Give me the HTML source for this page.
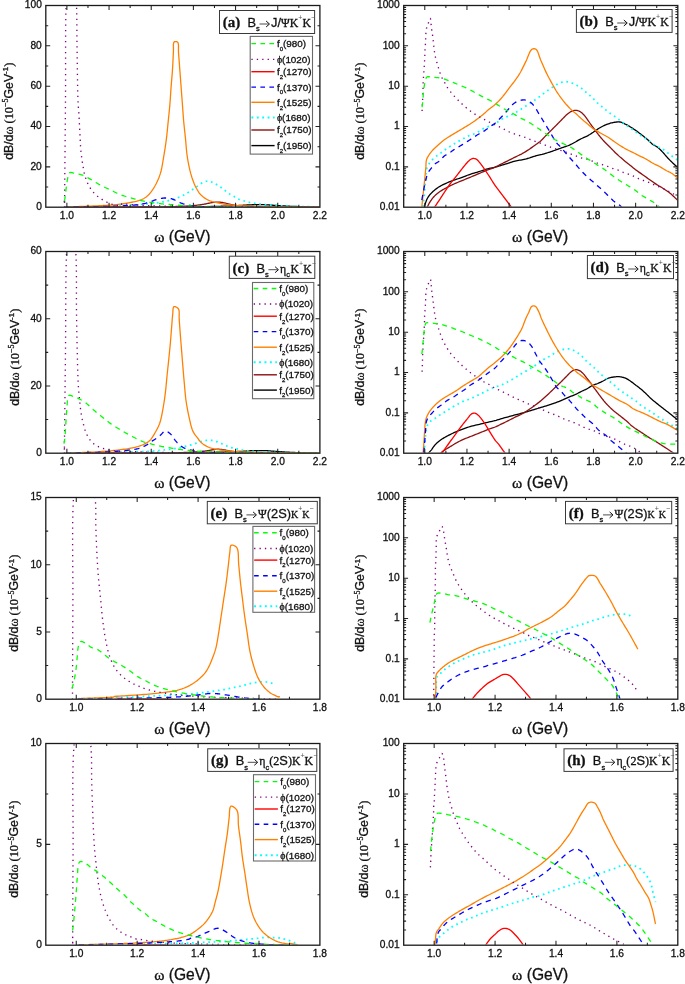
<!DOCTYPE html><html><head><meta charset="utf-8"><style>html,body{margin:0;padding:0;background:#fff;width:685px;height:984px;overflow:hidden}
svg{display:block;will-change:transform}
svg{font-family:"Liberation Sans", sans-serif}
text{fill:#111;stroke:#111;stroke-width:0.3px}
.tl{font-size:10.2px}
.xl{font-size:15.6px}
.yl{font-size:12.3px}
.tt{font-size:12.8px}
.lg{font-size:9.9px}
</style></head><body><svg width="685" height="984" viewBox="0 0 685 984">
<rect width="685" height="984" fill="#fff"/>
<g clip-path="url(#clipa)">
<path d="M66.60 207.18 L66.71 207.18 L66.81 207.18 L66.91 207.18 L67.02 207.18 L67.15 207.18 L67.30 207.18 L67.55 207.17 L67.84 207.17 L68.16 207.17 L68.52 207.17 L68.90 207.17 L69.30 207.17 L69.69 207.17 L70.10 207.16 L70.54 207.16 L71.00 207.16 L71.49 207.16 L72.00 207.16 L72.59 207.16 L73.22 207.16 L73.87 207.15 L74.56 207.15 L75.27 207.15 L76.00 207.15 L76.83 207.15 L77.69 207.14 L78.58 207.14 L79.49 207.14 L80.43 207.14 L81.40 207.14 L82.45 207.13 L83.53 207.13 L84.64 207.13 L85.77 207.13 L86.93 207.12 L88.10 207.12 L89.38 207.12 L90.70 207.12 L92.04 207.11 L93.39 207.11 L94.75 207.11 L96.10 207.11 L97.45 207.10 L98.80 207.10 L100.15 207.10 L101.50 207.09 L102.85 207.09 L104.20 207.09 L105.54 207.09 L106.87 207.08 L108.20 207.08 L109.53 207.08 L110.86 207.07 L112.20 207.07 L113.54 207.06 L114.89 207.06 L116.24 207.06 L117.60 207.06 L118.95 207.05 L120.30 207.05 L121.65 207.04 L122.99 207.04 L124.33 207.04 L125.67 207.03 L127.03 207.03 L128.40 207.02 L129.84 207.02 L131.31 207.02 L132.80 207.01 L134.27 207.01 L135.71 207.01 L137.10 207.00 L138.27 207.00 L139.40 206.99 L140.51 206.99 L141.60 206.99 L142.69 206.98 L143.80 206.98 L144.92 206.97 L146.03 206.97 L147.15 206.97 L148.27 206.96 L149.38 206.96 L150.50 206.95 L151.62 206.95 L152.73 206.94 L153.84 206.94 L154.96 206.93 L156.07 206.92 L157.20 206.92 L158.33 206.92 L159.46 206.91 L160.60 206.91 L161.73 206.91 L162.87 206.90 L164.00 206.90 L165.12 206.89 L166.24 206.89 L167.36 206.89 L168.48 206.88 L169.59 206.88 L170.70 206.87 L171.82 206.86 L172.94 206.86 L174.05 206.85 L175.16 206.84 L176.28 206.83 L177.40 206.83 L178.51 206.82 L179.63 206.81 L180.75 206.81 L181.87 206.80 L182.99 206.80 L184.10 206.79 L185.22 206.78 L186.34 206.77 L187.46 206.77 L188.57 206.76 L189.69 206.75 L190.80 206.74 L191.92 206.73 L193.04 206.72 L194.15 206.71 L195.27 206.70 L196.38 206.69 L197.50 206.67 L198.62 206.66 L199.73 206.65 L200.85 206.64 L201.96 206.62 L203.08 206.61 L204.20 206.60 L205.34 206.58 L206.49 206.57 L207.65 206.56 L208.79 206.54 L209.91 206.53 L211.00 206.51 L211.98 206.49 L212.92 206.47 L213.85 206.45 L214.77 206.43 L215.68 206.41 L216.60 206.39 L217.52 206.37 L218.41 206.34 L219.31 206.31 L220.21 206.28 L221.14 206.26 L222.10 206.23 L223.22 206.20 L224.40 206.17 L225.61 206.13 L226.81 206.10 L227.99 206.07 L229.10 206.03 L230.05 206.00 L230.97 205.96 L231.87 205.92 L232.74 205.88 L233.62 205.84 L234.50 205.79 L235.39 205.74 L236.27 205.69 L237.15 205.63 L238.02 205.58 L238.91 205.52 L239.80 205.46 L240.69 205.40 L241.58 205.35 L242.48 205.29 L243.38 205.23 L244.29 205.18 L245.20 205.12 L246.09 205.07 L246.98 205.02 L247.88 204.98 L248.78 204.93 L249.69 204.89 L250.60 204.84 L251.49 204.81 L252.38 204.77 L253.27 204.73 L254.17 204.70 L255.08 204.67 L256.00 204.65 L256.99 204.63 L258.00 204.60 L259.03 204.59 L260.05 204.58 L261.05 204.58 L262.00 204.59 L262.82 204.61 L263.62 204.65 L264.39 204.69 L265.15 204.74 L265.91 204.79 L266.70 204.84 L267.59 204.90 L268.49 204.96 L269.40 205.02 L270.30 205.08 L271.21 205.14 L272.10 205.20 L272.99 205.26 L273.88 205.32 L274.77 205.38 L275.65 205.44 L276.52 205.50 L277.40 205.56 L278.30 205.61 L279.19 205.67 L280.07 205.73 L280.97 205.78 L281.87 205.84 L282.80 205.89 L283.89 205.95 L285.02 206.01 L286.17 206.07 L287.31 206.13 L288.43 206.19 L289.50 206.24 L290.44 206.28 L291.34 206.33 L292.22 206.37 L293.10 206.41 L293.98 206.44 L294.90 206.47 L295.79 206.50 L296.70 206.52 L297.63 206.54 L298.55 206.56 L299.44 206.58 L300.30 206.60 L301.13 206.62 L301.94 206.65 L302.71 206.67 L303.48 206.69 L304.24 206.72 L305.00 206.74 L305.79 206.76 L306.56 206.78 L307.33 206.80 L308.10 206.82 L308.89 206.84 L309.70 206.86 L310.58 206.88 L311.49 206.90 L312.42 206.91 L313.35 206.93 L314.25 206.94 L315.10 206.95 L315.76 206.96 L316.41 206.97 L317.04 206.98 L317.65 206.98 L318.24 206.99 L318.80 206.99 L319.21 207.00 L319.61 207.00 L319.98 207.01 L320.35 207.01 L320.72 207.01 L321.10 207.02" stroke="#000000" stroke-width="1.3" fill="none" stroke-linejoin="round"/>
<path d="M69.30 207.18 L69.74 207.18 L70.17 207.18 L70.59 207.18 L71.03 207.18 L71.50 207.17 L72.00 207.17 L72.59 207.17 L73.21 207.17 L73.85 207.17 L74.54 207.17 L75.25 207.17 L76.00 207.16 L76.81 207.16 L77.67 207.16 L78.56 207.16 L79.48 207.16 L80.43 207.15 L81.40 207.15 L82.45 207.15 L83.53 207.15 L84.64 207.15 L85.77 207.14 L86.93 207.14 L88.10 207.14 L89.38 207.14 L90.70 207.13 L92.04 207.13 L93.39 207.13 L94.75 207.13 L96.10 207.12 L97.44 207.12 L98.79 207.12 L100.14 207.12 L101.50 207.11 L102.85 207.11 L104.20 207.11 L105.54 207.10 L106.87 207.10 L108.20 207.10 L109.53 207.10 L110.86 207.09 L112.20 207.09 L113.55 207.09 L114.90 207.08 L116.25 207.08 L117.60 207.07 L118.95 207.07 L120.30 207.07 L121.65 207.06 L122.99 207.06 L124.33 207.05 L125.67 207.05 L127.03 207.04 L128.40 207.04 L129.84 207.03 L131.32 207.03 L132.81 207.02 L134.28 207.01 L135.72 207.01 L137.10 207.00 L138.28 207.00 L139.41 206.99 L140.51 206.98 L141.60 206.97 L142.69 206.97 L143.80 206.96 L144.92 206.95 L146.03 206.94 L147.15 206.94 L148.27 206.93 L149.38 206.92 L150.50 206.91 L151.62 206.90 L152.73 206.89 L153.85 206.88 L154.96 206.87 L156.08 206.86 L157.20 206.85 L158.33 206.84 L159.47 206.83 L160.61 206.81 L161.75 206.80 L162.88 206.79 L164.00 206.77 L165.13 206.76 L166.26 206.74 L167.37 206.72 L168.49 206.70 L169.59 206.68 L170.70 206.66 L171.83 206.64 L172.97 206.61 L174.11 206.59 L175.23 206.56 L176.33 206.53 L177.40 206.50 L178.34 206.47 L179.26 206.44 L180.16 206.41 L181.05 206.38 L181.93 206.35 L182.80 206.31 L183.71 206.27 L184.59 206.22 L185.47 206.17 L186.34 206.11 L187.22 206.05 L188.10 205.99 L189.00 205.93 L189.89 205.86 L190.80 205.79 L191.70 205.72 L192.60 205.64 L193.50 205.56 L194.40 205.47 L195.30 205.38 L196.20 205.28 L197.11 205.18 L198.00 205.07 L198.90 204.96 L199.79 204.84 L200.67 204.72 L201.55 204.59 L202.43 204.45 L203.31 204.31 L204.20 204.15 L205.10 203.99 L206.01 203.81 L206.92 203.63 L207.82 203.44 L208.72 203.25 L209.60 203.08 L210.29 202.95 L210.97 202.82 L211.65 202.70 L212.32 202.59 L213.00 202.48 L213.70 202.39 L214.35 202.32 L215.02 202.25 L215.69 202.19 L216.36 202.15 L217.03 202.12 L217.70 202.11 L218.37 202.12 L219.05 202.14 L219.73 202.18 L220.40 202.24 L221.06 202.31 L221.70 202.39 L222.40 202.50 L223.10 202.63 L223.77 202.77 L224.44 202.92 L225.08 203.07 L225.70 203.22 L226.31 203.36 L226.88 203.51 L227.44 203.66 L227.98 203.80 L228.53 203.94 L229.10 204.08 L229.76 204.24 L230.42 204.40 L231.08 204.55 L231.75 204.70 L232.42 204.84 L233.10 204.96 L233.77 205.08 L234.46 205.18 L235.14 205.28 L235.83 205.38 L236.52 205.47 L237.20 205.56 L237.87 205.64 L238.52 205.72 L239.17 205.79 L239.83 205.86 L240.50 205.93 L241.20 205.99 L241.94 206.05 L242.70 206.11 L243.46 206.17 L244.25 206.22 L245.06 206.27 L245.90 206.32 L246.84 206.37 L247.82 206.41 L248.82 206.46 L249.84 206.50 L250.87 206.54 L251.90 206.57 L252.99 206.61 L254.10 206.65 L255.21 206.68 L256.33 206.72 L257.46 206.75 L258.60 206.77 L259.72 206.80 L260.84 206.82 L261.98 206.84 L263.12 206.86 L264.26 206.88 L265.40 206.90 L266.51 206.91 L267.63 206.93 L268.74 206.94 L269.86 206.95 L270.98 206.97 L272.10 206.98 L273.21 206.99 L274.33 207.00 L275.44 207.01 L276.55 207.02 L277.67 207.03 L278.80 207.04 L279.91 207.04 L281.02 207.05 L282.14 207.06 L283.26 207.06 L284.38 207.07 L285.50 207.07 L286.62 207.08 L287.73 207.09 L288.85 207.09 L289.96 207.10 L291.08 207.10 L292.20 207.10 L293.31 207.11 L294.42 207.11 L295.54 207.12 L296.65 207.12 L297.77 207.12 L298.90 207.13 L300.03 207.13 L301.16 207.13 L302.30 207.13 L303.44 207.14 L304.58 207.14 L305.70 207.14 L306.83 207.14 L307.97 207.15 L309.09 207.15 L310.21 207.15 L311.32 207.15 L312.40 207.16 L313.54 207.16 L314.69 207.16 L315.83 207.16 L316.92 207.17 L317.92 207.17 L318.80 207.17 L319.25 207.17 L319.65 207.17 L320.02 207.17 L320.38 207.17 L320.73 207.17 L321.10 207.17" stroke="#8c1010" stroke-width="1.3" fill="none" stroke-linejoin="round"/>
<path d="M65.20 207.18 L65.43 207.18 L65.67 207.17 L65.90 207.17 L66.14 207.16 L66.37 207.16 L66.60 207.15 L66.82 207.15 L67.04 207.14 L67.26 207.13 L67.47 207.12 L67.69 207.11 L67.90 207.10 L68.04 207.09 L68.13 207.07 L68.22 207.06 L68.36 207.04 L68.60 207.03 L69.00 207.01 L69.44 207.00 L69.97 206.98 L70.57 206.97 L71.22 206.96 L71.90 206.94 L72.60 206.93 L73.31 206.92 L74.05 206.90 L74.83 206.89 L75.64 206.88 L76.46 206.86 L77.30 206.85 L78.16 206.83 L79.05 206.82 L79.96 206.80 L80.87 206.79 L81.79 206.77 L82.70 206.76 L83.60 206.74 L84.50 206.72 L85.40 206.70 L86.29 206.68 L87.20 206.66 L88.10 206.64 L88.98 206.62 L89.86 206.61 L90.74 206.59 L91.63 206.57 L92.51 206.55 L93.40 206.53 L94.29 206.50 L95.19 206.48 L96.09 206.45 L96.99 206.43 L97.89 206.41 L98.80 206.38 L99.69 206.36 L100.58 206.33 L101.48 206.31 L102.38 206.29 L103.29 206.26 L104.20 206.24 L105.19 206.21 L106.18 206.17 L107.19 206.14 L108.20 206.10 L109.20 206.07 L110.20 206.03 L111.11 206.01 L112.01 205.98 L112.91 205.96 L113.81 205.94 L114.71 205.92 L115.60 205.89 L116.51 205.86 L117.41 205.83 L118.32 205.79 L119.21 205.75 L120.11 205.72 L121.00 205.67 L121.90 205.63 L122.79 205.57 L123.68 205.52 L124.57 205.46 L125.48 205.41 L126.40 205.36 L127.33 205.31 L128.28 205.27 L129.25 205.24 L130.21 205.20 L131.17 205.16 L132.10 205.12 L132.96 205.08 L133.80 205.05 L134.63 205.01 L135.46 204.97 L136.28 204.93 L137.10 204.87 L138.01 204.79 L138.91 204.70 L139.80 204.60 L140.69 204.49 L141.59 204.38 L142.50 204.27 L143.37 204.19 L144.25 204.10 L145.13 204.02 L146.02 203.95 L146.91 203.87 L147.80 203.79 L148.69 203.70 L149.59 203.63 L150.50 203.55 L151.40 203.46 L152.30 203.38 L153.20 203.28 L154.11 203.18 L155.01 203.07 L155.91 202.96 L156.81 202.84 L157.71 202.71 L158.60 202.58 L159.51 202.44 L160.41 202.28 L161.31 202.12 L162.21 201.95 L163.11 201.77 L164.00 201.59 L164.89 201.41 L165.77 201.22 L166.65 201.02 L167.54 200.82 L168.42 200.61 L169.30 200.39 L170.20 200.15 L171.10 199.90 L172.00 199.64 L172.90 199.36 L173.80 199.08 L174.70 198.79 L175.60 198.49 L176.51 198.18 L177.41 197.86 L178.31 197.53 L179.21 197.18 L180.10 196.81 L180.99 196.42 L181.87 196.00 L182.75 195.56 L183.63 195.11 L184.51 194.63 L185.40 194.14 L186.29 193.63 L187.19 193.10 L188.09 192.55 L188.99 191.97 L189.89 191.39 L190.80 190.80 L191.69 190.20 L192.59 189.59 L193.49 188.97 L194.39 188.34 L195.29 187.70 L196.20 187.05 L197.09 186.40 L197.97 185.71 L198.85 185.02 L199.75 184.35 L200.66 183.71 L201.60 183.15 L202.57 182.65 L203.56 182.19 L204.58 181.79 L205.60 181.47 L206.61 181.25 L207.60 181.15 L208.52 181.18 L209.43 181.33 L210.33 181.56 L211.22 181.87 L212.11 182.22 L213.00 182.60 L213.91 183.03 L214.82 183.52 L215.73 184.05 L216.63 184.60 L217.52 185.17 L218.40 185.75 L219.30 186.34 L220.19 186.94 L221.08 187.54 L221.96 188.16 L222.83 188.79 L223.70 189.43 L224.62 190.14 L225.52 190.87 L226.42 191.59 L227.31 192.30 L228.20 192.98 L229.10 193.61 L230.00 194.20 L230.91 194.76 L231.82 195.29 L232.72 195.81 L233.61 196.31 L234.50 196.81 L235.39 197.32 L236.27 197.82 L237.15 198.30 L238.02 198.76 L238.90 199.18 L239.80 199.57 L240.68 199.90 L241.58 200.20 L242.48 200.48 L243.39 200.75 L244.30 201.01 L245.20 201.26 L246.10 201.51 L246.98 201.76 L247.87 202.00 L248.76 202.23 L249.67 202.44 L250.60 202.63 L251.57 202.81 L252.57 202.98 L253.59 203.13 L254.61 203.28 L255.62 203.42 L256.60 203.56 L257.52 203.70 L258.43 203.84 L259.32 203.96 L260.21 204.09 L261.10 204.21 L262.00 204.32 L262.90 204.43 L263.80 204.54 L264.70 204.64 L265.60 204.73 L266.50 204.82 L267.40 204.91 L268.28 204.99 L269.17 205.07 L270.05 205.15 L270.93 205.22 L271.82 205.29 L272.70 205.36 L273.60 205.43 L274.50 205.49 L275.40 205.56 L276.30 205.62 L277.20 205.68 L278.10 205.73 L278.99 205.79 L279.88 205.84 L280.77 205.89 L281.67 205.93 L282.58 205.98 L283.50 206.02 L284.48 206.06 L285.49 206.10 L286.51 206.13 L287.52 206.17 L288.53 206.20 L289.50 206.24 L290.43 206.27 L291.33 206.31 L292.22 206.35 L293.10 206.38 L293.99 206.41 L294.90 206.44 L295.79 206.47 L296.68 206.49 L297.58 206.51 L298.48 206.54 L299.39 206.55 L300.30 206.57 L301.20 206.59 L302.10 206.60 L303.01 206.62 L303.92 206.63 L304.82 206.65 L305.70 206.66 L306.61 206.68 L307.49 206.70 L308.37 206.72 L309.24 206.74 L310.12 206.76 L311.00 206.77 L311.90 206.79 L312.80 206.81 L313.71 206.82 L314.62 206.84 L315.52 206.85 L316.40 206.86 L317.20 206.87 L317.99 206.88 L318.77 206.89 L319.54 206.90 L320.32 206.91 L321.10 206.92" stroke="#00ffff" stroke-width="1.75" fill="none" stroke-linejoin="round" stroke-dasharray="1.7 3.7"/>
<path d="M63.90 207.18 L64.12 207.18 L64.33 207.17 L64.55 207.17 L64.76 207.17 L64.98 207.16 L65.20 207.16 L65.43 207.15 L65.67 207.15 L65.90 207.14 L66.14 207.13 L66.37 207.12 L66.60 207.11 L66.83 207.10 L67.06 207.09 L67.28 207.07 L67.50 207.05 L67.71 207.03 L67.90 207.01 L68.01 206.99 L68.07 206.97 L68.12 206.96 L68.21 206.94 L68.35 206.92 L68.60 206.90 L68.85 206.88 L69.14 206.87 L69.46 206.86 L69.82 206.85 L70.20 206.83 L70.60 206.82 L71.09 206.80 L71.61 206.79 L72.17 206.77 L72.75 206.75 L73.36 206.73 L74.00 206.70 L74.71 206.68 L75.45 206.66 L76.22 206.63 L77.02 206.61 L77.84 206.58 L78.70 206.55 L79.73 206.52 L80.82 206.48 L81.94 206.43 L83.09 206.39 L84.25 206.34 L85.40 206.30 L86.50 206.25 L87.61 206.21 L88.72 206.17 L89.85 206.12 L90.97 206.08 L92.10 206.03 L93.21 205.99 L94.33 205.94 L95.44 205.89 L96.56 205.84 L97.68 205.79 L98.80 205.73 L99.92 205.68 L101.03 205.62 L102.15 205.56 L103.27 205.49 L104.38 205.43 L105.50 205.36 L106.62 205.28 L107.74 205.21 L108.86 205.13 L109.97 205.05 L110.00 205.20 L111.67 205.04 L113.33 204.89 L115.00 204.74 L116.67 204.58 L118.34 204.40 L120.00 204.20 L121.67 203.98 L123.34 203.74 L125.01 203.49 L126.67 203.21 L128.34 202.92 L130.00 202.60 L131.71 202.26 L133.48 201.90 L135.23 201.51 L136.94 201.10 L138.55 200.67 L140.00 200.20 L140.95 199.85 L141.83 199.50 L142.65 199.13 L143.44 198.74 L144.21 198.30 L145.00 197.80 L145.87 197.19 L146.73 196.52 L147.57 195.79 L148.39 195.02 L149.20 194.18 L150.00 193.30 L150.92 192.18 L151.82 190.98 L152.69 189.71 L153.55 188.36 L154.39 186.96 L155.20 185.50 L156.15 183.69 L157.09 181.79 L158.00 179.81 L158.86 177.74 L159.67 175.61 L160.40 173.40 L161.14 170.72 L161.77 167.90 L162.32 164.98 L162.83 162.00 L163.31 159.03 L163.80 156.10 L164.29 153.22 L164.75 150.34 L165.20 147.46 L165.62 144.57 L166.02 141.69 L166.40 138.80 L166.75 135.92 L167.06 133.04 L167.36 130.15 L167.64 127.27 L167.91 124.38 L168.20 121.50 L168.49 118.62 L168.79 115.73 L169.09 112.85 L169.37 109.97 L169.65 107.08 L169.90 104.20 L170.13 101.32 L170.33 98.43 L170.52 95.55 L170.70 92.67 L170.89 89.78 L171.10 86.90 L171.33 84.02 L171.57 81.13 L171.82 78.25 L172.06 75.37 L172.29 72.48 L172.50 69.60 L172.68 66.67 L172.83 63.67 L172.97 60.68 L173.11 57.74 L173.25 54.93 L173.40 52.30 L173.45 50.25 L173.42 48.12 L173.38 46.06 L173.44 44.23 L173.68 42.79 L174.20 41.90 L174.68 41.64 L175.28 41.53 L175.95 41.55 L176.62 41.69 L177.22 41.94 L177.70 42.30 L178.20 43.26 L178.44 44.66 L178.49 46.40 L178.46 48.33 L178.43 50.34 L178.50 52.30 L178.70 54.91 L178.91 57.72 L179.13 60.66 L179.36 63.66 L179.58 66.66 L179.80 69.60 L180.02 72.48 L180.23 75.37 L180.45 78.25 L180.67 81.13 L180.88 84.02 L181.10 86.90 L181.32 89.78 L181.53 92.67 L181.75 95.55 L181.97 98.43 L182.18 101.32 L182.40 104.20 L182.61 107.08 L182.81 109.97 L183.02 112.85 L183.23 115.73 L183.45 118.62 L183.70 121.50 L183.97 124.38 L184.27 127.27 L184.58 130.15 L184.89 133.03 L185.20 135.92 L185.50 138.80 L185.77 141.68 L186.01 144.57 L186.25 147.46 L186.51 150.34 L186.82 153.22 L187.20 156.10 L187.66 159.03 L188.17 162.00 L188.73 164.97 L189.34 167.89 L190.00 170.71 L190.70 173.40 L191.34 175.59 L192.01 177.72 L192.72 179.79 L193.45 181.78 L194.21 183.68 L195.00 185.50 L195.68 186.92 L196.38 188.25 L197.11 189.53 L197.84 190.78 L198.58 192.02 L199.30 193.30 L199.94 193.84 L201.03 195.02 L202.15 196.08 L203.29 197.04 L204.44 197.89 L205.60 198.64 L206.69 199.26 L207.79 199.82 L208.90 200.33 L210.02 200.79 L211.16 201.21 L212.30 201.59 L213.40 201.92 L214.51 202.22 L215.63 202.49 L216.76 202.74 L217.88 202.98 L219.00 203.22 L220.14 203.45 L221.31 203.67 L222.48 203.88 L223.62 204.08 L224.71 204.25 L225.70 204.39 L226.32 204.47 L226.88 204.54 L227.42 204.60 L227.95 204.66 L228.50 204.72 L229.10 204.79 L229.93 204.89 L230.80 204.99 L231.71 205.09 L232.64 205.19 L233.57 205.28 L234.50 205.36 L235.37 205.42 L236.24 205.48 L237.13 205.53 L238.02 205.58 L238.91 205.63 L239.80 205.67 L240.69 205.72 L241.59 205.76 L242.49 205.80 L243.39 205.84 L244.30 205.88 L245.20 205.92 L246.11 205.96 L247.03 205.99 L247.95 206.02 L248.86 206.06 L249.75 206.09 L250.60 206.12 L251.35 206.15 L252.05 206.18 L252.74 206.21 L253.43 206.24 L254.14 206.27 L254.90 206.30 L255.89 206.33 L256.92 206.37 L258.00 206.40 L259.09 206.44 L260.20 206.47 L261.30 206.50 L262.41 206.53 L263.54 206.55 L264.67 206.58 L265.81 206.60 L266.96 206.62 L268.10 206.64 L269.21 206.66 L270.33 206.68 L271.44 206.70 L272.56 206.71 L273.68 206.72 L274.80 206.74 L275.92 206.75 L277.03 206.77 L278.15 206.78 L279.27 206.80 L280.38 206.81 L281.50 206.82 L282.62 206.83 L283.74 206.84 L284.86 206.85 L285.98 206.86 L287.09 206.88 L288.20 206.89 L289.32 206.90 L290.44 206.91 L291.55 206.92 L292.66 206.93 L293.78 206.94 L294.90 206.95 L296.01 206.96 L297.13 206.97 L298.25 206.97 L299.37 206.98 L300.49 206.99 L301.60 206.99 L302.73 207.00 L303.87 207.01 L305.00 207.02 L306.12 207.02 L307.22 207.03 L308.30 207.04 L309.23 207.04 L310.15 207.04 L311.06 207.05 L311.95 207.05 L312.83 207.06 L313.70 207.06 L314.60 207.06 L315.51 207.07 L316.41 207.08 L317.26 207.08 L318.07 207.09 L318.80 207.09 L319.23 207.09 L319.63 207.09 L320.00 207.09 L320.36 207.10 L320.73 207.10 L321.10 207.10" stroke="#ff8000" stroke-width="1.3" fill="none" stroke-linejoin="round"/>
<path d="M63.90 207.17 L64.23 207.17 L64.56 207.16 L64.89 207.16 L65.22 207.15 L65.56 207.15 L65.90 207.14 L66.22 207.14 L66.54 207.13 L66.87 207.13 L67.20 207.12 L67.55 207.11 L67.90 207.10 L68.20 207.10 L68.50 207.09 L68.80 207.08 L69.12 207.08 L69.48 207.07 L69.90 207.06 L70.28 207.05 L70.69 207.05 L71.13 207.04 L71.59 207.04 L72.08 207.03 L72.60 207.02 L73.29 207.01 L74.04 207.00 L74.84 206.99 L75.66 206.98 L76.48 206.97 L77.30 206.96 L77.97 206.95 L78.65 206.95 L79.33 206.94 L80.01 206.93 L80.70 206.93 L81.40 206.92 L82.27 206.91 L83.14 206.89 L84.02 206.87 L84.91 206.86 L85.80 206.84 L86.70 206.82 L87.47 206.81 L88.25 206.80 L89.03 206.79 L89.82 206.78 L90.61 206.77 L91.40 206.76 L92.29 206.74 L93.19 206.72 L94.10 206.70 L95.01 206.68 L95.91 206.66 L96.80 206.64 L97.58 206.63 L98.35 206.61 L99.11 206.60 L99.88 206.58 L100.67 206.57 L101.50 206.55 L102.56 206.53 L103.68 206.50 L104.83 206.47 L105.98 206.44 L107.11 206.41 L108.20 206.38 L109.13 206.35 L110.04 206.32 L110.92 206.29 L111.80 206.26 L112.69 206.23 L113.60 206.20 L114.58 206.16 L115.57 206.12 L116.57 206.08 L117.57 206.03 L118.59 205.99 L119.60 205.94 L120.60 205.90 L121.62 205.86 L122.64 205.82 L123.66 205.77 L124.68 205.73 L125.70 205.67 L126.83 205.61 L127.97 205.53 L129.12 205.45 L130.25 205.36 L131.35 205.27 L132.40 205.18 L133.24 205.11 L134.05 205.05 L134.85 204.98 L135.62 204.91 L136.37 204.84 L137.10 204.76 L137.77 204.68 L138.41 204.60 L139.03 204.51 L139.64 204.41 L140.26 204.31 L140.90 204.21 L141.60 204.09 L142.32 203.96 L143.03 203.83 L143.76 203.69 L144.48 203.54 L145.20 203.37 L145.98 203.18 L146.76 202.97 L147.55 202.75 L148.33 202.51 L149.11 202.25 L149.90 201.99 L150.67 201.71 L151.43 201.42 L152.19 201.10 L152.96 200.78 L153.76 200.46 L154.60 200.15 L155.42 199.87 L156.26 199.60 L157.13 199.33 L158.02 199.08 L158.94 198.85 L159.90 198.64 L160.96 198.45 L162.08 198.27 L163.23 198.13 L164.39 198.02 L165.52 197.97 L166.60 197.98 L167.55 198.05 L168.49 198.17 L169.41 198.33 L170.30 198.52 L171.17 198.74 L172.00 198.98 L172.86 199.26 L173.69 199.57 L174.48 199.90 L175.25 200.24 L175.99 200.58 L176.70 200.91 L177.43 201.27 L178.11 201.63 L178.77 201.98 L179.40 202.31 L180.04 202.62 L180.70 202.91 L181.38 203.18 L182.06 203.42 L182.75 203.66 L183.44 203.88 L184.12 204.08 L184.80 204.27 L185.47 204.46 L186.15 204.63 L186.82 204.79 L187.49 204.94 L188.15 205.08 L188.80 205.20 L189.38 205.31 L189.96 205.40 L190.54 205.49 L191.10 205.58 L191.66 205.66 L192.20 205.73 L192.70 205.80 L193.19 205.87 L193.66 205.94 L194.13 206.00 L194.61 206.06 L195.10 206.11 L195.60 206.16 L196.09 206.21 L196.60 206.26 L197.11 206.30 L197.64 206.34 L198.20 206.38 L198.73 206.41 L199.29 206.44 L199.85 206.46 L200.43 206.49 L201.01 206.51 L201.60 206.53 L202.25 206.56 L202.92 206.59 L203.59 206.61 L204.26 206.64 L204.93 206.66 L205.60 206.68 L206.27 206.71 L206.93 206.73 L207.60 206.75 L208.26 206.77 L208.93 206.79 L209.60 206.81 L210.28 206.82 L210.96 206.84 L211.65 206.86 L212.33 206.87 L213.02 206.88 L213.70 206.90 L214.37 206.91 L215.04 206.92 L215.70 206.93 L216.37 206.94 L217.04 206.96 L217.70 206.97 L218.37 206.98 L219.04 206.99 L219.70 206.99 L220.36 207.00 L221.03 207.01 L221.70 207.02 L222.36 207.03 L223.01 207.03 L223.67 207.04 L224.33 207.05 L225.01 207.05 L225.70 207.06 L226.46 207.07 L227.24 207.07 L228.03 207.08 L228.83 207.08 L229.62 207.09 L230.40 207.09 L231.08 207.10 L231.76 207.10 L232.43 207.10 L233.10 207.11 L233.79 207.11 L234.50 207.11 L235.35 207.12 L236.22 207.12 L237.11 207.12 L238.01 207.13 L238.91 207.13 L239.80 207.13 L240.70 207.14 L241.60 207.14 L242.51 207.14 L243.41 207.14 L244.31 207.15 L245.20 207.15 L246.11 207.15 L247.01 207.15 L247.91 207.16 L248.80 207.16 L249.70 207.16 L250.60 207.16 L251.49 207.16 L252.38 207.17 L253.28 207.17 L254.17 207.17 L255.08 207.17 L256.00 207.17 L256.88 207.17 L257.79 207.17 L258.71 207.17 L259.61 207.18 L260.48 207.18 L261.30 207.18 L261.99 207.18 L262.64 207.18 L263.26 207.18 L263.87 207.18 L264.48 207.18 L265.10 207.18" stroke="#0000ff" stroke-width="1.3" fill="none" stroke-linejoin="round" stroke-dasharray="5.2 4.6"/>
<path d="M76.70 207.18 L77.48 207.18 L78.26 207.18 L79.04 207.18 L79.82 207.17 L80.60 207.17 L81.40 207.17 L82.27 207.17 L83.14 207.16 L84.03 207.16 L84.92 207.16 L85.81 207.16 L86.70 207.15 L87.59 207.15 L88.48 207.14 L89.37 207.14 L90.27 207.13 L91.18 207.13 L92.10 207.12 L92.98 207.12 L93.88 207.11 L94.79 207.11 L95.70 207.10 L96.60 207.10 L97.50 207.09 L98.39 207.08 L99.27 207.07 L100.15 207.07 L101.03 207.06 L101.91 207.05 L102.80 207.04 L103.70 207.03 L104.61 207.01 L105.53 207.00 L106.43 206.99 L107.33 206.97 L108.20 206.96 L108.89 206.95 L109.57 206.94 L110.24 206.93 L110.90 206.92 L111.56 206.91 L112.20 206.90 L112.66 206.89 L113.10 206.89 L113.53 206.88 L113.97 206.88 L114.43 206.88 L114.90 206.87 L115.44 206.87 L116.01 206.87 L116.60 206.88 L117.18 206.88 L117.75 206.88 L118.30 206.89 L118.91 206.89 L119.48 206.90 L120.04 206.91 L120.59 206.92 L121.14 206.93 L121.70 206.94 L122.36 206.95 L123.02 206.96 L123.67 206.98 L124.33 206.99 L125.01 207.00 L125.70 207.01 L126.56 207.02 L127.44 207.04 L128.35 207.05 L129.26 207.06 L130.18 207.07 L131.10 207.08 L132.10 207.09 L133.12 207.10 L134.15 207.11 L135.16 207.12 L136.15 207.12 L137.10 207.13 L137.80 207.13 L138.47 207.14 L139.13 207.14 L139.78 207.14 L140.44 207.15 L141.10 207.15 L141.78 207.15 L142.46 207.15 L143.15 207.16 L143.83 207.16 L144.52 207.16 L145.20 207.16 L145.87 207.16 L146.54 207.17 L147.21 207.17 L147.87 207.17 L148.54 207.17 L149.20 207.17 L149.90 207.17 L150.64 207.17 L151.38 207.18 L152.08 207.18 L152.70 207.18 L153.20 207.18 L153.39 207.18 L153.55 207.18 L153.70 207.18 L153.83 207.18 L153.96 207.18 L154.10 207.18" stroke="#ff0000" stroke-width="1.3" fill="none" stroke-linejoin="round"/>
<path d="M64.20 202.31 L64.23 202.03 L64.26 201.73 L64.29 201.42 L64.32 201.09 L64.36 200.75 L64.40 200.39 L64.45 200.03 L64.50 199.66 L64.55 199.27 L64.60 207.20 L64.60 206.10 L64.60 205.11 L64.59 204.12 L64.59 203.02 L64.59 201.68 L64.60 200.00 L64.67 190.01 L64.80 175.21 L64.97 157.21 L65.16 137.61 L65.35 118.00 L65.50 100.00 L65.57 83.04 L65.57 65.72 L65.57 48.41 L65.62 31.45 L65.81 15.19 L66.20 0.00 L66.64 -12.27 L67.17 -25.57 L67.77 -38.44 L68.45 -49.44 L69.20 -57.11 L70.00 -60.00 L70.96 -56.86 L72.10 -48.59 L73.30 -36.98 L74.46 -23.82 L75.47 -10.90 L76.20 0.00 L76.58 7.81 L76.78 15.29 L76.86 22.59 L76.88 29.87 L76.91 37.29 L77.00 45.00 L77.15 54.39 L77.28 64.53 L77.42 74.84 L77.57 84.75 L77.76 93.66 L78.00 101.00 L78.15 104.03 L78.31 106.63 L78.49 108.96 L78.66 111.19 L78.84 113.49 L79.00 116.00 L79.17 119.19 L79.34 122.54 L79.50 125.96 L79.66 129.39 L79.83 132.76 L80.00 136.00 L80.15 138.78 L80.28 141.51 L80.42 144.18 L80.58 146.82 L80.76 149.42 L81.00 152.00 L81.27 154.42 L81.58 156.83 L81.91 159.21 L82.27 161.55 L82.63 163.82 L83.00 166.00 L83.30 167.77 L83.58 169.47 L83.87 171.13 L84.18 172.75 L84.56 174.37 L85.00 176.00 L85.53 177.70 L86.10 179.42 L86.74 181.13 L87.43 182.81 L88.18 184.44 L89.00 186.00 L89.85 187.45 L90.77 188.86 L91.74 190.23 L92.77 191.54 L93.86 192.80 L95.00 194.00 L96.21 195.14 L97.50 196.22 L98.85 197.24 L100.22 198.21 L101.62 199.13 L103.00 200.00 L104.29 200.78 L105.59 201.53 L106.89 202.23 L108.22 202.88 L109.59 203.47 L111.00 204.00 L112.58 204.47 L114.22 204.84 L115.91 205.15 L117.61 205.42 L119.32 205.69 L121.00 206.00 L121.78 203.73 L122.68 203.82 L123.58 203.91 L124.49 204.00 L125.40 204.08 L126.34 204.17 L127.28 204.26 L128.22 204.35 L129.18 204.43 L130.13 204.51 L131.10 204.59 L132.10 204.66 L133.13 204.73 L134.16 204.79 L135.18 204.85 L136.17 204.91 L137.10 204.96 L137.81 205.01 L138.47 205.05 L139.12 205.09 L139.75 205.12 L140.41 205.16 L141.10 205.20 L141.95 205.25 L142.84 205.30 L143.75 205.35 L144.67 205.40 L145.59 205.44 L146.50 205.49 L147.40 205.53 L148.30 205.58 L149.20 205.62 L150.09 205.66 L151.00 205.70 L151.90 205.73 L152.77 205.76 L153.65 205.79 L154.52 205.82 L155.40 205.84 L156.29 205.87 L157.20 205.89 L158.19 205.92 L159.20 205.94 L160.22 205.96 L161.25 205.99 L162.28 206.01 L163.30 206.03 L164.31 206.05 L165.32 206.07 L166.33 206.10 L167.33 206.12 L168.32 206.14 L169.30 206.16 L170.22 206.18 L171.13 206.20 L172.02 206.23 L172.91 206.25 L173.80 206.27 L174.70 206.29 L175.60 206.31 L176.50 206.32 L177.40 206.34 L178.30 206.35 L179.20 206.37 L180.10 206.38 L180.99 206.40 L181.87 206.41 L182.75 206.43 L183.63 206.44 L184.51 206.46 L185.40 206.47 L186.30 206.49 L187.19 206.50 L188.10 206.51 L189.00 206.53 L189.90 206.54 L190.80 206.55 L191.70 206.56 L192.60 206.58 L193.50 206.59 L194.40 206.60 L195.30 206.61 L196.20 206.62 L197.10 206.63 L198.00 206.64 L198.90 206.65 L199.80 206.66 L200.70 206.67 L201.60 206.67 L202.49 206.68 L203.37 206.69 L204.25 206.70 L205.14 206.71 L206.02 206.71 L206.90 206.72 L207.80 206.73 L208.70 206.74 L209.60 206.75 L210.50 206.76 L211.40 206.77 L212.30 206.77 L213.20 206.78 L214.10 206.79 L215.00 206.80 L215.90 206.81 L216.80 206.81 L217.70 206.82 L218.60 206.83 L219.49 206.84 L220.38 206.84 L221.27 206.85 L222.18 206.86 L223.10 206.86 L224.08 206.87 L225.08 206.87 L226.10 206.88 L227.11 206.88 L228.12 206.88 L229.10 206.89 L230.02 206.89 L230.93 206.90 L231.83 206.90 L232.72 206.91 L233.61 206.91 L234.50 206.92 L235.39 206.93 L236.27 206.93 L237.15 206.94 L238.03 206.94 L238.91 206.95 L239.80 206.95 L240.69 206.96 L241.59 206.96 L242.49 206.96 L243.40 206.97 L244.30 206.97 L245.20 206.97 L246.10 206.98 L247.00 206.98 L247.90 206.99 L248.80 206.99 L249.70 206.99 L250.60 207.00 L251.50 207.00 L252.40 207.01 L253.30 207.01 L254.20 207.01 L255.10 207.02 L256.00 207.02 L256.88 207.02 L257.77 207.03 L258.65 207.03 L259.54 207.03 L260.42 207.03 L261.30 207.04 L262.20 207.04 L263.10 207.04 L264.00 207.05 L264.89 207.05 L265.79 207.05 L266.70 207.06 L267.59 207.06 L268.50 207.06 L269.40 207.06 L270.31 207.07 L271.21 207.07 L272.10 207.07 L272.99 207.07 L273.88 207.08 L274.76 207.08 L275.64 207.08 L276.52 207.08 L277.40 207.09 L278.30 207.09 L279.19 207.09 L280.09 207.10 L280.99 207.10 L281.89 207.10 L282.80 207.10 L283.69 207.10 L284.59 207.11 L285.50 207.11 L286.40 207.11 L287.31 207.11 L288.20 207.11 L289.11 207.11 L290.01 207.12 L290.91 207.12 L291.81 207.12 L292.70 207.12 L293.60 207.12 L294.48 207.12 L295.37 207.13 L296.25 207.13 L297.13 207.13 L298.01 207.13 L298.90 207.13 L299.78 207.13 L300.66 207.13 L301.55 207.14 L302.43 207.14 L303.32 207.14 L304.20 207.14 L305.12 207.14 L306.03 207.14 L306.94 207.14 L307.85 207.15 L308.77 207.15 L309.70 207.15 L310.69 207.15 L311.69 207.15 L312.70 207.15 L313.71 207.15 L314.71 207.16 L315.70 207.16 L316.61 207.16 L317.51 207.16 L318.41 207.16 L319.31 207.16 L320.20 207.16 L321.10 207.16" stroke="#800080" stroke-width="1.35" fill="none" stroke-linejoin="round" stroke-dasharray="1.3 4.2"/>
<path d="M64.20 201.12 L64.34 200.69 L64.48 200.21 L64.62 199.71 L64.75 199.17 L64.88 198.59 L65.00 197.98 L65.10 197.36 L65.18 196.70 L65.25 196.00 L65.32 195.25 L65.40 194.46 L65.50 193.61 L65.61 192.71 L65.72 191.76 L65.84 190.74 L65.98 189.66 L66.13 188.51 L66.30 187.28 L66.49 185.92 L66.70 184.42 L66.92 182.81 L67.16 181.15 L67.42 179.52 L67.70 178.00 L67.87 177.06 L68.02 176.13 L68.17 175.25 L68.36 174.43 L68.63 173.72 L69.00 173.14 L69.81 172.61 L70.87 172.51 L72.09 172.69 L73.41 173.04 L74.74 173.42 L76.00 173.72 L77.32 173.94 L78.67 174.19 L80.03 174.48 L81.40 174.82 L82.76 175.24 L84.10 175.75 L85.44 176.37 L86.76 177.07 L88.08 177.83 L89.40 178.62 L90.74 179.43 L92.10 180.25 L93.63 181.16 L95.19 182.11 L96.76 183.06 L98.34 184.00 L99.93 184.90 L101.50 185.75 L103.07 186.53 L104.64 187.27 L106.22 187.98 L107.79 188.68 L109.35 189.39 L110.90 190.13 L112.47 190.91 L114.02 191.72 L115.57 192.51 L117.12 193.28 L118.69 193.99 L120.30 194.66 L122.09 195.30 L123.95 195.92 L125.85 196.50 L127.71 197.04 L129.48 197.54 L131.10 197.98 L132.21 198.29 L133.25 198.56 L134.24 198.82 L135.20 199.07 L136.15 199.32 L137.10 199.57 L138.02 199.80 L138.91 200.03 L139.78 200.26 L140.67 200.48 L141.57 200.70 L142.50 200.91 L143.57 201.14 L144.67 201.37 L145.79 201.60 L146.93 201.81 L148.07 202.01 L149.20 202.20 L150.31 202.36 L151.43 202.51 L152.55 202.66 L153.67 202.80 L154.79 202.94 L155.90 203.08 L157.02 203.23 L158.14 203.38 L159.25 203.52 L160.36 203.67 L161.48 203.80 L162.60 203.92 L163.71 204.03 L164.83 204.12 L165.95 204.21 L167.07 204.30 L168.19 204.39 L169.30 204.48 L170.43 204.58 L171.55 204.68 L172.67 204.77 L173.78 204.87 L174.89 204.96 L176.00 205.05 L177.14 205.14 L178.27 205.23 L179.41 205.32 L180.54 205.40 L181.67 205.48 L182.80 205.56 L183.92 205.63 L185.04 205.70 L186.15 205.76 L187.26 205.83 L188.38 205.89 L189.50 205.94 L190.62 206.00 L191.75 206.05 L192.88 206.10 L194.00 206.14 L195.11 206.18 L196.20 206.22 L197.12 206.25 L198.03 206.28 L198.93 206.30 L199.82 206.32 L200.71 206.34 L201.60 206.36 L202.48 206.38 L203.37 206.40 L204.25 206.42 L205.13 206.44 L206.01 206.46 L206.90 206.47 L207.80 206.49 L208.70 206.51 L209.61 206.52 L210.51 206.54 L211.41 206.56 L212.30 206.57 L213.21 206.59 L214.12 206.61 L215.02 206.63 L215.92 206.65 L216.81 206.67 L217.70 206.68 L218.60 206.70 L219.50 206.72 L220.39 206.74 L221.28 206.76 L222.18 206.77 L223.10 206.79 L224.08 206.81 L225.08 206.82 L226.09 206.84 L227.10 206.85 L228.11 206.86 L229.10 206.87 L230.01 206.89 L230.92 206.90 L231.82 206.90 L232.71 206.91 L233.61 206.92 L234.50 206.93 L235.39 206.94 L236.27 206.95 L237.15 206.96 L238.03 206.96 L238.91 206.97 L239.80 206.98 L240.70 206.99 L241.60 206.99 L242.51 207.00 L243.41 207.00 L244.31 207.01 L245.20 207.02 L246.11 207.02 L247.01 207.03 L247.91 207.04 L248.81 207.04 L249.70 207.05 L250.60 207.05 L251.49 207.06 L252.37 207.07 L253.26 207.07 L254.15 207.08 L255.06 207.08 L256.00 207.08 L257.07 207.09 L258.17 207.09 L259.29 207.10 L260.43 207.10 L261.56 207.11 L262.70 207.11 L263.81 207.12 L264.92 207.12 L266.04 207.12 L267.16 207.12 L268.28 207.13 L269.40 207.13 L270.52 207.13 L271.64 207.13 L272.77 207.14 L273.89 207.14 L275.00 207.14 L276.10 207.14 L277.23 207.15 L278.35 207.15 L279.45 207.15 L280.55 207.15 L281.67 207.16 L282.80 207.16 L283.90 207.16 L285.01 207.16 L286.13 207.16 L287.25 207.16 L288.38 207.17 L289.50 207.17 L290.64 207.17 L291.79 207.17 L292.95 207.17 L294.09 207.17 L295.21 207.17 L296.30 207.17 L297.31 207.18 L298.29 207.18 L299.25 207.18 L300.20 207.18 L301.14 207.18 L302.10 207.18" stroke="#00ff00" stroke-width="1.3" fill="none" stroke-linejoin="round" stroke-dasharray="5 4.6"/>
</g>
<g clip-path="url(#clipb)">
<path d="M424.50 207.10 L424.61 206.61 L424.71 206.13 L424.81 205.65 L424.92 205.16 L425.05 204.65 L425.20 204.10 L425.45 203.27 L425.74 202.37 L426.06 201.43 L426.42 200.48 L426.80 199.56 L427.20 198.70 L427.59 197.98 L428.00 197.29 L428.44 196.63 L428.90 195.98 L429.39 195.34 L429.90 194.70 L430.49 194.01 L431.12 193.33 L431.77 192.66 L432.46 192.00 L433.17 191.34 L433.90 190.70 L434.73 190.00 L435.59 189.31 L436.48 188.63 L437.39 187.96 L438.33 187.32 L439.30 186.70 L440.35 186.08 L441.43 185.49 L442.54 184.92 L443.67 184.37 L444.83 183.83 L446.00 183.30 L447.28 182.75 L448.60 182.22 L449.94 181.70 L451.29 181.20 L452.65 180.70 L454.00 180.20 L455.35 179.71 L456.70 179.22 L458.05 178.74 L459.40 178.27 L460.75 177.79 L462.10 177.30 L463.44 176.80 L464.77 176.29 L466.10 175.77 L467.43 175.26 L468.76 174.77 L470.10 174.30 L471.44 173.87 L472.79 173.47 L474.14 173.08 L475.50 172.70 L476.85 172.31 L478.20 171.90 L479.55 171.46 L480.89 170.99 L482.23 170.52 L483.57 170.06 L484.93 169.61 L486.30 169.20 L487.74 168.83 L489.21 168.49 L490.70 168.17 L492.17 167.86 L493.61 167.54 L495.00 167.20 L496.17 166.88 L497.30 166.55 L498.41 166.21 L499.50 165.87 L500.59 165.54 L501.70 165.20 L502.82 164.87 L503.93 164.54 L505.05 164.21 L506.17 163.87 L507.28 163.54 L508.40 163.20 L509.52 162.85 L510.63 162.48 L511.74 162.11 L512.86 161.74 L513.97 161.41 L515.10 161.10 L516.23 160.84 L517.36 160.62 L518.50 160.42 L519.63 160.23 L520.77 160.03 L521.90 159.80 L523.02 159.56 L524.14 159.31 L525.26 159.05 L526.38 158.79 L527.49 158.50 L528.60 158.20 L529.72 157.86 L530.84 157.49 L531.95 157.10 L533.06 156.71 L534.18 156.34 L535.30 156.00 L536.41 155.70 L537.53 155.44 L538.65 155.19 L539.77 154.94 L540.89 154.68 L542.00 154.40 L543.12 154.09 L544.24 153.77 L545.36 153.44 L546.47 153.10 L547.59 152.75 L548.70 152.40 L549.82 152.03 L550.94 151.66 L552.05 151.27 L553.17 150.88 L554.28 150.49 L555.40 150.10 L556.52 149.71 L557.63 149.31 L558.75 148.90 L559.86 148.50 L560.98 148.10 L562.10 147.70 L563.24 147.31 L564.39 146.92 L565.55 146.54 L566.69 146.15 L567.81 145.74 L568.90 145.30 L569.88 144.87 L570.82 144.42 L571.75 143.96 L572.67 143.48 L573.58 142.99 L574.50 142.50 L575.42 141.99 L576.31 141.45 L577.21 140.91 L578.11 140.36 L579.04 139.82 L580.00 139.30 L581.12 138.75 L582.30 138.23 L583.51 137.71 L584.71 137.19 L585.89 136.66 L587.00 136.10 L587.95 135.58 L588.87 135.04 L589.77 134.50 L590.64 133.94 L591.52 133.38 L592.40 132.80 L593.29 132.20 L594.17 131.57 L595.05 130.94 L595.92 130.31 L596.81 129.69 L597.70 129.10 L598.59 128.54 L599.48 128.00 L600.38 127.46 L601.28 126.95 L602.19 126.46 L603.10 126.00 L603.99 125.58 L604.88 125.18 L605.78 124.80 L606.68 124.45 L607.59 124.11 L608.50 123.80 L609.39 123.51 L610.28 123.24 L611.17 122.99 L612.07 122.77 L612.98 122.57 L613.90 122.40 L614.89 122.24 L615.90 122.10 L616.93 121.98 L617.95 121.91 L618.95 121.91 L619.90 122.00 L620.72 122.17 L621.52 122.42 L622.29 122.72 L623.05 123.07 L623.81 123.43 L624.60 123.80 L625.49 124.22 L626.39 124.68 L627.30 125.16 L628.20 125.66 L629.11 126.18 L630.00 126.70 L630.89 127.23 L631.78 127.78 L632.67 128.34 L633.55 128.92 L634.42 129.50 L635.30 130.10 L636.20 130.73 L637.09 131.37 L637.97 132.02 L638.87 132.69 L639.77 133.39 L640.70 134.10 L641.79 134.95 L642.92 135.83 L644.07 136.75 L645.21 137.67 L646.33 138.59 L647.40 139.50 L648.34 140.34 L649.24 141.19 L650.12 142.04 L651.00 142.87 L651.88 143.67 L652.80 144.40 L653.69 145.01 L654.60 145.54 L655.53 146.05 L656.45 146.55 L657.34 147.09 L658.20 147.70 L659.03 148.40 L659.84 149.15 L660.61 149.94 L661.38 150.75 L662.14 151.57 L662.90 152.40 L663.69 153.27 L664.46 154.17 L665.23 155.08 L666.00 155.99 L666.79 156.90 L667.60 157.80 L668.48 158.73 L669.39 159.67 L670.32 160.60 L671.25 161.51 L672.15 162.39 L673.00 163.20 L673.66 163.81 L674.31 164.40 L674.94 164.96 L675.55 165.50 L676.14 166.01 L676.70 166.50 L677.11 166.86 L677.51 167.20 L677.88 167.53 L678.25 167.85 L678.62 168.17 L679.00 168.50" stroke="#000000" stroke-width="1.3" fill="none" stroke-linejoin="round"/>
<path d="M427.20 207.10 L427.64 206.27 L428.07 205.43 L428.49 204.60 L428.93 203.76 L429.40 202.93 L429.90 202.10 L430.49 201.19 L431.11 200.27 L431.75 199.35 L432.44 198.44 L433.15 197.55 L433.90 196.70 L434.71 195.86 L435.57 195.04 L436.46 194.24 L437.38 193.47 L438.33 192.72 L439.30 192.00 L440.35 191.28 L441.43 190.59 L442.54 189.93 L443.67 189.28 L444.83 188.64 L446.00 188.00 L447.28 187.31 L448.60 186.62 L449.94 185.95 L451.29 185.28 L452.65 184.63 L454.00 184.00 L455.34 183.40 L456.69 182.82 L458.04 182.26 L459.40 181.71 L460.75 181.16 L462.10 180.60 L463.44 180.05 L464.77 179.50 L466.10 178.95 L467.43 178.40 L468.76 177.85 L470.10 177.30 L471.45 176.74 L472.80 176.17 L474.15 175.60 L475.50 175.04 L476.85 174.47 L478.20 173.90 L479.55 173.33 L480.89 172.76 L482.23 172.19 L483.57 171.62 L484.93 171.06 L486.30 170.50 L487.74 169.94 L489.22 169.40 L490.71 168.87 L492.18 168.33 L493.62 167.78 L495.00 167.20 L496.18 166.66 L497.31 166.09 L498.41 165.52 L499.50 164.94 L500.59 164.37 L501.70 163.80 L502.82 163.25 L503.93 162.70 L505.05 162.15 L506.17 161.60 L507.28 161.05 L508.40 160.50 L509.52 159.94 L510.63 159.37 L511.75 158.80 L512.86 158.23 L513.98 157.66 L515.10 157.10 L516.23 156.55 L517.37 156.02 L518.51 155.49 L519.65 154.95 L520.78 154.39 L521.90 153.80 L523.03 153.17 L524.16 152.51 L525.27 151.83 L526.39 151.13 L527.49 150.42 L528.60 149.70 L529.73 148.94 L530.87 148.16 L532.01 147.37 L533.13 146.57 L534.23 145.78 L535.30 145.00 L536.24 144.32 L537.16 143.66 L538.06 143.00 L538.95 142.33 L539.83 141.64 L540.70 140.90 L541.61 140.06 L542.49 139.18 L543.37 138.27 L544.24 137.34 L545.12 136.41 L546.00 135.50 L546.90 134.60 L547.79 133.70 L548.70 132.80 L549.60 131.90 L550.50 131.00 L551.40 130.10 L552.30 129.20 L553.20 128.30 L554.10 127.40 L555.01 126.50 L555.90 125.60 L556.80 124.70 L557.69 123.80 L558.57 122.90 L559.45 122.00 L560.33 121.09 L561.21 120.19 L562.10 119.30 L563.00 118.39 L563.91 117.45 L564.82 116.51 L565.72 115.60 L566.62 114.76 L567.50 114.00 L568.19 113.45 L568.87 112.93 L569.55 112.46 L570.22 112.02 L570.90 111.64 L571.60 111.30 L572.25 111.03 L572.92 110.79 L573.59 110.59 L574.26 110.43 L574.93 110.33 L575.60 110.30 L576.27 110.33 L576.95 110.42 L577.63 110.56 L578.30 110.76 L578.96 111.00 L579.60 111.30 L580.30 111.71 L581.00 112.20 L581.67 112.75 L582.34 113.35 L582.98 113.97 L583.60 114.60 L584.21 115.25 L584.78 115.94 L585.34 116.64 L585.88 117.38 L586.43 118.13 L587.00 118.90 L587.66 119.81 L588.32 120.77 L588.98 121.76 L589.65 122.75 L590.32 123.74 L591.00 124.70 L591.67 125.62 L592.36 126.52 L593.04 127.42 L593.73 128.31 L594.42 129.20 L595.10 130.10 L595.77 131.00 L596.42 131.90 L597.07 132.80 L597.73 133.71 L598.40 134.61 L599.10 135.50 L599.84 136.42 L600.60 137.34 L601.36 138.25 L602.15 139.17 L602.96 140.08 L603.80 141.00 L604.74 141.99 L605.72 142.98 L606.72 143.97 L607.74 144.97 L608.77 145.98 L609.80 147.00 L610.89 148.11 L612.00 149.26 L613.11 150.41 L614.23 151.57 L615.36 152.70 L616.50 153.80 L617.62 154.84 L618.74 155.86 L619.88 156.87 L621.02 157.86 L622.16 158.83 L623.30 159.80 L624.41 160.73 L625.53 161.64 L626.64 162.53 L627.76 163.42 L628.88 164.31 L630.00 165.20 L631.11 166.09 L632.23 166.99 L633.34 167.89 L634.45 168.77 L635.57 169.65 L636.70 170.50 L637.81 171.31 L638.92 172.10 L640.04 172.87 L641.16 173.65 L642.28 174.42 L643.40 175.20 L644.52 176.00 L645.63 176.80 L646.75 177.61 L647.86 178.41 L648.98 179.21 L650.10 180.00 L651.21 180.78 L652.32 181.56 L653.44 182.34 L654.55 183.11 L655.67 183.86 L656.80 184.60 L657.93 185.30 L659.06 185.98 L660.20 186.64 L661.34 187.31 L662.48 187.99 L663.60 188.70 L664.73 189.44 L665.87 190.19 L666.99 190.95 L668.11 191.73 L669.22 192.55 L670.30 193.40 L671.44 194.37 L672.59 195.43 L673.73 196.52 L674.82 197.59 L675.82 198.57 L676.70 199.40 L677.15 199.81 L677.55 200.18 L677.92 200.52 L678.28 200.84 L678.63 201.16 L679.00 201.50" stroke="#8c1010" stroke-width="1.3" fill="none" stroke-linejoin="round"/>
<path d="M423.10 206.80 L423.33 204.32 L423.57 201.84 L423.80 199.35 L424.04 196.88 L424.27 194.42 L424.50 192.00 L424.72 189.71 L424.94 187.43 L425.16 185.16 L425.37 182.93 L425.59 180.74 L425.80 178.60 L425.94 176.71 L426.03 174.81 L426.12 172.95 L426.26 171.16 L426.50 169.47 L426.90 167.90 L427.34 166.73 L427.87 165.65 L428.47 164.63 L429.12 163.65 L429.80 162.72 L430.50 161.80 L431.21 160.94 L431.95 160.12 L432.73 159.33 L433.54 158.57 L434.36 157.83 L435.20 157.10 L436.06 156.39 L436.95 155.71 L437.86 155.05 L438.77 154.41 L439.69 153.76 L440.60 153.10 L441.50 152.43 L442.40 151.75 L443.30 151.07 L444.19 150.40 L445.10 149.74 L446.00 149.10 L446.88 148.51 L447.76 147.93 L448.64 147.37 L449.53 146.81 L450.41 146.26 L451.30 145.70 L452.19 145.13 L453.09 144.55 L453.99 143.96 L454.89 143.39 L455.79 142.84 L456.70 142.30 L457.59 141.81 L458.48 141.34 L459.38 140.89 L460.28 140.44 L461.19 139.98 L462.10 139.50 L463.09 138.94 L464.08 138.35 L465.09 137.75 L466.10 137.16 L467.10 136.60 L468.10 136.10 L469.01 135.71 L469.91 135.38 L470.81 135.07 L471.71 134.77 L472.61 134.46 L473.50 134.10 L474.41 133.69 L475.31 133.27 L476.22 132.82 L477.11 132.36 L478.01 131.89 L478.90 131.40 L479.80 130.87 L480.69 130.30 L481.58 129.71 L482.47 129.13 L483.38 128.59 L484.30 128.10 L485.23 127.69 L486.18 127.32 L487.15 126.98 L488.11 126.66 L489.07 126.34 L490.00 126.00 L490.86 125.69 L491.70 125.39 L492.53 125.09 L493.36 124.78 L494.18 124.42 L495.00 124.00 L495.91 123.43 L496.81 122.76 L497.70 122.04 L498.59 121.32 L499.49 120.62 L500.40 120.00 L501.27 119.49 L502.15 119.01 L503.03 118.57 L503.92 118.14 L504.81 117.72 L505.70 117.30 L506.59 116.89 L507.49 116.49 L508.40 116.11 L509.30 115.72 L510.20 115.32 L511.10 114.90 L512.01 114.45 L512.91 113.98 L513.81 113.51 L514.71 113.02 L515.61 112.51 L516.50 112.00 L517.41 111.46 L518.31 110.90 L519.21 110.33 L520.11 109.75 L521.01 109.17 L521.90 108.60 L522.79 108.04 L523.67 107.48 L524.55 106.92 L525.44 106.35 L526.32 105.78 L527.20 105.20 L528.10 104.60 L529.00 103.98 L529.90 103.36 L530.80 102.74 L531.70 102.12 L532.60 101.50 L533.50 100.89 L534.41 100.28 L535.31 99.67 L536.21 99.05 L537.11 98.43 L538.00 97.80 L538.89 97.15 L539.77 96.49 L540.65 95.82 L541.53 95.14 L542.41 94.47 L543.30 93.80 L544.19 93.13 L545.09 92.45 L545.99 91.78 L546.89 91.11 L547.79 90.45 L548.70 89.80 L549.59 89.18 L550.49 88.56 L551.39 87.95 L552.29 87.36 L553.19 86.77 L554.10 86.20 L554.99 85.64 L555.87 85.07 L556.75 84.52 L557.65 83.99 L558.56 83.51 L559.50 83.10 L560.47 82.74 L561.46 82.42 L562.48 82.14 L563.50 81.92 L564.51 81.77 L565.50 81.70 L566.42 81.72 L567.33 81.82 L568.23 81.98 L569.12 82.19 L570.01 82.43 L570.90 82.70 L571.81 83.01 L572.72 83.37 L573.63 83.76 L574.53 84.19 L575.42 84.64 L576.30 85.10 L577.20 85.59 L578.09 86.10 L578.98 86.63 L579.86 87.19 L580.73 87.78 L581.60 88.40 L582.52 89.11 L583.42 89.88 L584.32 90.67 L585.21 91.49 L586.10 92.30 L587.00 93.10 L587.90 93.88 L588.81 94.65 L589.72 95.42 L590.62 96.19 L591.51 96.99 L592.40 97.80 L593.29 98.68 L594.17 99.59 L595.05 100.52 L595.92 101.44 L596.80 102.34 L597.70 103.20 L598.58 103.98 L599.48 104.72 L600.38 105.44 L601.29 106.15 L602.20 106.87 L603.10 107.60 L604.00 108.36 L604.88 109.14 L605.77 109.93 L606.66 110.71 L607.57 111.47 L608.50 112.20 L609.47 112.90 L610.47 113.57 L611.49 114.23 L612.51 114.87 L613.52 115.53 L614.50 116.20 L615.42 116.87 L616.33 117.55 L617.22 118.24 L618.11 118.93 L619.00 119.62 L619.90 120.30 L620.80 120.97 L621.70 121.64 L622.60 122.31 L623.50 122.98 L624.40 123.64 L625.30 124.30 L626.18 124.94 L627.07 125.57 L627.95 126.20 L628.83 126.83 L629.72 127.46 L630.60 128.10 L631.50 128.76 L632.40 129.43 L633.30 130.10 L634.20 130.77 L635.10 131.44 L636.00 132.10 L636.89 132.75 L637.78 133.39 L638.67 134.03 L639.57 134.66 L640.48 135.29 L641.40 135.90 L642.38 136.51 L643.39 137.10 L644.41 137.68 L645.42 138.26 L646.43 138.87 L647.40 139.50 L648.33 140.17 L649.23 140.88 L650.12 141.61 L651.00 142.33 L651.89 143.04 L652.80 143.70 L653.69 144.30 L654.58 144.87 L655.48 145.43 L656.38 145.97 L657.29 146.49 L658.20 147.00 L659.10 147.47 L660.00 147.90 L660.91 148.31 L661.82 148.73 L662.72 149.19 L663.60 149.70 L664.51 150.31 L665.39 150.98 L666.27 151.68 L667.14 152.39 L668.02 153.11 L668.90 153.80 L669.80 154.48 L670.70 155.16 L671.61 155.84 L672.52 156.51 L673.42 157.17 L674.30 157.80 L675.10 158.36 L675.89 158.90 L676.67 159.43 L677.44 159.95 L678.22 160.47 L679.00 161.00" stroke="#00ffff" stroke-width="1.75" fill="none" stroke-linejoin="round" stroke-dasharray="1.7 3.7"/>
<path d="M421.80 207.10 L422.02 205.04 L422.23 202.98 L422.45 200.93 L422.66 198.87 L422.88 196.79 L423.10 194.70 L423.33 192.50 L423.57 190.27 L423.80 188.03 L424.04 185.79 L424.27 183.54 L424.50 181.30 L424.73 179.03 L424.96 176.71 L425.18 174.39 L425.40 172.12 L425.61 169.94 L425.80 167.90 L425.91 166.40 L425.97 164.94 L426.02 163.53 L426.11 162.19 L426.25 160.95 L426.50 159.80 L426.75 159.04 L427.04 158.34 L427.36 157.70 L427.72 157.08 L428.10 156.45 L428.50 155.80 L428.99 155.02 L429.51 154.23 L430.07 153.44 L430.65 152.65 L431.26 151.87 L431.90 151.10 L432.61 150.30 L433.35 149.52 L434.12 148.75 L434.92 147.98 L435.74 147.20 L436.60 146.40 L437.63 145.44 L438.72 144.46 L439.84 143.46 L440.99 142.47 L442.15 141.51 L443.30 140.60 L444.40 139.79 L445.51 139.01 L446.62 138.26 L447.75 137.53 L448.87 136.81 L450.00 136.10 L451.11 135.41 L452.23 134.74 L453.34 134.07 L454.46 133.42 L455.58 132.76 L456.70 132.10 L457.82 131.43 L458.93 130.77 L460.05 130.11 L461.17 129.44 L462.28 128.77 L463.40 128.10 L464.52 127.43 L465.64 126.76 L466.76 126.09 L467.87 125.41 L468.99 124.71 L470.10 124.00 L471.24 123.25 L472.38 122.49 L473.52 121.71 L474.65 120.92 L475.78 120.12 L476.90 119.30 L478.04 118.45 L479.18 117.57 L480.32 116.67 L481.44 115.77 L482.53 114.88 L483.60 114.00 L484.54 113.21 L485.44 112.42 L486.32 111.63 L487.20 110.85 L488.08 110.07 L489.00 109.30 L489.97 108.52 L490.97 107.77 L491.97 107.02 L492.98 106.26 L494.00 105.46 L495.00 104.60 L496.12 103.58 L497.25 102.50 L498.38 101.38 L499.50 100.22 L500.61 99.03 L501.70 97.80 L502.85 96.43 L503.97 95.01 L505.08 93.54 L506.19 92.05 L507.29 90.57 L508.40 89.10 L509.53 87.64 L510.68 86.18 L511.83 84.72 L512.96 83.26 L514.06 81.82 L515.10 80.40 L515.98 79.17 L516.81 77.98 L517.62 76.80 L518.41 75.60 L519.20 74.34 L520.00 73.00 L520.99 71.24 L521.97 69.36 L522.95 67.40 L523.94 65.39 L524.92 63.38 L525.90 61.40 L526.88 59.22 L527.83 56.81 L528.78 54.39 L529.76 52.19 L530.79 50.42 L531.90 49.30 L532.56 48.97 L533.26 48.77 L533.98 48.71 L534.69 48.77 L535.37 48.97 L536.00 49.30 L536.94 50.30 L537.76 51.86 L538.50 53.80 L539.20 55.93 L539.92 58.09 L540.70 60.10 L541.62 62.20 L542.56 64.36 L543.51 66.56 L544.48 68.75 L545.44 70.87 L546.40 72.90 L547.23 74.58 L548.05 76.19 L548.88 77.76 L549.71 79.30 L550.54 80.84 L551.40 82.40 L552.27 83.98 L553.13 85.55 L554.01 87.13 L554.91 88.69 L555.83 90.25 L556.80 91.80 L557.84 93.40 L558.93 95.01 L560.05 96.61 L561.19 98.19 L562.34 99.72 L563.50 101.20 L564.59 102.52 L565.69 103.80 L566.80 105.05 L567.92 106.26 L569.06 107.45 L570.20 108.60 L571.30 109.66 L572.41 110.67 L573.53 111.66 L574.66 112.63 L575.78 113.61 L576.90 114.60 L578.04 115.64 L579.21 116.72 L580.38 117.81 L581.52 118.86 L582.61 119.83 L583.60 120.70 L584.22 121.21 L584.78 121.66 L585.32 122.08 L585.85 122.48 L586.40 122.92 L587.00 123.40 L587.83 124.12 L588.70 124.91 L589.61 125.74 L590.54 126.57 L591.47 127.37 L592.40 128.10 L593.27 128.71 L594.14 129.29 L595.03 129.83 L595.92 130.35 L596.81 130.87 L597.70 131.40 L598.59 131.93 L599.49 132.45 L600.39 132.97 L601.29 133.48 L602.20 133.99 L603.10 134.50 L604.01 135.00 L604.93 135.49 L605.85 135.98 L606.76 136.48 L607.65 136.98 L608.50 137.50 L609.25 137.99 L609.95 138.49 L610.64 139.00 L611.33 139.52 L612.04 140.05 L612.80 140.60 L613.79 141.30 L614.82 142.03 L615.90 142.78 L616.99 143.53 L618.10 144.28 L619.20 145.00 L620.31 145.71 L621.44 146.42 L622.57 147.12 L623.71 147.80 L624.86 148.46 L626.00 149.10 L627.11 149.69 L628.23 150.25 L629.34 150.79 L630.46 151.32 L631.58 151.85 L632.70 152.40 L633.82 152.96 L634.93 153.53 L636.05 154.10 L637.17 154.67 L638.28 155.24 L639.40 155.80 L640.52 156.35 L641.64 156.88 L642.76 157.41 L643.88 157.95 L644.99 158.51 L646.10 159.10 L647.22 159.75 L648.34 160.44 L649.45 161.15 L650.56 161.86 L651.68 162.55 L652.80 163.20 L653.91 163.78 L655.03 164.33 L656.15 164.86 L657.27 165.38 L658.39 165.92 L659.50 166.50 L660.63 167.14 L661.77 167.82 L662.90 168.52 L664.02 169.22 L665.12 169.88 L666.20 170.50 L667.13 170.98 L668.05 171.41 L668.96 171.82 L669.85 172.24 L670.73 172.69 L671.60 173.20 L672.50 173.83 L673.41 174.54 L674.31 175.28 L675.16 176.02 L675.97 176.71 L676.70 177.30 L677.13 177.63 L677.53 177.93 L677.90 178.20 L678.26 178.46 L678.63 178.73 L679.00 179.00" stroke="#ff8000" stroke-width="1.3" fill="none" stroke-linejoin="round"/>
<path d="M421.80 200.10 L422.13 198.29 L422.46 196.47 L422.79 194.65 L423.12 192.84 L423.46 191.05 L423.80 189.30 L424.12 187.69 L424.44 186.09 L424.77 184.51 L425.10 182.96 L425.45 181.45 L425.80 180.00 L426.10 178.78 L426.40 177.57 L426.70 176.40 L427.02 175.27 L427.38 174.20 L427.80 173.20 L428.18 172.45 L428.59 171.77 L429.03 171.13 L429.49 170.51 L429.98 169.87 L430.50 169.20 L431.19 168.31 L431.94 167.36 L432.74 166.39 L433.56 165.45 L434.38 164.57 L435.20 163.80 L435.87 163.27 L436.55 162.83 L437.23 162.44 L437.91 162.05 L438.60 161.61 L439.30 161.10 L440.17 160.32 L441.04 159.41 L441.92 158.44 L442.81 157.48 L443.70 156.58 L444.60 155.80 L445.37 155.26 L446.15 154.81 L446.93 154.40 L447.72 154.00 L448.51 153.58 L449.30 153.10 L450.19 152.48 L451.09 151.81 L452.00 151.10 L452.91 150.39 L453.81 149.72 L454.70 149.10 L455.48 148.61 L456.25 148.16 L457.01 147.74 L457.78 147.32 L458.57 146.88 L459.40 146.40 L460.46 145.77 L461.58 145.09 L462.73 144.39 L463.88 143.68 L465.01 142.98 L466.10 142.30 L467.03 141.71 L467.94 141.13 L468.82 140.55 L469.70 139.98 L470.59 139.40 L471.50 138.80 L472.48 138.14 L473.47 137.47 L474.47 136.78 L475.47 136.10 L476.49 135.44 L477.50 134.80 L478.50 134.21 L479.52 133.67 L480.54 133.13 L481.56 132.59 L482.58 132.02 L483.60 131.40 L484.73 130.64 L485.87 129.82 L487.02 128.96 L488.15 128.10 L489.25 127.27 L490.30 126.50 L491.14 125.91 L491.95 125.37 L492.75 124.84 L493.52 124.31 L494.27 123.77 L495.00 123.20 L495.67 122.63 L496.31 122.05 L496.93 121.45 L497.54 120.84 L498.16 120.23 L498.80 119.60 L499.50 118.92 L500.22 118.22 L500.93 117.52 L501.66 116.80 L502.38 116.06 L503.10 115.30 L503.88 114.44 L504.66 113.55 L505.45 112.64 L506.23 111.72 L507.01 110.80 L507.80 109.90 L508.57 108.99 L509.33 108.06 L510.09 107.14 L510.86 106.23 L511.66 105.38 L512.50 104.60 L513.32 103.92 L514.16 103.27 L515.03 102.67 L515.92 102.12 L516.84 101.63 L517.80 101.20 L518.86 100.81 L519.98 100.46 L521.13 100.18 L522.29 99.98 L523.42 99.88 L524.50 99.90 L525.45 100.03 L526.39 100.26 L527.31 100.57 L528.20 100.95 L529.07 101.40 L529.90 101.90 L530.76 102.51 L531.59 103.22 L532.38 104.00 L533.15 104.83 L533.89 105.70 L534.60 106.60 L535.33 107.62 L536.01 108.71 L536.67 109.85 L537.30 111.01 L537.94 112.17 L538.60 113.30 L539.28 114.42 L539.96 115.53 L540.65 116.65 L541.34 117.77 L542.02 118.88 L542.70 120.00 L543.37 121.12 L544.05 122.26 L544.72 123.40 L545.39 124.52 L546.05 125.63 L546.70 126.70 L547.28 127.64 L547.86 128.55 L548.44 129.44 L549.00 130.32 L549.56 131.21 L550.10 132.10 L550.60 132.97 L551.09 133.84 L551.56 134.71 L552.03 135.58 L552.51 136.44 L553.00 137.30 L553.50 138.16 L553.99 139.02 L554.50 139.88 L555.01 140.72 L555.54 141.53 L556.10 142.30 L556.63 142.95 L557.19 143.55 L557.75 144.13 L558.33 144.70 L558.91 145.28 L559.50 145.90 L560.15 146.62 L560.82 147.35 L561.49 148.11 L562.16 148.87 L562.83 149.64 L563.50 150.40 L564.17 151.18 L564.83 151.96 L565.50 152.74 L566.16 153.53 L566.83 154.32 L567.50 155.10 L568.18 155.89 L568.86 156.68 L569.55 157.46 L570.23 158.25 L570.92 159.03 L571.60 159.80 L572.27 160.54 L572.94 161.27 L573.60 162.00 L574.27 162.72 L574.94 163.46 L575.60 164.20 L576.27 164.97 L576.94 165.76 L577.60 166.55 L578.26 167.35 L578.93 168.13 L579.60 168.90 L580.26 169.63 L580.91 170.35 L581.57 171.06 L582.23 171.77 L582.91 172.48 L583.60 173.20 L584.36 173.99 L585.14 174.79 L585.93 175.60 L586.73 176.40 L587.52 177.17 L588.30 177.90 L588.98 178.50 L589.66 179.07 L590.33 179.61 L591.00 180.15 L591.69 180.71 L592.40 181.30 L593.25 182.04 L594.12 182.81 L595.01 183.60 L595.91 184.40 L596.81 185.21 L597.70 186.00 L598.60 186.78 L599.50 187.55 L600.41 188.32 L601.31 189.10 L602.21 189.89 L603.10 190.70 L604.01 191.57 L604.91 192.47 L605.81 193.38 L606.70 194.30 L607.60 195.21 L608.50 196.10 L609.39 196.98 L610.28 197.86 L611.18 198.74 L612.07 199.60 L612.98 200.43 L613.90 201.20 L614.78 201.86 L615.69 202.46 L616.61 203.04 L617.51 203.60 L618.38 204.18 L619.20 204.80 L619.89 205.39 L620.54 206.00 L621.16 206.62 L621.77 207.25 L622.38 207.88 L623.00 208.50" stroke="#0000ff" stroke-width="1.3" fill="none" stroke-linejoin="round" stroke-dasharray="5.2 4.6"/>
<path d="M434.60 207.10 L435.38 205.94 L436.16 204.79 L436.94 203.63 L437.72 202.47 L438.50 201.30 L439.30 200.10 L440.17 198.78 L441.04 197.44 L441.93 196.08 L442.82 194.72 L443.71 193.35 L444.60 192.00 L445.49 190.65 L446.38 189.29 L447.27 187.94 L448.17 186.59 L449.08 185.28 L450.00 184.00 L450.88 182.84 L451.78 181.71 L452.69 180.60 L453.60 179.51 L454.50 178.41 L455.40 177.30 L456.29 176.17 L457.17 175.04 L458.05 173.90 L458.93 172.76 L459.81 171.63 L460.70 170.50 L461.60 169.36 L462.51 168.19 L463.43 167.02 L464.33 165.89 L465.23 164.80 L466.10 163.80 L466.79 163.03 L467.47 162.28 L468.14 161.56 L468.80 160.90 L469.46 160.30 L470.10 159.80 L470.56 159.48 L471.00 159.20 L471.43 158.95 L471.87 158.75 L472.33 158.60 L472.80 158.50 L473.34 158.46 L473.91 158.47 L474.50 158.54 L475.08 158.67 L475.65 158.85 L476.20 159.10 L476.81 159.49 L477.38 159.98 L477.94 160.55 L478.49 161.18 L479.04 161.84 L479.60 162.50 L480.26 163.30 L480.92 164.15 L481.57 165.03 L482.23 165.96 L482.91 166.92 L483.60 167.90 L484.46 169.13 L485.34 170.42 L486.25 171.75 L487.16 173.12 L488.08 174.51 L489.00 175.90 L490.00 177.45 L491.02 179.07 L492.05 180.72 L493.06 182.34 L494.05 183.88 L495.00 185.30 L495.70 186.30 L496.37 187.22 L497.03 188.11 L497.68 188.96 L498.34 189.82 L499.00 190.70 L499.68 191.60 L500.36 192.50 L501.05 193.40 L501.73 194.30 L502.42 195.20 L503.10 196.10 L503.77 196.99 L504.44 197.87 L505.11 198.75 L505.77 199.63 L506.44 200.51 L507.10 201.40 L507.80 202.34 L508.54 203.32 L509.28 204.31 L509.98 205.25 L510.60 206.10 L511.10 206.80 L511.29 207.08 L511.45 207.33 L511.60 207.55 L511.73 207.77 L511.86 207.98 L512.00 208.20" stroke="#ff0000" stroke-width="1.3" fill="none" stroke-linejoin="round"/>
<path d="M422.10 111.00 L422.13 110.03 L422.16 109.06 L422.19 108.08 L422.22 107.11 L422.26 106.15 L422.30 105.20 L422.35 104.30 L422.40 103.42 L422.45 102.54 L422.50 101.66 L422.55 100.78 L422.60 99.90 L422.64 99.00 L422.67 98.10 L422.71 97.20 L422.74 96.30 L422.77 95.40 L422.80 94.50 L422.83 93.60 L422.87 92.70 L422.91 91.80 L422.94 90.90 L422.97 90.00 L423.00 89.10 L423.02 88.20 L423.03 87.30 L423.04 86.40 L423.06 85.50 L423.07 84.60 L423.10 83.70 L423.14 82.82 L423.18 81.94 L423.23 81.06 L423.29 80.19 L423.34 79.30 L423.40 78.40 L423.46 77.43 L423.53 76.44 L423.59 75.44 L423.66 74.44 L423.73 73.46 L423.80 72.50 L423.87 71.64 L423.94 70.81 L424.00 69.99 L424.07 69.17 L424.14 68.34 L424.20 67.50 L424.26 66.61 L424.31 65.72 L424.36 64.81 L424.40 63.91 L424.45 63.00 L424.50 62.10 L424.55 61.20 L424.61 60.30 L424.66 59.40 L424.71 58.50 L424.76 57.60 L424.80 56.70 L424.82 55.80 L424.84 54.90 L424.84 54.00 L424.85 53.10 L424.87 52.20 L424.90 51.30 L424.95 50.41 L425.01 49.53 L425.09 48.65 L425.16 47.77 L425.24 46.89 L425.30 46.00 L425.36 45.10 L425.41 44.20 L425.46 43.30 L425.51 42.40 L425.56 41.50 L425.60 40.60 L425.64 39.70 L425.67 38.80 L425.69 37.91 L425.72 37.01 L425.76 36.11 L425.80 35.20 L425.84 34.27 L425.87 33.33 L425.90 32.39 L425.96 31.46 L426.05 30.52 L426.20 29.60 L426.41 28.67 L426.68 27.75 L426.99 26.84 L427.32 25.93 L427.66 25.02 L428.00 24.10 L428.38 23.02 L428.80 21.77 L429.23 20.52 L429.64 19.43 L430.01 18.67 L430.30 18.40 L430.47 18.62 L430.59 19.16 L430.68 19.91 L430.75 20.79 L430.82 21.69 L430.90 22.50 L431.00 23.38 L431.10 24.31 L431.19 25.25 L431.29 26.21 L431.39 27.16 L431.50 28.10 L431.62 29.01 L431.75 29.91 L431.89 30.81 L432.03 31.71 L432.17 32.60 L432.30 33.50 L432.42 34.39 L432.54 35.27 L432.66 36.15 L432.78 37.03 L432.89 37.91 L433.00 38.80 L433.11 39.70 L433.21 40.59 L433.31 41.49 L433.40 42.39 L433.50 43.30 L433.60 44.20 L433.70 45.11 L433.79 46.03 L433.89 46.95 L433.98 47.87 L434.09 48.79 L434.20 49.70 L434.32 50.60 L434.43 51.51 L434.56 52.41 L434.69 53.31 L434.84 54.20 L435.00 55.10 L435.18 56.00 L435.39 56.91 L435.60 57.81 L435.83 58.71 L436.06 59.61 L436.30 60.50 L436.55 61.39 L436.81 62.27 L437.08 63.15 L437.36 64.03 L437.63 64.91 L437.90 65.80 L438.16 66.70 L438.43 67.60 L438.69 68.51 L438.95 69.41 L439.22 70.31 L439.50 71.20 L439.78 72.07 L440.05 72.94 L440.32 73.81 L440.62 74.67 L440.94 75.53 L441.30 76.40 L441.75 77.35 L442.25 78.30 L442.78 79.26 L443.33 80.21 L443.88 81.16 L444.40 82.10 L444.88 83.01 L445.34 83.92 L445.79 84.82 L446.26 85.72 L446.76 86.61 L447.30 87.50 L447.94 88.45 L448.62 89.39 L449.34 90.33 L450.08 91.26 L450.84 92.19 L451.60 93.10 L452.38 94.02 L453.19 94.93 L454.00 95.84 L454.83 96.73 L455.66 97.62 L456.50 98.50 L457.33 99.37 L458.17 100.23 L459.01 101.08 L459.86 101.92 L460.73 102.76 L461.60 103.60 L462.51 104.45 L463.43 105.31 L464.37 106.16 L465.31 107.00 L466.26 107.81 L467.20 108.60 L468.09 109.31 L468.99 110.00 L469.89 110.68 L470.79 111.33 L471.69 111.97 L472.60 112.60 L473.48 113.20 L474.35 113.78 L475.23 114.36 L476.12 114.92 L477.01 115.47 L477.90 116.00 L478.79 116.51 L479.68 117.00 L480.58 117.47 L481.48 117.94 L482.39 118.42 L483.30 118.90 L484.24 119.41 L485.18 119.94 L486.12 120.47 L487.08 120.99 L488.03 121.51 L489.00 122.00 L490.00 122.48 L491.03 122.94 L492.06 123.40 L493.08 123.84 L494.07 124.27 L495.00 124.70 L495.71 125.04 L496.37 125.37 L497.02 125.69 L497.65 126.02 L498.31 126.35 L499.00 126.70 L499.85 127.13 L500.74 127.57 L501.65 128.02 L502.57 128.49 L503.49 128.95 L504.40 129.40 L505.30 129.86 L506.20 130.32 L507.10 130.79 L507.99 131.25 L508.90 131.69 L509.80 132.10 L510.67 132.47 L511.55 132.82 L512.42 133.15 L513.30 133.46 L514.19 133.78 L515.10 134.10 L516.09 134.44 L517.10 134.78 L518.12 135.11 L519.15 135.44 L520.18 135.77 L521.20 136.10 L522.21 136.43 L523.22 136.75 L524.23 137.07 L525.23 137.40 L526.22 137.74 L527.20 138.10 L528.12 138.48 L529.03 138.89 L529.92 139.31 L530.81 139.73 L531.70 140.13 L532.60 140.50 L533.50 140.83 L534.40 141.13 L535.30 141.42 L536.20 141.70 L537.10 141.99 L538.00 142.30 L538.89 142.63 L539.77 142.98 L540.65 143.34 L541.53 143.70 L542.41 144.05 L543.30 144.40 L544.20 144.74 L545.09 145.07 L546.00 145.41 L546.90 145.74 L547.80 146.07 L548.70 146.40 L549.60 146.74 L550.50 147.08 L551.40 147.42 L552.30 147.75 L553.20 148.08 L554.10 148.40 L555.00 148.70 L555.90 148.99 L556.80 149.27 L557.70 149.55 L558.60 149.82 L559.50 150.10 L560.39 150.37 L561.27 150.62 L562.15 150.88 L563.04 151.14 L563.92 151.41 L564.80 151.70 L565.70 152.02 L566.60 152.37 L567.50 152.73 L568.40 153.09 L569.30 153.45 L570.20 153.80 L571.10 154.14 L572.00 154.47 L572.90 154.81 L573.80 155.14 L574.70 155.47 L575.60 155.80 L576.50 156.14 L577.39 156.49 L578.28 156.84 L579.17 157.18 L580.08 157.50 L581.00 157.80 L581.98 158.07 L582.98 158.30 L584.00 158.51 L585.01 158.72 L586.02 158.94 L587.00 159.20 L587.92 159.48 L588.83 159.79 L589.73 160.10 L590.62 160.43 L591.51 160.77 L592.40 161.10 L593.29 161.44 L594.17 161.80 L595.05 162.16 L595.93 162.52 L596.81 162.87 L597.70 163.20 L598.59 163.50 L599.49 163.79 L600.39 164.06 L601.30 164.33 L602.20 164.61 L603.10 164.90 L604.00 165.20 L604.90 165.51 L605.80 165.83 L606.70 166.15 L607.60 166.47 L608.50 166.80 L609.40 167.14 L610.30 167.50 L611.20 167.87 L612.10 168.23 L613.00 168.57 L613.90 168.90 L614.78 169.18 L615.67 169.44 L616.55 169.68 L617.44 169.92 L618.32 170.19 L619.20 170.50 L620.10 170.88 L621.00 171.30 L621.90 171.75 L622.79 172.20 L623.69 172.62 L624.60 173.00 L625.49 173.31 L626.40 173.57 L627.30 173.80 L628.21 174.04 L629.11 174.30 L630.00 174.60 L630.89 174.95 L631.78 175.33 L632.66 175.74 L633.54 176.15 L634.42 176.58 L635.30 177.00 L636.20 177.45 L637.09 177.92 L637.99 178.40 L638.89 178.87 L639.79 179.31 L640.70 179.70 L641.59 180.02 L642.49 180.28 L643.40 180.52 L644.30 180.75 L645.21 181.00 L646.10 181.30 L647.01 181.66 L647.91 182.05 L648.81 182.46 L649.71 182.88 L650.60 183.30 L651.50 183.70 L652.38 184.09 L653.27 184.48 L654.15 184.87 L655.03 185.26 L655.91 185.63 L656.80 186.00 L657.68 186.34 L658.56 186.67 L659.45 186.98 L660.33 187.30 L661.22 187.64 L662.10 188.00 L663.02 188.41 L663.93 188.84 L664.84 189.28 L665.75 189.75 L666.67 190.22 L667.60 190.70 L668.59 191.23 L669.59 191.79 L670.60 192.36 L671.61 192.93 L672.61 193.48 L673.60 194.00 L674.51 194.45 L675.41 194.87 L676.31 195.28 L677.21 195.69 L678.10 196.09 L679.00 196.50" stroke="#800080" stroke-width="1.35" fill="none" stroke-linejoin="round" stroke-dasharray="1.3 4.2"/>
<path d="M422.10 107.20 L422.24 105.98 L422.38 104.76 L422.52 103.53 L422.65 102.32 L422.78 101.10 L422.90 99.90 L423.00 98.75 L423.08 97.61 L423.15 96.48 L423.22 95.35 L423.30 94.23 L423.40 93.10 L423.51 91.98 L423.62 90.86 L423.74 89.74 L423.88 88.63 L424.03 87.51 L424.20 86.40 L424.39 85.24 L424.60 84.05 L424.82 82.85 L425.06 81.70 L425.32 80.63 L425.60 79.70 L425.77 79.14 L425.92 78.61 L426.07 78.12 L426.26 77.68 L426.53 77.30 L426.90 77.00 L427.71 76.73 L428.77 76.68 L429.99 76.77 L431.31 76.95 L432.64 77.15 L433.90 77.30 L435.22 77.42 L436.57 77.55 L437.93 77.70 L439.30 77.89 L440.66 78.12 L442.00 78.40 L443.34 78.75 L444.66 79.15 L445.98 79.59 L447.30 80.07 L448.64 80.58 L450.00 81.10 L451.53 81.70 L453.09 82.35 L454.66 83.03 L456.24 83.73 L457.83 84.42 L459.40 85.10 L460.97 85.75 L462.54 86.39 L464.12 87.02 L465.69 87.68 L467.25 88.36 L468.80 89.10 L470.37 89.93 L471.92 90.81 L473.47 91.74 L475.02 92.67 L476.59 93.60 L478.20 94.50 L479.99 95.43 L481.85 96.37 L483.75 97.29 L485.61 98.20 L487.38 99.07 L489.00 99.90 L490.11 100.49 L491.15 101.04 L492.14 101.58 L493.10 102.11 L494.05 102.64 L495.00 103.20 L495.92 103.75 L496.81 104.31 L497.68 104.87 L498.57 105.44 L499.47 106.02 L500.40 106.60 L501.47 107.26 L502.57 107.93 L503.69 108.62 L504.83 109.30 L505.97 109.96 L507.10 110.60 L508.21 111.19 L509.33 111.75 L510.45 112.30 L511.57 112.85 L512.69 113.41 L513.80 114.00 L514.92 114.64 L516.04 115.32 L517.15 116.01 L518.26 116.69 L519.38 117.36 L520.50 118.00 L521.61 118.58 L522.73 119.12 L523.85 119.64 L524.97 120.17 L526.09 120.72 L527.20 121.30 L528.33 121.94 L529.45 122.60 L530.57 123.27 L531.68 123.97 L532.79 124.68 L533.90 125.40 L535.04 126.15 L536.17 126.93 L537.31 127.72 L538.44 128.51 L539.57 129.31 L540.70 130.10 L541.82 130.88 L542.94 131.67 L544.05 132.46 L545.16 133.25 L546.28 134.03 L547.40 134.80 L548.52 135.56 L549.65 136.34 L550.78 137.10 L551.90 137.84 L553.01 138.55 L554.10 139.20 L555.02 139.71 L555.93 140.18 L556.83 140.63 L557.72 141.05 L558.61 141.47 L559.50 141.90 L560.38 142.33 L561.27 142.74 L562.15 143.16 L563.03 143.57 L563.91 143.98 L564.80 144.40 L565.70 144.82 L566.60 145.24 L567.51 145.65 L568.41 146.08 L569.31 146.53 L570.20 147.00 L571.11 147.52 L572.02 148.06 L572.92 148.62 L573.82 149.20 L574.71 149.80 L575.60 150.40 L576.50 151.04 L577.40 151.70 L578.29 152.37 L579.18 153.05 L580.08 153.73 L581.00 154.40 L581.98 155.09 L582.98 155.79 L583.99 156.49 L585.00 157.18 L586.01 157.85 L587.00 158.50 L587.91 159.08 L588.82 159.63 L589.72 160.17 L590.61 160.71 L591.51 161.25 L592.40 161.80 L593.29 162.36 L594.17 162.93 L595.05 163.50 L595.93 164.07 L596.81 164.64 L597.70 165.20 L598.60 165.75 L599.50 166.28 L600.41 166.82 L601.31 167.36 L602.21 167.91 L603.10 168.50 L604.01 169.14 L604.91 169.82 L605.81 170.51 L606.71 171.21 L607.60 171.91 L608.50 172.60 L609.39 173.27 L610.27 173.93 L611.16 174.59 L612.05 175.25 L612.96 175.92 L613.90 176.60 L614.97 177.37 L616.07 178.17 L617.19 178.97 L618.33 179.77 L619.46 180.55 L620.60 181.30 L621.71 182.00 L622.82 182.68 L623.94 183.34 L625.06 183.99 L626.18 184.64 L627.30 185.30 L628.42 185.95 L629.54 186.59 L630.67 187.23 L631.79 187.88 L632.90 188.57 L634.00 189.30 L635.13 190.14 L636.25 191.05 L637.35 192.00 L638.45 192.95 L639.57 193.86 L640.70 194.70 L641.80 195.43 L642.91 196.11 L644.03 196.77 L645.15 197.40 L646.28 198.04 L647.40 198.70 L648.54 199.37 L649.69 200.03 L650.85 200.70 L651.99 201.37 L653.11 202.07 L654.20 202.80 L655.21 203.54 L656.19 204.31 L657.15 205.11 L658.10 205.91 L659.04 206.71 L660.00 207.50" stroke="#00ff00" stroke-width="1.3" fill="none" stroke-linejoin="round" stroke-dasharray="5 4.6"/>
</g>
<g clip-path="url(#clipc)">
<path d="M70.60 453.17 L71.05 453.17 L71.49 453.16 L71.93 453.16 L72.37 453.16 L72.83 453.16 L73.30 453.16 L73.92 453.16 L74.55 453.16 L75.19 453.15 L75.86 453.15 L76.56 453.15 L77.30 453.15 L78.11 453.14 L78.97 453.14 L79.86 453.14 L80.78 453.13 L81.73 453.13 L82.70 453.13 L83.75 453.13 L84.85 453.12 L85.97 453.12 L87.12 453.12 L88.26 453.11 L89.40 453.11 L90.50 453.11 L91.60 453.10 L92.69 453.10 L93.81 453.10 L94.94 453.09 L96.10 453.09 L97.40 453.09 L98.73 453.08 L100.09 453.08 L101.46 453.08 L102.84 453.07 L104.20 453.07 L105.53 453.06 L106.86 453.06 L108.19 453.06 L109.52 453.05 L110.86 453.05 L112.20 453.05 L113.54 453.04 L114.89 453.04 L116.24 453.04 L117.59 453.03 L118.95 453.03 L120.30 453.03 L121.65 453.02 L122.99 453.02 L124.33 453.02 L125.68 453.01 L127.03 453.01 L128.40 453.01 L129.84 453.00 L131.32 453.00 L132.80 453.00 L134.28 452.99 L135.72 452.99 L137.10 452.98 L138.27 452.98 L139.40 452.98 L140.51 452.97 L141.60 452.97 L142.69 452.96 L143.80 452.96 L144.92 452.95 L146.03 452.95 L147.15 452.94 L148.27 452.94 L149.38 452.94 L150.50 452.93 L151.62 452.93 L152.73 452.92 L153.85 452.92 L154.96 452.91 L156.08 452.91 L157.20 452.90 L158.33 452.90 L159.46 452.89 L160.60 452.89 L161.74 452.88 L162.87 452.88 L164.00 452.87 L165.12 452.86 L166.24 452.86 L167.36 452.85 L168.47 452.84 L169.58 452.84 L170.70 452.83 L171.82 452.82 L172.93 452.82 L174.05 452.81 L175.17 452.80 L176.28 452.79 L177.40 452.79 L178.52 452.78 L179.63 452.77 L180.75 452.76 L181.87 452.75 L182.98 452.74 L184.10 452.73 L185.22 452.72 L186.33 452.71 L187.45 452.71 L188.57 452.70 L189.69 452.69 L190.80 452.68 L191.92 452.67 L193.04 452.65 L194.16 452.64 L195.27 452.63 L196.39 452.62 L197.50 452.60 L198.62 452.59 L199.74 452.57 L200.86 452.56 L201.97 452.54 L203.09 452.53 L204.20 452.51 L205.34 452.49 L206.47 452.47 L207.60 452.44 L208.73 452.42 L209.87 452.40 L211.00 452.37 L212.12 452.35 L213.24 452.33 L214.36 452.31 L215.48 452.29 L216.59 452.26 L217.70 452.24 L218.84 452.21 L219.99 452.17 L221.13 452.14 L222.26 452.10 L223.35 452.06 L224.40 452.03 L225.23 452.00 L226.02 451.98 L226.79 451.95 L227.55 451.93 L228.32 451.90 L229.10 451.87 L229.98 451.83 L230.88 451.79 L231.77 451.74 L232.68 451.69 L233.59 451.64 L234.50 451.60 L235.37 451.56 L236.25 451.53 L237.14 451.50 L238.03 451.47 L238.92 451.44 L239.80 451.40 L240.70 451.36 L241.61 451.32 L242.51 451.28 L243.41 451.23 L244.30 451.18 L245.20 451.13 L246.10 451.07 L246.99 451.01 L247.89 450.94 L248.78 450.87 L249.68 450.81 L250.60 450.76 L251.48 450.72 L252.38 450.68 L253.28 450.66 L254.19 450.63 L255.10 450.61 L256.00 450.60 L256.88 450.58 L257.77 450.57 L258.65 450.55 L259.53 450.55 L260.42 450.55 L261.30 450.55 L262.20 450.56 L263.11 450.58 L264.02 450.61 L264.92 450.63 L265.82 450.67 L266.70 450.71 L267.62 450.77 L268.53 450.83 L269.44 450.89 L270.33 450.96 L271.22 451.04 L272.10 451.10 L273.02 451.18 L273.95 451.26 L274.88 451.33 L275.77 451.41 L276.62 451.47 L277.40 451.53 L277.89 451.57 L278.32 451.60 L278.74 451.62 L279.15 451.65 L279.60 451.68 L280.10 451.71 L281.05 451.77 L282.13 451.84 L283.28 451.91 L284.47 451.99 L285.66 452.05 L286.80 452.12 L287.94 452.18 L289.07 452.25 L290.20 452.31 L291.32 452.36 L292.45 452.42 L293.60 452.46 L294.70 452.50 L295.81 452.54 L296.93 452.57 L298.06 452.60 L299.18 452.63 L300.30 452.66 L301.42 452.69 L302.56 452.71 L303.69 452.74 L304.82 452.76 L305.92 452.78 L307.00 452.80 L307.93 452.82 L308.83 452.83 L309.71 452.84 L310.59 452.86 L311.49 452.87 L312.40 452.88 L313.48 452.90 L314.62 452.91 L315.77 452.93 L316.88 452.94 L317.91 452.96 L318.80 452.97 L319.25 452.97 L319.65 452.97 L320.02 452.98 L320.37 452.98 L320.73 452.99 L321.10 452.99" stroke="#000000" stroke-width="1.3" fill="none" stroke-linejoin="round"/>
<path d="M82.70 453.17 L83.36 453.17 L84.01 453.16 L84.65 453.16 L85.31 453.16 L85.99 453.16 L86.70 453.16 L87.54 453.16 L88.41 453.16 L89.30 453.16 L90.22 453.15 L91.16 453.15 L92.10 453.15 L93.17 453.15 L94.27 453.15 L95.39 453.15 L96.53 453.14 L97.66 453.14 L98.80 453.14 L99.91 453.14 L101.02 453.13 L102.13 453.13 L103.25 453.13 L104.37 453.13 L105.50 453.13 L106.61 453.12 L107.72 453.12 L108.84 453.12 L109.96 453.12 L111.08 453.12 L112.20 453.11 L113.33 453.11 L114.46 453.11 L115.60 453.11 L116.74 453.10 L117.87 453.10 L119.00 453.10 L120.12 453.10 L121.24 453.09 L122.35 453.09 L123.47 453.09 L124.58 453.09 L125.70 453.08 L126.83 453.08 L127.98 453.08 L129.12 453.07 L130.25 453.07 L131.35 453.07 L132.40 453.06 L133.22 453.06 L134.00 453.06 L134.75 453.06 L135.51 453.05 L136.28 453.05 L137.10 453.05 L138.16 453.05 L139.26 453.04 L140.39 453.04 L141.53 453.03 L142.67 453.03 L143.80 453.02 L144.92 453.02 L146.04 453.01 L147.15 453.00 L148.27 453.00 L149.38 452.99 L150.50 452.98 L151.62 452.98 L152.73 452.97 L153.85 452.96 L154.96 452.95 L156.08 452.95 L157.20 452.94 L158.33 452.93 L159.47 452.92 L160.61 452.91 L161.75 452.90 L162.88 452.89 L164.00 452.88 L165.13 452.87 L166.26 452.86 L167.37 452.85 L168.49 452.83 L169.59 452.82 L170.70 452.80 L171.83 452.78 L172.95 452.76 L174.07 452.74 L175.18 452.72 L176.29 452.70 L177.40 452.68 L178.53 452.65 L179.65 452.62 L180.77 452.59 L181.89 452.56 L183.00 452.53 L184.10 452.49 L185.23 452.45 L186.35 452.41 L187.47 452.36 L188.58 452.31 L189.69 452.25 L190.80 452.20 L191.93 452.13 L193.07 452.07 L194.20 451.99 L195.32 451.92 L196.43 451.84 L197.50 451.75 L198.43 451.68 L199.35 451.60 L200.24 451.52 L201.13 451.44 L202.01 451.35 L202.90 451.25 L203.81 451.15 L204.72 451.04 L205.63 450.93 L206.53 450.81 L207.42 450.68 L208.30 450.55 L209.10 450.42 L209.89 450.29 L210.66 450.14 L211.44 450.00 L212.21 449.86 L213.00 449.74 L213.66 449.64 L214.32 449.54 L214.98 449.45 L215.64 449.38 L216.32 449.32 L217.00 449.27 L217.66 449.25 L218.33 449.25 L219.01 449.27 L219.68 449.29 L220.35 449.33 L221.00 449.38 L221.71 449.46 L222.42 449.55 L223.11 449.66 L223.79 449.77 L224.45 449.89 L225.10 450.00 L225.80 450.13 L226.48 450.27 L227.14 450.41 L227.79 450.55 L228.44 450.68 L229.10 450.80 L229.79 450.91 L230.49 451.02 L231.20 451.13 L231.88 451.23 L232.52 451.32 L233.10 451.40 L233.47 451.46 L233.81 451.51 L234.11 451.55 L234.42 451.60 L234.74 451.64 L235.10 451.69 L235.61 451.75 L236.15 451.80 L236.72 451.86 L237.31 451.92 L237.91 451.98 L238.50 452.03 L239.14 452.09 L239.78 452.14 L240.44 452.19 L241.10 452.24 L241.79 452.29 L242.50 452.34 L243.34 452.39 L244.20 452.44 L245.08 452.49 L245.99 452.53 L246.93 452.57 L247.90 452.61 L248.95 452.65 L250.04 452.69 L251.16 452.72 L252.30 452.75 L253.45 452.77 L254.60 452.80 L255.70 452.82 L256.81 452.84 L257.93 452.86 L259.05 452.87 L260.18 452.89 L261.30 452.91 L262.43 452.92 L263.57 452.93 L264.71 452.95 L265.85 452.96 L266.98 452.97 L268.10 452.98 L269.22 453.00 L270.31 453.01 L271.40 453.02 L272.50 453.03 L273.63 453.04 L274.80 453.05 L276.07 453.05 L277.38 453.06 L278.73 453.07 L280.09 453.08 L281.45 453.08 L282.80 453.09 L284.15 453.09 L285.49 453.10 L286.84 453.10 L288.19 453.11 L289.54 453.11 L290.90 453.12 L292.23 453.12 L293.56 453.12 L294.90 453.13 L296.24 453.13 L297.57 453.13 L298.90 453.14 L300.25 453.14 L301.61 453.14 L302.96 453.15 L304.30 453.15 L305.65 453.15 L307.00 453.15 L308.42 453.16 L309.91 453.16 L311.40 453.16 L312.82 453.16 L314.07 453.16 L315.10 453.17 L315.52 453.17 L315.88 453.17 L316.19 453.17 L316.49 453.17 L316.78 453.17 L317.10 453.17" stroke="#8c1010" stroke-width="1.3" fill="none" stroke-linejoin="round"/>
<path d="M66.30 453.17 L66.47 453.16 L66.63 453.16 L66.80 453.15 L66.97 453.15 L67.14 453.14 L67.30 453.13 L67.43 453.12 L67.54 453.11 L67.65 453.11 L67.78 453.10 L67.95 453.08 L68.20 453.07 L68.42 453.07 L68.65 453.06 L68.90 453.05 L69.19 453.04 L69.52 453.04 L69.90 453.03 L70.27 453.02 L70.67 453.02 L71.09 453.01 L71.56 453.00 L72.06 453.00 L72.60 452.99 L73.28 452.98 L74.03 452.98 L74.82 452.97 L75.65 452.97 L76.48 452.96 L77.30 452.95 L78.18 452.94 L79.07 452.93 L79.97 452.92 L80.88 452.91 L81.79 452.90 L82.70 452.89 L83.60 452.88 L84.50 452.87 L85.40 452.86 L86.30 452.85 L87.20 452.84 L88.10 452.83 L88.99 452.82 L89.87 452.81 L90.75 452.79 L91.63 452.78 L92.51 452.77 L93.40 452.75 L94.29 452.74 L95.19 452.72 L96.09 452.71 L96.99 452.69 L97.90 452.68 L98.80 452.66 L99.70 452.65 L100.59 452.63 L101.49 452.62 L102.39 452.60 L103.29 452.58 L104.20 452.57 L105.09 452.55 L105.99 452.54 L106.89 452.53 L107.80 452.52 L108.70 452.50 L109.60 452.49 L110.49 452.48 L111.37 452.46 L112.26 452.45 L113.14 452.43 L114.02 452.42 L114.90 452.40 L115.80 452.38 L116.70 452.36 L117.60 452.34 L118.50 452.32 L119.40 452.30 L120.30 452.27 L121.20 452.25 L122.10 452.23 L123.00 452.20 L123.90 452.17 L124.80 452.15 L125.70 452.12 L126.60 452.09 L127.49 452.06 L128.38 452.03 L129.27 452.00 L130.18 451.97 L131.10 451.94 L132.08 451.90 L133.08 451.87 L134.09 451.83 L135.10 451.80 L136.10 451.76 L137.10 451.73 L138.01 451.70 L138.92 451.68 L139.82 451.67 L140.72 451.65 L141.62 451.62 L142.50 451.60 L143.40 451.56 L144.28 451.52 L145.16 451.48 L146.04 451.43 L146.92 451.38 L147.80 451.33 L148.70 451.28 L149.60 451.23 L150.51 451.18 L151.41 451.13 L152.31 451.08 L153.20 451.02 L154.11 450.95 L155.01 450.88 L155.91 450.80 L156.80 450.72 L157.70 450.64 L158.60 450.55 L159.49 450.47 L160.39 450.38 L161.28 450.29 L162.17 450.20 L163.08 450.10 L164.00 450.00 L164.98 449.90 L165.99 449.79 L167.00 449.68 L168.01 449.56 L169.02 449.44 L170.00 449.32 L170.92 449.20 L171.83 449.07 L172.73 448.94 L173.62 448.80 L174.51 448.66 L175.40 448.51 L176.29 448.36 L177.18 448.21 L178.06 448.05 L178.94 447.88 L179.82 447.70 L180.70 447.51 L181.60 447.30 L182.48 447.06 L183.37 446.82 L184.26 446.56 L185.17 446.30 L186.10 446.05 L187.09 445.80 L188.11 445.55 L189.14 445.31 L190.18 445.05 L191.21 444.79 L192.20 444.52 L193.11 444.24 L193.99 443.94 L194.86 443.64 L195.73 443.32 L196.61 443.02 L197.50 442.72 L198.38 442.44 L199.28 442.17 L200.17 441.91 L201.08 441.65 L201.99 441.41 L202.90 441.18 L203.79 440.97 L204.69 440.75 L205.59 440.55 L206.49 440.38 L207.39 440.25 L208.30 440.18 L209.20 440.17 L210.11 440.21 L211.02 440.30 L211.92 440.42 L212.82 440.58 L213.70 440.76 L214.61 440.99 L215.50 441.26 L216.39 441.56 L217.27 441.87 L218.14 442.20 L219.00 442.54 L219.93 442.91 L220.85 443.30 L221.76 443.70 L222.66 444.09 L223.54 444.48 L224.40 444.86 L225.21 445.23 L225.99 445.60 L226.74 445.96 L227.49 446.30 L228.27 446.63 L229.10 446.93 L230.05 447.23 L231.04 447.51 L232.07 447.78 L233.10 448.03 L234.12 448.28 L235.10 448.51 L236.03 448.74 L236.93 448.96 L237.82 449.17 L238.71 449.37 L239.60 449.56 L240.50 449.74 L241.39 449.89 L242.29 450.04 L243.18 450.18 L244.09 450.31 L244.99 450.43 L245.90 450.55 L246.80 450.66 L247.70 450.76 L248.60 450.86 L249.51 450.95 L250.41 451.04 L251.30 451.13 L252.19 451.21 L253.08 451.30 L253.96 451.37 L254.84 451.45 L255.72 451.53 L256.60 451.60 L257.50 451.67 L258.39 451.74 L259.28 451.81 L260.17 451.88 L261.08 451.94 L262.00 451.99 L262.88 452.03 L263.78 452.07 L264.69 452.10 L265.60 452.13 L266.51 452.16 L267.40 452.20 L268.29 452.23 L269.18 452.27 L270.05 452.30 L270.93 452.33 L271.81 452.36 L272.70 452.39 L273.60 452.42 L274.50 452.44 L275.41 452.47 L276.31 452.49 L277.21 452.52 L278.10 452.54 L279.01 452.57 L279.91 452.60 L280.80 452.63 L281.69 452.65 L282.58 452.68 L283.50 452.70 L284.38 452.71 L285.28 452.73 L286.18 452.75 L287.09 452.76 L288.00 452.77 L288.90 452.79 L289.79 452.80 L290.67 452.81 L291.56 452.82 L292.44 452.83 L293.32 452.85 L294.20 452.86 L295.10 452.87 L296.00 452.88 L296.90 452.89 L297.80 452.90 L298.70 452.91 L299.60 452.92 L300.50 452.93 L301.39 452.94 L302.29 452.95 L303.19 452.96 L304.10 452.97 L305.00 452.98 L305.89 452.98 L306.78 452.99 L307.67 453.00 L308.57 453.00 L309.48 453.01 L310.40 453.01 L311.39 453.02 L312.40 453.03 L313.42 453.03 L314.44 453.04 L315.44 453.04 L316.40 453.05 L317.22 453.05 L318.01 453.05 L318.79 453.06 L319.56 453.06 L320.32 453.07 L321.10 453.07" stroke="#00ffff" stroke-width="1.75" fill="none" stroke-linejoin="round" stroke-dasharray="1.7 3.7"/>
<path d="M65.20 453.17 L65.32 453.16 L65.43 453.16 L65.55 453.16 L65.67 453.15 L65.79 453.15 L65.90 453.14 L66.02 453.13 L66.13 453.13 L66.25 453.12 L66.36 453.11 L66.48 453.10 L66.60 453.09 L66.71 453.08 L66.81 453.07 L66.91 453.06 L67.02 453.04 L67.14 453.03 L67.30 453.01 L67.42 453.01 L67.53 453.00 L67.65 452.99 L67.80 452.98 L67.98 452.97 L68.20 452.96 L68.50 452.95 L68.84 452.93 L69.23 452.92 L69.65 452.90 L70.11 452.89 L70.60 452.87 L71.17 452.85 L71.78 452.83 L72.44 452.81 L73.14 452.79 L73.86 452.77 L74.60 452.75 L75.43 452.73 L76.30 452.70 L77.20 452.67 L78.13 452.65 L79.07 452.62 L80.00 452.59 L80.87 452.56 L81.75 452.54 L82.63 452.51 L83.53 452.49 L84.45 452.46 L85.40 452.43 L86.46 452.40 L87.57 452.37 L88.69 452.34 L89.83 452.31 L90.97 452.27 L92.10 452.24 L93.23 452.20 L94.37 452.16 L95.50 452.12 L96.63 452.08 L97.73 452.03 L98.80 451.99 L99.74 451.94 L100.20 451.60 L101.90 451.47 L103.60 451.34 L105.30 451.22 L107.00 451.09 L108.70 450.95 L110.40 450.80 L112.12 450.64 L113.83 450.47 L115.55 450.29 L117.27 450.11 L118.99 449.91 L120.70 449.70 L122.42 449.48 L124.15 449.26 L125.88 449.02 L127.60 448.77 L129.27 448.50 L130.90 448.20 L132.32 447.91 L133.72 447.61 L135.09 447.30 L136.43 446.96 L137.73 446.60 L139.00 446.20 L140.10 445.82 L141.18 445.43 L142.23 445.01 L143.25 444.57 L144.24 444.10 L145.20 443.60 L146.06 443.13 L146.90 442.65 L147.70 442.15 L148.49 441.61 L149.25 441.00 L150.00 440.30 L150.89 439.31 L151.74 438.18 L152.55 436.96 L153.35 435.67 L154.13 434.34 L154.90 433.00 L155.76 431.50 L156.62 429.95 L157.46 428.36 L158.26 426.71 L159.01 425.00 L159.70 423.20 L160.41 420.97 L161.02 418.61 L161.57 416.16 L162.07 413.66 L162.54 411.12 L163.00 408.60 L163.47 405.96 L163.91 403.27 L164.32 400.56 L164.70 397.84 L165.06 395.11 L165.40 392.40 L165.71 389.70 L165.99 387.01 L166.24 384.31 L166.49 381.61 L166.74 378.90 L167.00 376.20 L167.28 373.49 L167.56 370.77 L167.85 368.05 L168.14 365.33 L168.42 362.61 L168.70 359.90 L168.98 357.20 L169.25 354.50 L169.52 351.80 L169.79 349.10 L170.05 346.40 L170.30 343.70 L170.53 340.98 L170.76 338.23 L170.97 335.49 L171.18 332.77 L171.39 330.10 L171.60 327.50 L171.78 325.21 L171.95 322.94 L172.12 320.70 L172.30 318.53 L172.49 316.46 L172.70 314.50 L172.82 312.95 L172.89 311.32 L172.97 309.75 L173.12 308.36 L173.41 307.30 L173.90 306.70 L174.51 306.58 L175.29 306.70 L176.15 307.03 L177.02 307.52 L177.80 308.12 L178.40 308.80 L178.93 310.02 L179.17 311.59 L179.22 313.40 L179.18 315.37 L179.14 317.40 L179.20 319.40 L179.39 321.90 L179.58 324.55 L179.78 327.29 L179.98 330.07 L180.19 332.86 L180.40 335.60 L180.61 338.30 L180.83 341.00 L181.04 343.70 L181.26 346.40 L181.48 349.10 L181.70 351.80 L181.92 354.51 L182.13 357.23 L182.34 359.95 L182.56 362.67 L182.78 365.39 L183.00 368.10 L183.23 370.80 L183.45 373.50 L183.68 376.20 L183.91 378.90 L184.15 381.60 L184.40 384.30 L184.64 387.00 L184.87 389.70 L185.10 392.40 L185.36 395.10 L185.65 397.80 L186.00 400.50 L186.41 403.23 L186.85 405.98 L187.34 408.72 L187.86 411.45 L188.41 414.14 L189.00 416.80 L189.56 419.35 L190.13 421.93 L190.72 424.48 L191.38 426.94 L192.13 429.27 L193.00 431.40 L193.82 432.94 L194.74 434.35 L195.71 435.66 L196.72 436.92 L197.72 438.19 L198.70 439.50 L198.90 439.96 L199.77 440.98 L200.64 441.91 L201.51 442.76 L202.39 443.53 L203.29 444.23 L204.20 444.86 L205.07 445.40 L205.96 445.90 L206.85 446.36 L207.76 446.78 L208.68 447.16 L209.60 447.51 L210.48 447.81 L211.37 448.09 L212.27 448.35 L213.18 448.59 L214.09 448.81 L215.00 449.02 L215.89 449.21 L216.78 449.39 L217.68 449.56 L218.59 449.72 L219.49 449.86 L220.40 450.00 L221.29 450.13 L222.21 450.25 L223.12 450.36 L224.02 450.46 L224.89 450.56 L225.70 450.66 L226.31 450.73 L226.87 450.79 L227.40 450.86 L227.94 450.92 L228.50 450.98 L229.10 451.04 L229.93 451.13 L230.83 451.22 L231.75 451.31 L232.69 451.39 L233.62 451.47 L234.50 451.53 L235.18 451.58 L235.82 451.61 L236.46 451.65 L237.10 451.68 L237.78 451.71 L238.50 451.75 L239.51 451.79 L240.58 451.84 L241.70 451.89 L242.86 451.94 L244.03 451.98 L245.20 452.03 L246.51 452.08 L247.85 452.13 L249.21 452.17 L250.58 452.22 L251.94 452.26 L253.30 452.30 L254.63 452.34 L255.96 452.38 L257.29 452.42 L258.62 452.45 L259.96 452.49 L261.30 452.52 L262.65 452.54 L264.03 452.57 L265.41 452.59 L266.77 452.61 L268.11 452.64 L269.40 452.66 L270.55 452.68 L271.64 452.70 L272.71 452.73 L273.78 452.75 L274.90 452.77 L276.10 452.79 L277.56 452.80 L279.11 452.82 L280.72 452.83 L282.35 452.84 L283.96 452.86 L285.50 452.87 L286.89 452.88 L288.26 452.89 L289.60 452.91 L290.93 452.92 L292.26 452.93 L293.60 452.94 L294.93 452.95 L296.26 452.96 L297.59 452.97 L298.92 452.98 L300.26 452.98 L301.60 452.99 L302.94 453.00 L304.28 453.00 L305.63 453.01 L306.98 453.02 L308.34 453.02 L309.70 453.03 L311.27 453.04 L312.94 453.04 L314.62 453.05 L316.21 453.06 L317.63 453.07 L318.80 453.07 L319.27 453.08 L319.68 453.08 L320.05 453.08 L320.39 453.08 L320.73 453.08 L321.10 453.08" stroke="#ff8000" stroke-width="1.3" fill="none" stroke-linejoin="round"/>
<path d="M65.90 453.17 L66.07 453.16 L66.24 453.16 L66.41 453.15 L66.58 453.15 L66.74 453.14 L66.90 453.13 L67.04 453.12 L67.17 453.12 L67.30 453.11 L67.42 453.10 L67.56 453.09 L67.70 453.07 L67.81 453.06 L67.90 453.05 L68.00 453.03 L68.13 453.02 L68.32 453.01 L68.60 452.99 L68.86 452.98 L69.14 452.97 L69.46 452.96 L69.81 452.96 L70.19 452.95 L70.60 452.94 L71.08 452.93 L71.61 452.92 L72.17 452.91 L72.77 452.89 L73.38 452.88 L74.00 452.87 L74.72 452.86 L75.47 452.84 L76.25 452.82 L77.05 452.80 L77.87 452.79 L78.70 452.77 L79.56 452.75 L80.45 452.73 L81.36 452.72 L82.28 452.70 L83.20 452.68 L84.10 452.66 L84.98 452.64 L85.85 452.61 L86.71 452.59 L87.59 452.56 L88.48 452.54 L89.40 452.52 L90.38 452.49 L91.39 452.47 L92.42 452.45 L93.46 452.42 L94.49 452.40 L95.50 452.37 L96.51 452.34 L97.52 452.31 L98.51 452.27 L99.50 452.24 L100.50 452.20 L101.50 452.16 L102.54 452.11 L103.60 452.07 L104.67 452.03 L105.72 451.98 L106.70 451.93 L107.60 451.89 L108.21 451.85 L108.75 451.81 L109.26 451.78 L109.77 451.74 L110.30 451.70 L110.90 451.66 L111.71 451.61 L112.59 451.56 L113.50 451.50 L114.44 451.45 L115.38 451.39 L116.30 451.33 L117.20 451.27 L118.11 451.21 L119.01 451.14 L119.91 451.08 L120.81 451.01 L121.70 450.93 L122.59 450.85 L123.48 450.76 L124.36 450.66 L125.24 450.56 L126.12 450.46 L127.00 450.35 L127.90 450.24 L128.81 450.12 L129.72 450.00 L130.62 449.87 L131.52 449.75 L132.40 449.62 L133.20 449.50 L133.99 449.38 L134.78 449.27 L135.55 449.15 L136.33 449.01 L137.10 448.85 L138.01 448.62 L138.91 448.36 L139.81 448.07 L140.00 448.20 L141.23 447.60 L142.49 447.00 L143.76 446.40 L144.99 445.80 L146.15 445.20 L147.20 444.60 L147.91 444.13 L148.56 443.66 L149.17 443.19 L149.76 442.72 L150.36 442.26 L151.00 441.80 L151.71 441.33 L152.44 440.87 L153.17 440.42 L153.92 439.96 L154.66 439.49 L155.40 439.00 L156.16 438.47 L156.93 437.93 L157.69 437.37 L158.45 436.80 L159.22 436.21 L160.00 435.60 L160.88 434.79 L161.76 433.82 L162.65 432.83 L163.56 431.94 L164.47 431.29 L165.40 431.00 L166.34 431.12 L167.33 431.54 L168.33 432.18 L169.31 432.96 L170.24 433.79 L171.10 434.60 L171.87 435.44 L172.55 436.36 L173.19 437.34 L173.82 438.35 L174.47 439.35 L175.20 440.30 L176.05 441.30 L176.93 442.32 L177.84 443.32 L178.79 444.29 L179.78 445.19 L180.80 446.00 L181.81 446.68 L182.87 447.30 L183.96 447.85 L185.07 448.35 L186.19 448.80 L187.30 449.20 L188.37 449.52 L189.45 449.76 L190.53 449.96 L191.62 450.13 L192.71 450.30 L193.80 450.50 L194.05 450.94 L194.80 451.10 L195.43 451.23 L196.02 451.35 L196.60 451.46 L197.19 451.56 L197.82 451.65 L198.50 451.73 L199.18 451.79 L199.91 451.84 L200.67 451.89 L201.43 451.94 L202.18 451.98 L202.90 452.03 L203.59 452.08 L204.26 452.13 L204.92 452.18 L205.57 452.22 L206.23 452.26 L206.90 452.30 L207.57 452.34 L208.26 452.37 L208.95 452.40 L209.64 452.43 L210.33 452.46 L211.00 452.49 L211.68 452.52 L212.35 452.55 L213.01 452.58 L213.68 452.61 L214.34 452.63 L215.00 452.66 L215.66 452.68 L216.32 452.71 L216.98 452.73 L217.65 452.75 L218.32 452.77 L219.00 452.79 L219.67 452.80 L220.35 452.82 L221.04 452.83 L221.73 452.84 L222.42 452.86 L223.10 452.87 L223.77 452.88 L224.42 452.89 L225.07 452.91 L225.73 452.92 L226.41 452.93 L227.10 452.94 L227.86 452.95 L228.64 452.96 L229.44 452.97 L230.24 452.98 L231.03 452.98 L231.80 452.99 L232.48 453.00 L233.15 453.00 L233.80 453.01 L234.46 453.02 L235.12 453.02 L235.80 453.03 L236.66 453.04 L237.52 453.05 L238.39 453.05 L239.29 453.06 L240.22 453.07 L241.20 453.08 L242.26 453.08 L243.38 453.09 L244.54 453.09 L245.70 453.10 L246.83 453.10 L247.90 453.11 L248.85 453.11 L249.75 453.12 L250.61 453.12 L251.47 453.12 L252.36 453.13 L253.30 453.13 L254.35 453.13 L255.44 453.14 L256.55 453.14 L257.69 453.14 L258.84 453.15 L260.00 453.15 L261.37 453.15 L262.85 453.16 L264.35 453.16 L265.78 453.16 L267.06 453.16 L268.10 453.17 L268.51 453.17 L268.87 453.17 L269.19 453.17 L269.48 453.17 L269.78 453.17 L270.10 453.17" stroke="#0000ff" stroke-width="1.3" fill="none" stroke-linejoin="round" stroke-dasharray="5.2 4.6"/>
<path d="M84.00 453.17 L84.68 453.16 L85.35 453.16 L86.02 453.16 L86.69 453.16 L87.39 453.16 L88.10 453.15 L88.94 453.15 L89.81 453.15 L90.70 453.14 L91.60 453.14 L92.50 453.13 L93.40 453.13 L94.29 453.12 L95.19 453.12 L96.09 453.11 L97.00 453.11 L97.90 453.10 L98.80 453.09 L99.70 453.08 L100.60 453.08 L101.49 453.07 L102.39 453.06 L103.29 453.05 L104.20 453.03 L105.10 453.02 L106.02 453.01 L106.94 453.00 L107.85 452.99 L108.74 452.97 L109.60 452.96 L110.29 452.95 L110.95 452.93 L111.59 452.92 L112.24 452.90 L112.90 452.89 L113.60 452.88 L114.15 452.88 L114.72 452.87 L115.29 452.87 L115.87 452.87 L116.44 452.87 L117.00 452.87 L117.57 452.87 L118.13 452.88 L118.68 452.88 L119.22 452.89 L119.76 452.90 L120.30 452.91 L120.98 452.92 L121.66 452.93 L122.33 452.94 L122.99 452.95 L123.65 452.96 L124.30 452.98 L125.00 452.99 L125.70 453.00 L126.38 453.01 L127.06 453.02 L127.73 453.03 L128.40 453.04 L129.07 453.05 L129.73 453.06 L130.39 453.07 L131.04 453.08 L131.71 453.08 L132.40 453.09 L133.15 453.10 L133.93 453.11 L134.72 453.11 L135.51 453.12 L136.31 453.12 L137.10 453.13 L137.77 453.13 L138.45 453.14 L139.13 453.14 L139.80 453.14 L140.46 453.14 L141.10 453.15 L141.70 453.15 L142.28 453.15 L142.85 453.15 L143.41 453.15 L143.96 453.16 L144.50 453.16 L144.98 453.16 L145.48 453.16 L145.96 453.16 L146.42 453.16 L146.84 453.17 L147.20 453.17 L147.38 453.17 L147.54 453.17 L147.69 453.17 L147.82 453.17 L147.96 453.17 L148.10 453.17" stroke="#ff0000" stroke-width="1.3" fill="none" stroke-linejoin="round"/>
<path d="M64.20 449.70 L64.23 449.51 L64.27 449.31 L64.30 449.10 L64.33 448.88 L64.37 448.65 L64.40 453.20 L64.40 452.72 L64.40 452.30 L64.40 451.88 L64.40 451.40 L64.40 450.79 L64.40 450.00 L64.48 441.39 L64.63 426.99 L64.83 408.71 L65.06 388.49 L65.30 368.28 L65.50 350.00 L65.63 332.94 L65.71 315.39 L65.78 297.85 L65.91 280.79 L66.17 264.68 L66.60 250.00 L67.01 239.51 L67.49 228.36 L68.02 217.69 L68.62 208.64 L69.28 202.36 L70.00 200.00 L70.87 202.47 L71.90 209.03 L73.00 218.38 L74.06 229.20 L75.00 240.17 L75.70 250.00 L76.17 260.15 L76.39 270.77 L76.45 281.59 L76.44 292.34 L76.42 302.73 L76.50 312.50 L76.62 320.01 L76.74 327.25 L76.87 334.25 L77.00 341.06 L77.14 347.70 L77.30 354.20 L77.44 359.80 L77.57 365.37 L77.72 370.82 L77.88 376.04 L78.07 380.93 L78.30 385.40 L78.49 388.17 L78.69 390.72 L78.91 393.12 L79.13 395.42 L79.36 397.70 L79.60 400.00 L79.81 402.15 L80.02 404.29 L80.23 406.39 L80.46 408.46 L80.71 410.50 L81.00 412.50 L81.29 414.29 L81.60 416.05 L81.94 417.77 L82.29 419.48 L82.68 421.19 L83.10 422.90 L83.54 424.66 L84.00 426.44 L84.49 428.21 L85.02 429.96 L85.62 431.66 L86.30 433.30 L87.02 434.82 L87.78 436.32 L88.61 437.78 L89.50 439.18 L90.46 440.49 L91.50 441.70 L92.56 442.75 L93.69 443.72 L94.88 444.61 L96.13 445.44 L97.44 446.20 L98.80 446.90 L100.39 447.59 L102.08 448.19 L103.84 448.71 L105.63 449.17 L107.43 449.60 L109.20 450.00 L110.92 450.36 L112.66 450.67 L114.39 450.93 L116.13 451.18 L117.86 451.43 L119.60 451.70 L120.00 450.71 L120.89 450.80 L121.79 450.88 L122.68 450.97 L123.57 451.05 L124.48 451.12 L125.40 451.19 L126.33 451.25 L127.28 451.30 L128.24 451.35 L129.20 451.40 L130.16 451.45 L131.10 451.50 L132.03 451.55 L132.95 451.61 L133.86 451.66 L134.78 451.71 L135.69 451.75 L136.60 451.79 L137.47 451.83 L138.33 451.87 L139.19 451.90 L140.06 451.93 L140.93 451.96 L141.80 451.99 L142.69 452.02 L143.59 452.05 L144.50 452.07 L145.40 452.10 L146.30 452.13 L147.20 452.16 L148.09 452.18 L148.97 452.21 L149.85 452.23 L150.73 452.26 L151.61 452.28 L152.50 452.30 L153.40 452.33 L154.29 452.35 L155.19 452.37 L156.09 452.39 L156.99 452.41 L157.90 452.43 L158.79 452.45 L159.68 452.47 L160.58 452.48 L161.48 452.50 L162.38 452.51 L163.30 452.53 L164.29 452.54 L165.29 452.56 L166.30 452.58 L167.31 452.59 L168.31 452.61 L169.30 452.62 L170.21 452.64 L171.12 452.65 L172.02 452.66 L172.91 452.67 L173.80 452.68 L174.70 452.69 L175.60 452.70 L176.50 452.71 L177.41 452.72 L178.31 452.73 L179.20 452.74 L180.10 452.75 L180.99 452.76 L181.87 452.77 L182.75 452.78 L183.63 452.79 L184.52 452.80 L185.40 452.81 L186.30 452.82 L187.19 452.82 L188.09 452.83 L188.99 452.84 L189.90 452.85 L190.80 452.86 L191.70 452.86 L192.60 452.87 L193.50 452.88 L194.40 452.88 L195.30 452.89 L196.20 452.89 L197.10 452.90 L198.01 452.91 L198.91 452.91 L199.81 452.92 L200.71 452.93 L201.60 452.93 L202.49 452.94 L203.37 452.94 L204.25 452.95 L205.13 452.96 L206.01 452.96 L206.90 452.97 L207.79 452.97 L208.69 452.97 L209.59 452.98 L210.50 452.98 L211.40 452.99 L212.30 452.99 L213.20 453.00 L214.10 453.00 L215.01 453.00 L215.91 453.01 L216.81 453.01 L217.70 453.01 L218.60 453.02 L219.50 453.02 L220.39 453.03 L221.28 453.03 L222.18 453.04 L223.10 453.04 L224.08 453.04 L225.08 453.05 L226.09 453.05 L227.10 453.06 L228.10 453.06 L229.10 453.06 L230.01 453.07 L230.92 453.07 L231.82 453.07 L232.72 453.07 L233.62 453.07 L234.50 453.07 L235.40 453.08 L236.28 453.08 L237.16 453.08 L238.03 453.09 L238.91 453.09 L239.80 453.09 L240.69 453.09 L241.59 453.10 L242.48 453.10 L243.39 453.10 L244.29 453.10 L245.20 453.11 L246.09 453.11 L246.99 453.11 L247.90 453.11 L248.80 453.11 L249.70 453.11 L250.60 453.11 L251.51 453.12 L252.41 453.12 L253.32 453.12 L254.22 453.12 L255.11 453.12 L256.00 453.12 L256.89 453.12 L257.78 453.13 L258.66 453.13 L259.54 453.13 L260.42 453.13 L261.30 453.13 L262.19 453.14 L263.09 453.14 L263.99 453.14 L264.89 453.14 L265.79 453.14 L266.70 453.14 L267.59 453.14 L268.50 453.15 L269.40 453.15 L270.31 453.15 L271.21 453.15 L272.10 453.15 L273.00 453.15 L273.89 453.15 L274.78 453.15 L275.66 453.15 L276.53 453.16 L277.40 453.16 L278.36 453.16 L279.36 453.16 L280.36 453.16 L281.30 453.16 L282.13 453.16 L282.80 453.17 L283.09 453.17 L283.33 453.17 L283.53 453.17 L283.71 453.17 L283.90 453.17 L284.10 453.17" stroke="#800080" stroke-width="1.35" fill="none" stroke-linejoin="round" stroke-dasharray="1.3 4.2"/>
<path d="M63.90 443.63 L64.02 443.10 L64.14 442.55 L64.26 441.96 L64.38 441.34 L64.49 440.68 L64.60 439.96 L64.71 439.12 L64.81 438.21 L64.91 437.23 L65.00 436.17 L65.10 435.03 L65.20 433.79 L65.31 432.29 L65.41 430.63 L65.52 428.81 L65.63 426.84 L65.76 424.74 L65.90 422.55 L66.04 420.43 L66.18 418.17 L66.33 415.78 L66.50 413.31 L66.69 410.79 L66.90 408.28 L67.05 406.20 L67.18 404.00 L67.32 401.79 L67.51 399.69 L67.79 397.85 L68.20 396.43 L68.83 395.52 L69.61 395.22 L70.50 395.34 L71.45 395.71 L72.40 396.13 L73.30 396.43 L74.19 396.66 L75.07 396.96 L75.96 397.32 L76.85 397.74 L77.77 398.18 L78.70 398.65 L79.77 399.19 L80.86 399.74 L81.98 400.34 L83.11 400.99 L84.25 401.72 L85.40 402.55 L86.69 403.61 L88.00 404.78 L89.33 406.02 L90.67 407.29 L92.02 408.56 L93.40 409.79 L94.93 411.09 L96.48 412.38 L98.06 413.66 L99.65 414.93 L101.23 416.19 L102.80 417.45 L104.37 418.72 L105.94 419.99 L107.50 421.24 L109.07 422.46 L110.63 423.63 L112.20 424.74 L113.78 425.80 L115.37 426.80 L116.96 427.76 L118.55 428.70 L120.13 429.62 L121.70 430.55 L123.30 431.50 L124.93 432.46 L126.55 433.39 L128.14 434.28 L129.66 435.12 L131.10 435.88 L132.19 436.45 L133.22 436.99 L134.21 437.50 L135.18 437.99 L136.14 438.46 L137.10 438.94 L138.02 439.39 L138.92 439.84 L139.82 440.28 L140.71 440.70 L141.60 441.09 L142.50 441.45 L143.37 441.76 L144.23 442.04 L145.10 442.30 L145.98 442.56 L146.88 442.81 L147.80 443.07 L148.89 443.38 L150.01 443.69 L151.15 443.99 L152.31 444.29 L153.46 444.58 L154.60 444.86 L155.72 445.12 L156.84 445.38 L157.95 445.63 L159.07 445.87 L160.18 446.11 L161.30 446.33 L162.42 446.54 L163.54 446.74 L164.66 446.94 L165.78 447.13 L166.89 447.32 L168.00 447.51 L169.13 447.71 L170.25 447.91 L171.36 448.11 L172.47 448.31 L173.59 448.49 L174.70 448.67 L175.82 448.84 L176.93 449.01 L178.05 449.17 L179.17 449.33 L180.28 449.47 L181.40 449.62 L182.52 449.75 L183.64 449.88 L184.76 450.00 L185.88 450.12 L186.99 450.23 L188.10 450.35 L189.22 450.47 L190.32 450.58 L191.42 450.70 L192.52 450.81 L193.64 450.92 L194.80 451.02 L196.11 451.13 L197.45 451.24 L198.82 451.34 L200.20 451.44 L201.56 451.53 L202.90 451.60 L204.05 451.65 L205.20 451.69 L206.34 451.72 L207.46 451.76 L208.55 451.79 L209.60 451.83 L210.56 451.88 L211.47 451.93 L212.35 451.98 L213.22 452.03 L214.10 452.08 L215.00 452.12 L215.89 452.15 L216.79 452.19 L217.69 452.22 L218.60 452.25 L219.50 452.28 L220.40 452.30 L221.30 452.33 L222.21 452.36 L223.11 452.39 L224.01 452.42 L224.87 452.44 L225.70 452.46 L226.29 452.47 L226.85 452.48 L227.39 452.49 L227.94 452.50 L228.50 452.51 L229.10 452.52 L229.94 452.53 L230.83 452.54 L231.76 452.56 L232.69 452.58 L233.61 452.59 L234.50 452.61 L235.40 452.64 L236.25 452.66 L237.09 452.68 L237.94 452.71 L238.84 452.73 L239.80 452.75 L241.03 452.77 L242.34 452.80 L243.71 452.82 L245.11 452.84 L246.52 452.85 L247.90 452.87 L249.24 452.89 L250.58 452.90 L251.92 452.91 L253.27 452.92 L254.63 452.94 L256.00 452.95 L257.55 452.96 L259.12 452.98 L260.70 452.99 L262.29 453.01 L263.86 453.02 L265.40 453.03 L266.75 453.04 L268.09 453.04 L269.41 453.05 L270.73 453.06 L272.06 453.06 L273.40 453.07 L274.73 453.07 L276.06 453.08 L277.40 453.08 L278.75 453.09 L280.11 453.09 L281.50 453.10 L283.03 453.10 L284.58 453.10 L286.15 453.11 L287.73 453.11 L289.32 453.12 L290.90 453.12 L292.46 453.12 L294.01 453.13 L295.57 453.13 L297.14 453.13 L298.71 453.13 L300.30 453.14 L301.85 453.14 L303.41 453.14 L304.98 453.14 L306.56 453.14 L308.13 453.14 L309.70 453.14 L311.29 453.14 L312.96 453.14 L314.63 453.14 L316.22 453.14 L317.63 453.14 L318.80 453.14 L319.27 453.14 L319.68 453.14 L320.05 453.14 L320.39 453.14 L320.73 453.14 L321.10 453.14" stroke="#00ff00" stroke-width="1.3" fill="none" stroke-linejoin="round" stroke-dasharray="5 4.6"/>
</g>
<g clip-path="url(#clipd)">
<path d="M428.50 453.10 L428.95 452.61 L429.39 452.14 L429.83 451.66 L430.27 451.18 L430.73 450.66 L431.20 450.10 L431.82 449.29 L432.45 448.40 L433.09 447.46 L433.76 446.50 L434.46 445.57 L435.20 444.70 L436.01 443.86 L436.87 443.04 L437.76 442.24 L438.68 441.47 L439.63 440.72 L440.60 440.00 L441.65 439.27 L442.75 438.57 L443.87 437.90 L445.02 437.25 L446.16 436.62 L447.30 436.00 L448.40 435.41 L449.50 434.85 L450.59 434.30 L451.71 433.77 L452.84 433.23 L454.00 432.70 L455.30 432.12 L456.63 431.53 L457.99 430.95 L459.36 430.38 L460.74 429.83 L462.10 429.30 L463.43 428.81 L464.76 428.33 L466.09 427.87 L467.42 427.43 L468.76 427.00 L470.10 426.60 L471.44 426.23 L472.79 425.88 L474.14 425.56 L475.49 425.24 L476.85 424.93 L478.20 424.60 L479.55 424.27 L480.89 423.93 L482.23 423.60 L483.58 423.26 L484.93 422.93 L486.30 422.60 L487.74 422.27 L489.22 421.94 L490.70 421.61 L492.18 421.28 L493.62 420.95 L495.00 420.60 L496.17 420.28 L497.30 419.94 L498.41 419.60 L499.50 419.26 L500.59 418.92 L501.70 418.60 L502.82 418.29 L503.93 417.99 L505.05 417.69 L506.17 417.40 L507.28 417.10 L508.40 416.80 L509.52 416.49 L510.63 416.17 L511.75 415.84 L512.86 415.52 L513.98 415.21 L515.10 414.90 L516.23 414.61 L517.36 414.33 L518.50 414.06 L519.64 413.78 L520.77 413.50 L521.90 413.20 L523.02 412.88 L524.14 412.56 L525.26 412.22 L526.37 411.88 L527.48 411.54 L528.60 411.20 L529.72 410.87 L530.83 410.54 L531.95 410.21 L533.07 409.87 L534.18 409.54 L535.30 409.20 L536.42 408.85 L537.53 408.50 L538.65 408.15 L539.77 407.80 L540.88 407.45 L542.00 407.10 L543.12 406.76 L544.23 406.44 L545.35 406.11 L546.47 405.78 L547.59 405.45 L548.70 405.10 L549.82 404.74 L550.94 404.37 L552.06 403.99 L553.17 403.60 L554.29 403.20 L555.40 402.80 L556.52 402.39 L557.64 401.97 L558.76 401.55 L559.87 401.11 L560.99 400.66 L562.10 400.20 L563.24 399.71 L564.37 399.19 L565.50 398.66 L566.63 398.12 L567.77 397.60 L568.90 397.10 L570.02 396.64 L571.14 396.20 L572.26 395.77 L573.38 395.33 L574.49 394.88 L575.60 394.40 L576.74 393.86 L577.89 393.28 L579.03 392.69 L580.16 392.10 L581.25 391.53 L582.30 391.00 L583.13 390.61 L583.92 390.25 L584.69 389.91 L585.45 389.57 L586.22 389.20 L587.00 388.80 L587.88 388.29 L588.78 387.72 L589.67 387.13 L590.58 386.54 L591.49 385.99 L592.40 385.50 L593.27 385.11 L594.15 384.77 L595.04 384.46 L595.93 384.16 L596.82 383.85 L597.70 383.50 L598.60 383.11 L599.51 382.71 L600.41 382.30 L601.31 381.88 L602.20 381.44 L603.10 381.00 L604.00 380.52 L604.89 379.99 L605.79 379.46 L606.68 378.95 L607.58 378.48 L608.50 378.10 L609.38 377.81 L610.28 377.58 L611.18 377.40 L612.09 377.25 L613.00 377.12 L613.90 377.00 L614.78 376.89 L615.67 376.79 L616.55 376.72 L617.43 376.67 L618.32 376.66 L619.20 376.70 L620.10 376.78 L621.01 376.90 L621.92 377.06 L622.82 377.26 L623.72 377.50 L624.60 377.80 L625.52 378.18 L626.43 378.63 L627.34 379.13 L628.23 379.67 L629.12 380.23 L630.00 380.80 L630.92 381.43 L631.85 382.12 L632.78 382.83 L633.67 383.54 L634.52 384.20 L635.30 384.80 L635.79 385.16 L636.22 385.48 L636.64 385.77 L637.05 386.08 L637.50 386.41 L638.00 386.80 L638.95 387.55 L640.03 388.42 L641.18 389.37 L642.37 390.37 L643.56 391.39 L644.70 392.40 L645.84 393.48 L646.97 394.61 L648.10 395.76 L649.22 396.91 L650.35 398.03 L651.50 399.10 L652.60 400.06 L653.71 400.97 L654.83 401.86 L655.96 402.74 L657.08 403.62 L658.20 404.50 L659.32 405.40 L660.46 406.30 L661.59 407.20 L662.72 408.09 L663.82 408.96 L664.90 409.80 L665.83 410.51 L666.73 411.19 L667.61 411.85 L668.49 412.51 L669.39 413.19 L670.30 413.90 L671.38 414.77 L672.52 415.71 L673.67 416.68 L674.78 417.61 L675.81 418.47 L676.70 419.20 L677.15 419.56 L677.55 419.87 L677.92 420.16 L678.27 420.44 L678.63 420.71 L679.00 421.00" stroke="#000000" stroke-width="1.3" fill="none" stroke-linejoin="round"/>
<path d="M440.60 453.10 L441.26 452.60 L441.91 452.10 L442.55 451.60 L443.21 451.10 L443.89 450.60 L444.60 450.10 L445.44 449.55 L446.31 449.01 L447.20 448.47 L448.12 447.92 L449.06 447.37 L450.00 446.80 L451.07 446.13 L452.17 445.44 L453.29 444.73 L454.43 444.03 L455.56 443.35 L456.70 442.70 L457.81 442.10 L458.92 441.53 L460.03 440.97 L461.15 440.43 L462.27 439.91 L463.40 439.40 L464.51 438.92 L465.62 438.46 L466.74 438.02 L467.86 437.58 L468.98 437.14 L470.10 436.70 L471.23 436.25 L472.36 435.80 L473.50 435.35 L474.64 434.90 L475.77 434.45 L476.90 434.00 L478.02 433.55 L479.14 433.10 L480.25 432.65 L481.37 432.20 L482.48 431.75 L483.60 431.30 L484.73 430.84 L485.88 430.37 L487.02 429.90 L488.15 429.44 L489.25 429.00 L490.30 428.60 L491.12 428.31 L491.90 428.06 L492.65 427.82 L493.41 427.57 L494.18 427.31 L495.00 427.00 L496.06 426.56 L497.16 426.07 L498.29 425.54 L499.43 424.99 L500.57 424.44 L501.70 423.90 L502.82 423.36 L503.94 422.82 L505.05 422.27 L506.17 421.71 L507.28 421.16 L508.40 420.60 L509.52 420.04 L510.63 419.47 L511.75 418.90 L512.86 418.33 L513.98 417.76 L515.10 417.20 L516.23 416.65 L517.37 416.12 L518.51 415.59 L519.65 415.05 L520.78 414.49 L521.90 413.90 L523.03 413.27 L524.16 412.61 L525.27 411.93 L526.39 411.23 L527.49 410.52 L528.60 409.80 L529.73 409.05 L530.85 408.29 L531.97 407.51 L533.08 406.72 L534.19 405.92 L535.30 405.10 L536.43 404.25 L537.55 403.39 L538.67 402.52 L539.79 401.63 L540.90 400.72 L542.00 399.80 L543.13 398.82 L544.25 397.82 L545.37 396.80 L546.48 395.77 L547.59 394.74 L548.70 393.70 L549.83 392.64 L550.97 391.56 L552.10 390.47 L553.22 389.39 L554.33 388.33 L555.40 387.30 L556.33 386.40 L557.25 385.53 L558.14 384.68 L559.03 383.82 L559.91 382.97 L560.80 382.10 L561.71 381.20 L562.62 380.30 L563.53 379.39 L564.43 378.48 L565.32 377.58 L566.20 376.70 L567.00 375.87 L567.79 375.03 L568.56 374.19 L569.34 373.39 L570.11 372.65 L570.90 372.00 L571.56 371.51 L572.22 371.05 L572.88 370.63 L573.54 370.27 L574.22 369.99 L574.90 369.80 L575.56 369.71 L576.23 369.70 L576.91 369.76 L577.58 369.88 L578.25 370.07 L578.90 370.30 L579.61 370.65 L580.32 371.09 L581.01 371.60 L581.69 372.17 L582.35 372.78 L583.00 373.40 L583.70 374.14 L584.38 374.94 L585.04 375.79 L585.69 376.67 L586.34 377.54 L587.00 378.40 L587.69 379.26 L588.39 380.14 L589.10 381.02 L589.78 381.89 L590.42 382.72 L591.00 383.50 L591.37 384.03 L591.71 384.53 L592.01 385.01 L592.32 385.49 L592.64 385.98 L593.00 386.50 L593.51 387.20 L594.05 387.92 L594.62 388.67 L595.21 389.44 L595.81 390.22 L596.40 391.00 L597.04 391.86 L597.68 392.74 L598.34 393.64 L599.00 394.54 L599.69 395.47 L600.40 396.40 L601.24 397.48 L602.10 398.60 L602.98 399.73 L603.89 400.87 L604.83 401.99 L605.80 403.10 L606.85 404.25 L607.94 405.40 L609.06 406.54 L610.20 407.66 L611.35 408.75 L612.50 409.80 L613.60 410.76 L614.71 411.67 L615.83 412.56 L616.95 413.44 L618.08 414.31 L619.20 415.20 L620.33 416.10 L621.47 416.98 L622.61 417.87 L623.75 418.76 L624.88 419.67 L626.00 420.60 L627.12 421.58 L628.21 422.59 L629.30 423.62 L630.40 424.64 L631.53 425.64 L632.70 426.60 L633.97 427.55 L635.28 428.46 L636.63 429.35 L637.99 430.23 L639.35 431.11 L640.70 432.00 L642.05 432.91 L643.39 433.82 L644.74 434.74 L646.09 435.64 L647.44 436.53 L648.80 437.40 L650.13 438.21 L651.46 438.99 L652.80 439.76 L654.14 440.52 L655.47 441.30 L656.80 442.10 L658.15 442.95 L659.51 443.83 L660.86 444.71 L662.20 445.61 L663.55 446.51 L664.90 447.40 L666.32 448.33 L667.81 449.30 L669.30 450.27 L670.72 451.20 L671.97 452.06 L673.00 452.80 L673.42 453.13 L673.78 453.42 L674.09 453.70 L674.39 453.96 L674.68 454.23 L675.00 454.50" stroke="#8c1010" stroke-width="1.3" fill="none" stroke-linejoin="round"/>
<path d="M424.20 452.80 L424.37 450.77 L424.53 448.74 L424.70 446.70 L424.87 444.68 L425.04 442.67 L425.20 440.70 L425.33 438.83 L425.44 436.94 L425.55 435.07 L425.68 433.26 L425.85 431.56 L426.10 430.00 L426.32 428.97 L426.55 427.99 L426.80 427.07 L427.09 426.21 L427.42 425.38 L427.80 424.60 L428.17 423.95 L428.57 423.35 L428.99 422.78 L429.46 422.24 L429.96 421.71 L430.50 421.20 L431.18 420.65 L431.93 420.15 L432.72 419.67 L433.55 419.20 L434.38 418.71 L435.20 418.20 L436.08 417.61 L436.97 416.99 L437.87 416.36 L438.78 415.72 L439.69 415.10 L440.60 414.50 L441.50 413.93 L442.40 413.38 L443.30 412.84 L444.20 412.30 L445.10 411.75 L446.00 411.20 L446.89 410.64 L447.77 410.06 L448.65 409.49 L449.53 408.92 L450.41 408.35 L451.30 407.80 L452.19 407.27 L453.09 406.74 L453.99 406.22 L454.89 405.71 L455.80 405.20 L456.70 404.70 L457.60 404.20 L458.49 403.69 L459.39 403.19 L460.29 402.70 L461.19 402.23 L462.10 401.80 L462.99 401.42 L463.89 401.08 L464.79 400.76 L465.70 400.45 L466.60 400.13 L467.50 399.80 L468.39 399.46 L469.27 399.12 L470.16 398.78 L471.04 398.44 L471.92 398.08 L472.80 397.70 L473.70 397.29 L474.60 396.87 L475.50 396.43 L476.40 395.99 L477.30 395.54 L478.20 395.10 L479.10 394.66 L480.00 394.21 L480.90 393.76 L481.80 393.30 L482.70 392.85 L483.60 392.40 L484.50 391.95 L485.39 391.50 L486.28 391.04 L487.17 390.59 L488.08 390.14 L489.00 389.70 L489.98 389.23 L490.98 388.75 L491.99 388.27 L493.00 387.81 L494.00 387.38 L495.00 387.00 L495.91 386.71 L496.82 386.47 L497.72 386.26 L498.62 386.05 L499.52 385.80 L500.40 385.50 L501.30 385.12 L502.18 384.69 L503.06 384.22 L503.94 383.74 L504.82 383.26 L505.70 382.80 L506.60 382.36 L507.50 381.92 L508.41 381.49 L509.31 381.04 L510.21 380.58 L511.10 380.10 L512.01 379.57 L512.91 379.01 L513.81 378.43 L514.70 377.85 L515.60 377.27 L516.50 376.70 L517.39 376.14 L518.29 375.59 L519.18 375.04 L520.07 374.49 L520.98 373.95 L521.90 373.40 L522.88 372.83 L523.89 372.26 L524.90 371.70 L525.91 371.14 L526.92 370.57 L527.90 370.00 L528.82 369.45 L529.73 368.91 L530.63 368.36 L531.52 367.81 L532.41 367.26 L533.30 366.70 L534.19 366.14 L535.08 365.59 L535.96 365.04 L536.84 364.47 L537.72 363.89 L538.60 363.30 L539.50 362.65 L540.38 361.98 L541.27 361.29 L542.16 360.60 L543.07 359.93 L544.00 359.30 L544.99 358.69 L546.01 358.12 L547.04 357.56 L548.08 357.01 L549.11 356.46 L550.10 355.90 L551.01 355.35 L551.89 354.77 L552.76 354.20 L553.63 353.64 L554.51 353.10 L555.40 352.60 L556.28 352.14 L557.18 351.70 L558.07 351.29 L558.98 350.90 L559.89 350.53 L560.80 350.20 L561.69 349.89 L562.59 349.58 L563.49 349.30 L564.39 349.07 L565.29 348.89 L566.20 348.80 L567.10 348.79 L568.01 348.84 L568.92 348.95 L569.82 349.12 L570.72 349.34 L571.60 349.60 L572.51 349.93 L573.40 350.31 L574.29 350.75 L575.17 351.24 L576.04 351.76 L576.90 352.30 L577.83 352.92 L578.75 353.60 L579.66 354.32 L580.56 355.06 L581.44 355.83 L582.30 356.60 L583.11 357.39 L583.89 358.22 L584.64 359.07 L585.39 359.92 L586.17 360.77 L587.00 361.60 L587.95 362.46 L588.94 363.31 L589.97 364.15 L591.00 364.99 L592.02 365.84 L593.00 366.70 L593.93 367.57 L594.83 368.46 L595.72 369.36 L596.61 370.26 L597.50 371.14 L598.40 372.00 L599.29 372.81 L600.19 373.61 L601.08 374.40 L601.99 375.17 L602.89 375.94 L603.80 376.70 L604.70 377.43 L605.60 378.15 L606.50 378.86 L607.41 379.56 L608.31 380.28 L609.20 381.00 L610.09 381.74 L610.98 382.48 L611.86 383.22 L612.74 383.97 L613.62 384.73 L614.50 385.50 L615.40 386.32 L616.29 387.16 L617.18 388.02 L618.07 388.86 L618.98 389.66 L619.90 390.40 L620.78 391.02 L621.68 391.57 L622.59 392.10 L623.50 392.61 L624.41 393.14 L625.30 393.70 L626.19 394.31 L627.08 394.94 L627.95 395.58 L628.83 396.23 L629.71 396.87 L630.60 397.50 L631.50 398.10 L632.40 398.68 L633.31 399.26 L634.21 399.84 L635.11 400.45 L636.00 401.10 L636.91 401.84 L637.81 402.64 L638.70 403.46 L639.59 404.28 L640.48 405.07 L641.40 405.80 L642.28 406.43 L643.18 407.01 L644.08 407.57 L644.99 408.11 L645.90 408.65 L646.80 409.20 L647.69 409.75 L648.57 410.29 L649.46 410.83 L650.34 411.37 L651.22 411.93 L652.10 412.50 L653.00 413.11 L653.90 413.74 L654.80 414.38 L655.70 415.03 L656.60 415.67 L657.50 416.30 L658.40 416.91 L659.29 417.52 L660.19 418.12 L661.09 418.72 L662.00 419.31 L662.90 419.90 L663.79 420.48 L664.68 421.05 L665.57 421.62 L666.47 422.19 L667.38 422.75 L668.30 423.30 L669.29 423.86 L670.30 424.42 L671.32 424.97 L672.34 425.51 L673.34 426.06 L674.30 426.60 L675.12 427.09 L675.91 427.57 L676.69 428.05 L677.46 428.54 L678.22 429.02 L679.00 429.50" stroke="#00ffff" stroke-width="1.75" fill="none" stroke-linejoin="round" stroke-dasharray="1.7 3.7"/>
<path d="M423.10 453.10 L423.22 451.49 L423.33 449.88 L423.45 448.28 L423.57 446.67 L423.69 445.04 L423.80 443.40 L423.92 441.64 L424.03 439.85 L424.15 438.04 L424.26 436.23 L424.38 434.45 L424.50 432.70 L424.61 431.06 L424.71 429.40 L424.81 427.76 L424.92 426.17 L425.04 424.67 L425.20 423.30 L425.32 422.42 L425.43 421.62 L425.55 420.86 L425.70 420.12 L425.88 419.37 L426.10 418.60 L426.40 417.71 L426.74 416.80 L427.13 415.89 L427.55 414.98 L428.01 414.08 L428.50 413.20 L429.07 412.27 L429.68 411.36 L430.34 410.46 L431.04 409.56 L431.76 408.68 L432.50 407.80 L433.33 406.87 L434.20 405.93 L435.10 405.00 L436.03 404.10 L436.97 403.23 L437.90 402.40 L438.77 401.67 L439.65 400.98 L440.53 400.32 L441.43 399.67 L442.35 399.04 L443.30 398.40 L444.36 397.71 L445.47 397.04 L446.59 396.38 L447.73 395.72 L448.87 395.06 L450.00 394.40 L451.13 393.73 L452.27 393.07 L453.40 392.41 L454.53 391.74 L455.63 391.07 L456.70 390.40 L457.64 389.77 L458.55 389.13 L459.44 388.49 L460.32 387.85 L461.20 387.21 L462.10 386.60 L462.99 386.01 L463.89 385.43 L464.79 384.86 L465.70 384.30 L466.60 383.75 L467.50 383.20 L468.38 382.67 L469.27 382.16 L470.15 381.65 L471.03 381.14 L471.92 380.63 L472.80 380.10 L473.70 379.56 L474.61 379.02 L475.52 378.48 L476.42 377.92 L477.32 377.33 L478.20 376.70 L479.12 375.98 L480.02 375.22 L480.92 374.42 L481.81 373.61 L482.70 372.80 L483.60 372.00 L484.50 371.22 L485.38 370.43 L486.27 369.64 L487.17 368.86 L488.08 368.08 L489.00 367.30 L489.98 366.51 L490.98 365.72 L492.00 364.94 L493.01 364.17 L494.02 363.39 L495.00 362.60 L495.93 361.84 L496.84 361.09 L497.74 360.34 L498.63 359.58 L499.52 358.80 L500.40 358.00 L501.30 357.15 L502.20 356.28 L503.08 355.39 L503.96 354.49 L504.83 353.56 L505.70 352.60 L506.62 351.55 L507.53 350.47 L508.44 349.37 L509.33 348.24 L510.22 347.08 L511.10 345.90 L512.02 344.62 L512.94 343.30 L513.84 341.96 L514.73 340.60 L515.62 339.21 L516.50 337.80 L517.44 336.29 L518.38 334.74 L519.32 333.18 L520.23 331.59 L521.10 330.00 L521.90 328.40 L522.60 326.83 L523.25 325.21 L523.85 323.59 L524.43 321.99 L525.00 320.45 L525.60 319.00 L526.10 317.89 L526.60 316.83 L527.09 315.82 L527.59 314.82 L528.09 313.82 L528.60 312.80 L529.11 311.63 L529.61 310.36 L530.11 309.07 L530.64 307.90 L531.23 306.94 L531.90 306.30 L532.42 306.05 L532.99 305.91 L533.59 305.87 L534.19 305.92 L534.77 306.07 L535.30 306.30 L535.94 306.80 L536.53 307.52 L537.08 308.40 L537.60 309.38 L538.10 310.40 L538.60 311.40 L539.14 312.55 L539.63 313.77 L540.10 315.04 L540.57 316.35 L541.06 317.67 L541.60 319.00 L542.26 320.51 L542.96 322.05 L543.69 323.61 L544.45 325.19 L545.22 326.79 L546.00 328.40 L546.86 330.16 L547.74 331.95 L548.64 333.76 L549.55 335.57 L550.48 337.36 L551.40 339.10 L552.28 340.72 L553.17 342.32 L554.07 343.90 L554.97 345.46 L555.88 346.99 L556.80 348.50 L557.67 349.91 L558.54 351.29 L559.41 352.66 L560.29 354.00 L561.19 355.32 L562.10 356.60 L562.97 357.78 L563.86 358.94 L564.75 360.07 L565.66 361.17 L566.58 362.25 L567.50 363.30 L568.38 364.26 L569.27 365.19 L570.17 366.09 L571.08 366.97 L571.99 367.84 L572.90 368.70 L573.79 369.52 L574.68 370.33 L575.58 371.12 L576.49 371.89 L577.39 372.65 L578.30 373.40 L579.19 374.10 L580.11 374.79 L581.02 375.46 L581.92 376.12 L582.79 376.77 L583.60 377.40 L584.21 377.90 L584.77 378.37 L585.30 378.83 L585.84 379.30 L586.40 379.79 L587.00 380.30 L587.83 381.01 L588.73 381.79 L589.65 382.60 L590.59 383.39 L591.52 384.14 L592.40 384.80 L593.08 385.26 L593.72 385.67 L594.36 386.04 L595.00 386.41 L595.68 386.78 L596.40 387.20 L597.41 387.78 L598.48 388.39 L599.60 389.02 L600.76 389.67 L601.93 390.33 L603.10 391.00 L604.41 391.75 L605.75 392.53 L607.11 393.32 L608.48 394.11 L609.84 394.91 L611.20 395.70 L612.53 396.49 L613.86 397.29 L615.19 398.08 L616.52 398.87 L617.86 399.65 L619.20 400.40 L620.55 401.10 L621.93 401.77 L623.31 402.43 L624.67 403.09 L626.01 403.77 L627.30 404.50 L628.45 405.25 L629.54 406.05 L630.61 406.87 L631.68 407.68 L632.80 408.47 L634.00 409.20 L635.46 409.94 L637.01 410.62 L638.62 411.27 L640.25 411.90 L641.86 412.53 L643.40 413.20 L644.79 413.85 L646.16 414.52 L647.50 415.18 L648.83 415.86 L650.16 416.53 L651.50 417.20 L652.83 417.87 L654.16 418.55 L655.49 419.23 L656.82 419.91 L658.16 420.57 L659.50 421.20 L660.84 421.78 L662.18 422.32 L663.53 422.84 L664.88 423.38 L666.24 423.96 L667.60 424.60 L669.17 425.44 L670.84 426.39 L672.52 427.39 L674.11 428.38 L675.53 429.27 L676.70 430.00 L677.17 430.30 L677.58 430.56 L677.95 430.80 L678.29 431.03 L678.63 431.26 L679.00 431.50" stroke="#ff8000" stroke-width="1.3" fill="none" stroke-linejoin="round"/>
<path d="M423.80 452.80 L423.97 450.77 L424.14 448.74 L424.31 446.70 L424.48 444.68 L424.64 442.67 L424.80 440.70 L424.94 438.87 L425.07 437.05 L425.20 435.24 L425.32 433.46 L425.46 431.71 L425.60 430.00 L425.71 428.44 L425.80 426.86 L425.90 425.31 L426.03 423.83 L426.22 422.44 L426.50 421.20 L426.76 420.42 L427.04 419.72 L427.36 419.06 L427.71 418.44 L428.09 417.83 L428.50 417.20 L428.98 416.52 L429.51 415.85 L430.07 415.19 L430.67 414.53 L431.28 413.87 L431.90 413.20 L432.62 412.42 L433.37 411.62 L434.15 410.82 L434.95 410.02 L435.77 409.24 L436.60 408.50 L437.46 407.79 L438.35 407.12 L439.26 406.46 L440.18 405.81 L441.10 405.16 L442.00 404.50 L442.88 403.81 L443.75 403.11 L444.61 402.40 L445.49 401.71 L446.38 401.04 L447.30 400.40 L448.28 399.81 L449.29 399.26 L450.32 398.74 L451.36 398.22 L452.39 397.68 L453.40 397.10 L454.41 396.46 L455.42 395.78 L456.41 395.09 L457.40 394.39 L458.40 393.69 L459.40 393.00 L460.44 392.32 L461.50 391.64 L462.57 390.97 L463.62 390.30 L464.60 389.64 L465.50 389.00 L466.11 388.52 L466.65 388.05 L467.16 387.58 L467.67 387.12 L468.20 386.66 L468.80 386.20 L469.61 385.63 L470.49 385.07 L471.40 384.50 L472.34 383.93 L473.28 383.37 L474.20 382.80 L475.10 382.24 L476.01 381.69 L476.91 381.13 L477.81 380.57 L478.71 380.00 L479.60 379.40 L480.49 378.76 L481.38 378.11 L482.26 377.43 L483.14 376.75 L484.02 376.07 L484.90 375.40 L485.80 374.73 L486.71 374.05 L487.62 373.38 L488.52 372.71 L489.42 372.05 L490.30 371.40 L491.10 370.83 L491.89 370.30 L492.68 369.78 L493.45 369.24 L494.23 368.65 L495.00 368.00 L495.91 367.12 L496.81 366.14 L497.71 365.11 L498.60 364.05 L499.50 363.00 L500.40 362.00 L501.28 361.08 L502.16 360.19 L503.05 359.30 L503.94 358.41 L504.82 357.52 L505.70 356.60 L506.61 355.63 L507.51 354.65 L508.42 353.66 L509.32 352.66 L510.21 351.64 L511.10 350.60 L512.00 349.46 L512.88 348.26 L513.75 347.04 L514.63 345.85 L515.54 344.76 L516.50 343.80 L517.35 343.06 L518.23 342.35 L519.13 341.70 L520.05 341.15 L520.97 340.74 L521.90 340.50 L522.78 340.44 L523.69 340.52 L524.61 340.72 L525.52 341.02 L526.39 341.38 L527.20 341.80 L527.97 342.30 L528.69 342.89 L529.38 343.56 L530.04 344.30 L530.67 345.08 L531.30 345.90 L532.02 346.97 L532.71 348.14 L533.36 349.38 L534.01 350.67 L534.65 351.95 L535.30 353.20 L535.96 354.45 L536.62 355.72 L537.27 356.99 L537.93 358.24 L538.60 359.45 L539.30 360.60 L539.94 361.56 L540.59 362.46 L541.26 363.33 L541.93 364.20 L542.61 365.08 L543.30 366.00 L544.07 367.06 L544.86 368.14 L545.65 369.25 L546.44 370.38 L547.23 371.53 L548.00 372.70 L548.81 374.01 L549.61 375.37 L550.40 376.76 L551.18 378.15 L551.95 379.50 L552.70 380.80 L553.33 381.90 L553.92 383.00 L554.50 384.07 L555.09 385.10 L555.72 386.09 L556.40 387.00 L557.08 387.75 L557.81 388.43 L558.57 389.06 L559.33 389.68 L560.08 390.32 L560.80 391.00 L561.49 391.75 L562.16 392.54 L562.82 393.34 L563.47 394.15 L564.13 394.94 L564.80 395.70 L565.47 396.40 L566.16 397.08 L566.85 397.75 L567.54 398.42 L568.23 399.10 L568.90 399.80 L569.58 400.56 L570.25 401.33 L570.91 402.12 L571.58 402.92 L572.24 403.71 L572.90 404.50 L573.56 405.29 L574.22 406.09 L574.88 406.88 L575.55 407.67 L576.22 408.45 L576.90 409.20 L577.57 409.90 L578.25 410.57 L578.94 411.23 L579.63 411.88 L580.32 412.54 L581.00 413.20 L581.67 413.87 L582.32 414.54 L582.97 415.21 L583.63 415.88 L584.31 416.54 L585.00 417.20 L585.76 417.88 L586.54 418.56 L587.34 419.23 L588.14 419.90 L588.93 420.55 L589.70 421.20 L590.38 421.77 L591.05 422.31 L591.70 422.84 L592.36 423.38 L593.02 423.96 L593.70 424.60 L594.56 425.50 L595.42 426.50 L596.29 427.56 L597.19 428.63 L598.12 429.65 L599.10 430.60 L600.16 431.45 L601.28 432.23 L602.44 432.98 L603.60 433.72 L604.73 434.48 L605.80 435.30 L606.75 436.15 L607.65 437.05 L608.51 437.97 L609.37 438.89 L610.26 439.81 L611.20 440.70 L612.25 441.61 L613.34 442.50 L614.45 443.38 L615.59 444.27 L616.74 445.17 L617.90 446.10 L619.27 447.22 L620.75 448.44 L622.25 449.68 L623.68 450.86 L624.96 451.93 L626.00 452.80 L626.41 453.15 L626.77 453.45 L627.09 453.72 L627.38 453.97 L627.68 454.23 L628.00 454.50" stroke="#0000ff" stroke-width="1.3" fill="none" stroke-linejoin="round" stroke-dasharray="5.2 4.6"/>
<path d="M441.90 453.10 L442.58 452.16 L443.25 451.23 L443.92 450.30 L444.59 449.36 L445.29 448.39 L446.00 447.40 L446.84 446.22 L447.71 445.00 L448.60 443.75 L449.50 442.50 L450.40 441.24 L451.30 440.00 L452.19 438.78 L453.09 437.56 L453.99 436.35 L454.90 435.13 L455.80 433.92 L456.70 432.70 L457.60 431.46 L458.50 430.22 L459.39 428.97 L460.29 427.73 L461.19 426.51 L462.10 425.30 L463.00 424.14 L463.92 422.99 L464.84 421.84 L465.75 420.72 L466.64 419.64 L467.50 418.60 L468.19 417.72 L468.85 416.81 L469.49 415.93 L470.14 415.11 L470.80 414.42 L471.50 413.90 L472.05 413.61 L472.62 413.39 L473.19 413.24 L473.77 413.16 L474.34 413.14 L474.90 413.20 L475.47 413.35 L476.03 413.60 L476.58 413.93 L477.12 414.32 L477.66 414.75 L478.20 415.20 L478.88 415.83 L479.56 416.56 L480.23 417.35 L480.89 418.18 L481.55 419.04 L482.20 419.90 L482.90 420.85 L483.60 421.84 L484.28 422.86 L484.96 423.90 L485.63 424.95 L486.30 426.00 L486.97 427.09 L487.63 428.19 L488.29 429.31 L488.94 430.44 L489.61 431.57 L490.30 432.70 L491.05 433.92 L491.83 435.18 L492.62 436.45 L493.41 437.70 L494.21 438.89 L495.00 440.00 L495.67 440.86 L496.35 441.66 L497.03 442.42 L497.70 443.17 L498.36 443.92 L499.00 444.70 L499.60 445.50 L500.18 446.31 L500.75 447.13 L501.31 447.95 L501.86 448.74 L502.40 449.50 L502.88 450.15 L503.38 450.80 L503.86 451.44 L504.32 452.04 L504.74 452.60 L505.10 453.10 L505.28 453.37 L505.44 453.61 L505.59 453.84 L505.72 454.06 L505.86 454.27 L506.00 454.50" stroke="#ff0000" stroke-width="1.3" fill="none" stroke-linejoin="round"/>
<path d="M422.10 371.80 L422.13 370.88 L422.17 369.96 L422.20 369.05 L422.23 368.13 L422.27 367.21 L422.30 366.30 L422.33 365.40 L422.37 364.50 L422.41 363.60 L422.44 362.70 L422.47 361.80 L422.50 360.90 L422.52 360.00 L422.53 359.10 L422.54 358.20 L422.56 357.30 L422.57 356.40 L422.60 355.50 L422.64 354.62 L422.69 353.74 L422.74 352.86 L422.80 351.98 L422.85 351.09 L422.90 350.20 L422.94 349.26 L422.97 348.31 L422.99 347.35 L423.02 346.40 L423.06 345.44 L423.10 344.50 L423.15 343.59 L423.21 342.69 L423.27 341.79 L423.34 340.89 L423.42 339.99 L423.50 339.10 L423.59 338.22 L423.70 337.34 L423.82 336.46 L423.93 335.58 L424.03 334.69 L424.10 333.80 L424.14 332.86 L424.17 331.92 L424.17 330.96 L424.17 330.01 L424.18 329.05 L424.20 328.10 L424.24 327.14 L424.30 326.18 L424.36 325.22 L424.42 324.27 L424.47 323.33 L424.50 322.40 L424.51 321.56 L424.51 320.75 L424.49 319.94 L424.48 319.14 L424.48 318.33 L424.50 317.50 L424.54 316.61 L424.60 315.72 L424.67 314.82 L424.75 313.91 L424.83 313.00 L424.90 312.10 L424.97 311.20 L425.04 310.30 L425.11 309.41 L425.17 308.51 L425.24 307.61 L425.30 306.70 L425.36 305.77 L425.41 304.84 L425.46 303.90 L425.51 302.96 L425.56 302.03 L425.60 301.10 L425.64 300.19 L425.67 299.29 L425.69 298.39 L425.72 297.50 L425.76 296.60 L425.80 295.70 L425.84 294.80 L425.87 293.90 L425.91 292.99 L425.96 292.09 L426.05 291.20 L426.20 290.30 L426.41 289.38 L426.67 288.45 L426.97 287.53 L427.30 286.61 L427.65 285.70 L428.00 284.80 L428.39 283.78 L428.82 282.61 L429.27 281.45 L429.70 280.44 L430.09 279.74 L430.40 279.50 L430.60 279.74 L430.74 280.34 L430.85 281.18 L430.93 282.14 L431.01 283.12 L431.10 284.00 L431.20 284.91 L431.28 285.85 L431.36 286.82 L431.43 287.79 L431.51 288.75 L431.60 289.70 L431.70 290.61 L431.82 291.51 L431.94 292.41 L432.06 293.31 L432.18 294.20 L432.30 295.10 L432.42 295.99 L432.54 296.87 L432.66 297.75 L432.77 298.63 L432.89 299.51 L433.00 300.40 L433.10 301.30 L433.20 302.20 L433.30 303.10 L433.40 304.00 L433.50 304.90 L433.60 305.80 L433.71 306.70 L433.82 307.60 L433.93 308.49 L434.05 309.39 L434.17 310.30 L434.30 311.20 L434.44 312.13 L434.58 313.08 L434.72 314.02 L434.87 314.96 L435.03 315.89 L435.20 316.80 L435.36 317.63 L435.53 318.45 L435.70 319.26 L435.88 320.06 L436.08 320.87 L436.30 321.70 L436.58 322.62 L436.88 323.55 L437.21 324.49 L437.55 325.43 L437.88 326.37 L438.20 327.30 L438.49 328.20 L438.77 329.10 L439.04 330.00 L439.32 330.89 L439.60 331.79 L439.90 332.70 L440.22 333.66 L440.55 334.64 L440.89 335.61 L441.25 336.59 L441.61 337.55 L442.00 338.50 L442.40 339.41 L442.81 340.30 L443.24 341.18 L443.68 342.05 L444.14 342.92 L444.60 343.80 L445.08 344.70 L445.58 345.61 L446.08 346.51 L446.60 347.41 L447.14 348.31 L447.70 349.20 L448.30 350.11 L448.92 351.02 L449.56 351.93 L450.22 352.82 L450.90 353.72 L451.60 354.60 L452.36 355.52 L453.16 356.43 L453.98 357.33 L454.81 358.22 L455.65 359.11 L456.50 360.00 L457.36 360.90 L458.23 361.80 L459.11 362.69 L460.00 363.58 L460.90 364.45 L461.80 365.30 L462.69 366.11 L463.58 366.91 L464.48 367.70 L465.38 368.47 L466.29 369.24 L467.20 370.00 L468.09 370.74 L468.99 371.48 L469.89 372.21 L470.79 372.93 L471.69 373.63 L472.60 374.30 L473.48 374.92 L474.36 375.51 L475.24 376.08 L476.13 376.65 L477.01 377.22 L477.90 377.80 L478.79 378.42 L479.69 379.05 L480.58 379.68 L481.47 380.31 L482.38 380.92 L483.30 381.50 L484.23 382.04 L485.18 382.54 L486.14 383.02 L487.10 383.50 L488.06 383.99 L489.00 384.50 L489.93 385.04 L490.85 385.60 L491.76 386.17 L492.68 386.73 L493.59 387.28 L494.50 387.80 L495.37 388.26 L496.23 388.71 L497.09 389.14 L497.96 389.56 L498.83 389.98 L499.70 390.40 L500.59 390.83 L501.49 391.27 L502.40 391.70 L503.30 392.13 L504.20 392.56 L505.10 393.00 L505.99 393.44 L506.87 393.89 L507.75 394.34 L508.63 394.80 L509.51 395.25 L510.40 395.70 L511.30 396.16 L512.19 396.62 L513.09 397.07 L513.99 397.53 L514.89 397.97 L515.80 398.40 L516.69 398.80 L517.58 399.18 L518.48 399.56 L519.38 399.93 L520.28 400.31 L521.20 400.70 L522.19 401.14 L523.19 401.60 L524.20 402.06 L525.21 402.53 L526.21 402.97 L527.20 403.40 L528.11 403.77 L529.02 404.12 L529.92 404.46 L530.81 404.80 L531.70 405.14 L532.60 405.50 L533.50 405.87 L534.40 406.25 L535.31 406.64 L536.21 407.03 L537.10 407.41 L538.00 407.80 L538.89 408.18 L539.77 408.56 L540.65 408.94 L541.53 409.33 L542.42 409.71 L543.30 410.10 L544.20 410.50 L545.09 410.91 L545.99 411.32 L546.89 411.73 L547.80 412.12 L548.70 412.50 L549.60 412.85 L550.50 413.18 L551.40 413.51 L552.30 413.83 L553.20 414.15 L554.10 414.50 L555.00 414.87 L555.91 415.24 L556.81 415.63 L557.71 416.01 L558.61 416.41 L559.50 416.80 L560.39 417.20 L561.27 417.61 L562.15 418.02 L563.03 418.42 L563.91 418.82 L564.80 419.20 L565.69 419.55 L566.59 419.89 L567.49 420.22 L568.40 420.54 L569.30 420.87 L570.20 421.20 L571.10 421.54 L572.00 421.88 L572.91 422.22 L573.81 422.56 L574.71 422.92 L575.60 423.30 L576.50 423.71 L577.40 424.13 L578.29 424.57 L579.18 425.02 L580.08 425.46 L581.00 425.90 L581.98 426.37 L582.98 426.85 L583.99 427.33 L585.00 427.79 L586.00 428.22 L587.00 428.60 L587.91 428.88 L588.82 429.10 L589.72 429.29 L590.62 429.48 L591.52 429.71 L592.40 430.00 L593.30 430.38 L594.18 430.82 L595.06 431.29 L595.93 431.77 L596.81 432.25 L597.70 432.70 L598.59 433.13 L599.49 433.55 L600.38 433.97 L601.29 434.37 L602.19 434.75 L603.10 435.10 L603.99 435.40 L604.89 435.67 L605.80 435.92 L606.70 436.17 L607.60 436.42 L608.50 436.70 L609.41 437.00 L610.31 437.31 L611.22 437.64 L612.12 437.97 L613.01 438.32 L613.90 438.70 L614.79 439.11 L615.68 439.55 L616.56 440.01 L617.44 440.48 L618.32 440.94 L619.20 441.40 L620.09 441.86 L620.99 442.33 L621.89 442.79 L622.79 443.25 L623.69 443.69 L624.60 444.10 L625.49 444.46 L626.40 444.79 L627.30 445.10 L628.21 445.41 L629.11 445.74 L630.00 446.10 L630.90 446.50 L631.79 446.91 L632.68 447.34 L633.56 447.80 L634.43 448.28 L635.30 448.80 L636.26 449.41 L637.26 450.09 L638.26 450.81 L639.20 451.52 L640.03 452.19 L640.70 452.80 L640.99 453.11 L641.23 453.40 L641.43 453.68 L641.61 453.95 L641.80 454.22 L642.00 454.50" stroke="#800080" stroke-width="1.35" fill="none" stroke-linejoin="round" stroke-dasharray="1.3 4.2"/>
<path d="M421.80 354.20 L421.92 353.26 L422.04 352.32 L422.16 351.38 L422.28 350.43 L422.39 349.48 L422.50 348.50 L422.61 347.42 L422.71 346.33 L422.81 345.22 L422.90 344.10 L423.00 342.96 L423.10 341.80 L423.21 340.50 L423.31 339.16 L423.42 337.80 L423.53 336.44 L423.66 335.10 L423.80 333.80 L423.94 332.63 L424.08 331.46 L424.23 330.30 L424.40 329.18 L424.59 328.11 L424.80 327.10 L424.95 326.31 L425.08 325.51 L425.22 324.74 L425.41 324.04 L425.69 323.44 L426.10 323.00 L426.73 322.72 L427.51 322.63 L428.40 322.67 L429.35 322.78 L430.30 322.91 L431.20 323.00 L432.09 323.07 L432.97 323.16 L433.86 323.28 L434.75 323.41 L435.67 323.55 L436.60 323.70 L437.67 323.87 L438.76 324.05 L439.88 324.25 L441.01 324.47 L442.15 324.72 L443.30 325.00 L444.59 325.37 L445.90 325.79 L447.23 326.24 L448.57 326.72 L449.92 327.21 L451.30 327.70 L452.83 328.23 L454.38 328.78 L455.96 329.34 L457.55 329.91 L459.13 330.50 L460.70 331.10 L462.27 331.73 L463.84 332.39 L465.40 333.07 L466.97 333.75 L468.53 334.43 L470.10 335.10 L471.68 335.76 L473.27 336.41 L474.86 337.06 L476.45 337.72 L478.03 338.40 L479.60 339.10 L481.20 339.85 L482.83 340.64 L484.45 341.44 L486.04 342.25 L487.56 343.04 L489.00 343.80 L490.09 344.39 L491.12 344.96 L492.11 345.51 L493.08 346.07 L494.04 346.63 L495.00 347.20 L495.92 347.77 L496.82 348.35 L497.72 348.94 L498.61 349.51 L499.50 350.07 L500.40 350.60 L501.27 351.07 L502.13 351.50 L503.00 351.92 L503.88 352.33 L504.78 352.75 L505.70 353.20 L506.79 353.74 L507.91 354.30 L509.05 354.87 L510.21 355.45 L511.36 356.03 L512.50 356.60 L513.62 357.17 L514.74 357.74 L515.85 358.30 L516.97 358.87 L518.08 359.44 L519.20 360.00 L520.32 360.55 L521.44 361.08 L522.56 361.62 L523.68 362.16 L524.79 362.72 L525.90 363.30 L527.03 363.93 L528.15 364.58 L529.26 365.25 L530.37 365.94 L531.49 366.62 L532.60 367.30 L533.72 367.98 L534.83 368.66 L535.95 369.35 L537.07 370.04 L538.18 370.72 L539.30 371.40 L540.42 372.06 L541.54 372.72 L542.66 373.37 L543.78 374.03 L544.89 374.70 L546.00 375.40 L547.12 376.15 L548.22 376.91 L549.32 377.70 L550.42 378.49 L551.54 379.30 L552.70 380.10 L554.01 381.01 L555.35 381.96 L556.72 382.93 L558.10 383.86 L559.46 384.73 L560.80 385.50 L561.95 386.05 L563.10 386.51 L564.24 386.92 L565.36 387.32 L566.45 387.77 L567.50 388.30 L568.46 388.91 L569.37 389.59 L570.25 390.31 L571.12 391.03 L572.00 391.74 L572.90 392.40 L573.79 392.99 L574.69 393.54 L575.59 394.08 L576.50 394.62 L577.40 395.15 L578.30 395.70 L579.20 396.28 L580.11 396.90 L581.01 397.51 L581.91 398.10 L582.77 398.64 L583.60 399.10 L584.19 399.37 L584.75 399.59 L585.29 399.78 L585.84 399.96 L586.40 400.16 L587.00 400.40 L587.84 400.76 L588.73 401.16 L589.66 401.58 L590.59 402.04 L591.51 402.55 L592.40 403.10 L593.30 403.78 L594.15 404.53 L594.99 405.34 L595.84 406.17 L596.74 407.00 L597.70 407.80 L598.93 408.71 L600.24 409.63 L601.61 410.55 L603.01 411.45 L604.42 412.34 L605.80 413.20 L607.14 414.00 L608.48 414.76 L609.82 415.51 L611.17 416.26 L612.53 417.05 L613.90 417.90 L615.45 418.94 L617.02 420.07 L618.60 421.25 L620.19 422.42 L621.76 423.55 L623.30 424.60 L624.65 425.46 L625.99 426.28 L627.31 427.07 L628.63 427.83 L629.96 428.57 L631.30 429.30 L632.63 430.00 L633.96 430.67 L635.30 431.32 L636.65 431.96 L638.01 432.62 L639.40 433.30 L640.93 434.07 L642.48 434.86 L644.05 435.66 L645.63 436.46 L647.22 437.24 L648.80 438.00 L650.36 438.74 L651.91 439.48 L653.47 440.21 L655.04 440.91 L656.61 441.54 L658.20 442.10 L659.75 442.57 L661.31 442.99 L662.88 443.35 L664.46 443.66 L666.03 443.91 L667.60 444.10 L669.19 444.20 L670.86 444.22 L672.53 444.19 L674.12 444.13 L675.53 444.09 L676.70 444.10 L677.17 444.13 L677.58 444.16 L677.95 444.19 L678.29 444.23 L678.63 444.27 L679.00 444.30" stroke="#00ff00" stroke-width="1.3" fill="none" stroke-linejoin="round" stroke-dasharray="5 4.6"/>
</g>
<g clip-path="url(#clipe)">
<path d="M78.00 699.06 L78.06 699.05 L78.13 699.03 L78.19 699.01 L78.25 698.98 L78.32 698.95 L78.40 698.93 L78.43 698.90 L78.40 698.87 L78.37 698.83 L78.41 698.80 L78.57 698.76 L78.90 698.73 L79.21 698.71 L79.58 698.70 L80.00 698.69 L80.46 698.68 L80.93 698.67 L81.40 698.65 L82.00 698.63 L82.63 698.61 L83.28 698.59 L83.96 698.56 L84.67 698.54 L85.40 698.51 L86.24 698.48 L87.12 698.46 L88.03 698.43 L88.95 698.40 L89.88 698.37 L90.80 698.34 L91.68 698.31 L92.55 698.27 L93.43 698.24 L94.31 698.21 L95.20 698.18 L96.10 698.15 L96.99 698.12 L97.88 698.09 L98.78 698.06 L99.69 698.03 L100.59 698.00 L101.50 697.98 L102.40 697.95 L103.30 697.92 L104.20 697.89 L105.10 697.86 L106.00 697.83 L106.90 697.80 L107.78 697.77 L108.66 697.75 L109.55 697.72 L110.43 697.69 L111.31 697.66 L112.20 697.63 L113.09 697.60 L113.99 697.56 L114.89 697.53 L115.79 697.50 L116.69 697.47 L117.60 697.45 L118.50 697.42 L119.39 697.40 L120.30 697.38 L121.20 697.36 L122.10 697.33 L123.00 697.31 L123.90 697.29 L124.79 697.26 L125.68 697.24 L126.58 697.21 L127.48 697.18 L128.40 697.15 L129.40 697.12 L130.42 697.09 L131.46 697.05 L132.48 697.02 L133.47 696.98 L134.40 696.94 L135.11 696.91 L135.78 696.89 L136.42 696.86 L137.06 696.82 L137.71 696.79 L138.40 696.76 L139.25 696.71 L140.12 696.67 L141.01 696.62 L141.92 696.56 L142.85 696.51 L143.80 696.46 L144.87 696.41 L145.97 696.35 L147.10 696.30 L148.23 696.24 L149.37 696.19 L150.50 696.13 L151.61 696.08 L152.73 696.03 L153.84 695.97 L154.96 695.92 L156.08 695.87 L157.20 695.82 L158.33 695.76 L159.46 695.71 L160.60 695.66 L161.74 695.61 L162.87 695.55 L164.00 695.49 L165.12 695.43 L166.24 695.37 L167.35 695.31 L168.47 695.24 L169.58 695.18 L170.70 695.12 L171.81 695.06 L172.93 695.01 L174.05 694.96 L175.17 694.91 L176.29 694.86 L177.40 694.80 L178.52 694.74 L179.64 694.67 L180.75 694.59 L181.87 694.51 L182.98 694.43 L184.10 694.35 L185.23 694.27 L186.36 694.19 L187.50 694.10 L188.62 694.01 L189.73 693.92 L190.80 693.83 L191.76 693.75 L192.71 693.66 L193.65 693.57 L194.56 693.48 L195.42 693.40 L196.20 693.32 L196.69 693.26 L197.14 693.21 L197.55 693.16 L197.97 693.11 L198.41 693.06 L198.90 693.01 L199.68 692.92 L200.53 692.83 L201.44 692.73 L202.36 692.62 L203.29 692.52 L204.20 692.41 L205.10 692.31 L206.00 692.19 L206.90 692.08 L207.80 691.96 L208.70 691.84 L209.60 691.72 L210.50 691.59 L211.40 691.46 L212.30 691.33 L213.20 691.19 L214.10 691.05 L215.00 690.91 L215.90 690.78 L216.80 690.65 L217.70 690.52 L218.60 690.39 L219.50 690.26 L220.40 690.12 L221.29 689.98 L222.18 689.84 L223.08 689.70 L223.96 689.56 L224.84 689.41 L225.70 689.25 L226.49 689.10 L227.27 688.93 L228.03 688.77 L228.80 688.59 L229.58 688.42 L230.40 688.24 L231.37 688.03 L232.38 687.80 L233.42 687.58 L234.46 687.35 L235.49 687.12 L236.50 686.91 L237.42 686.73 L238.33 686.57 L239.23 686.42 L240.12 686.26 L241.01 686.09 L241.90 685.89 L242.79 685.66 L243.67 685.39 L244.55 685.10 L245.43 684.81 L246.31 684.53 L247.20 684.28 L248.09 684.06 L248.99 683.85 L249.89 683.66 L250.79 683.48 L251.70 683.31 L252.60 683.13 L253.49 682.96 L254.39 682.78 L255.28 682.61 L256.17 682.46 L257.08 682.31 L258.00 682.19 L258.98 682.07 L259.99 681.97 L261.00 681.88 L262.01 681.82 L263.02 681.79 L264.00 681.80 L264.92 681.84 L265.83 681.90 L266.73 682.00 L267.62 682.13 L268.51 682.29 L269.40 682.48 L270.31 682.72 L271.21 683.01 L272.11 683.33 L273.01 683.66 L273.90 683.98 L274.80 684.28" stroke="#00ffff" stroke-width="1.75" fill="none" stroke-linejoin="round" stroke-dasharray="1.7 3.7"/>
<path d="M77.60 699.06 L77.67 699.05 L77.74 699.03 L77.81 699.01 L77.87 698.98 L77.94 698.96 L78.00 698.93 L78.00 698.89 L77.93 698.85 L77.85 698.80 L77.84 698.75 L77.97 698.70 L78.30 698.65 L78.60 698.63 L78.95 698.61 L79.35 698.59 L79.79 698.58 L80.24 698.56 L80.70 698.54 L81.20 698.52 L81.72 698.49 L82.26 698.47 L82.83 698.45 L83.44 698.42 L84.10 698.40 L85.06 698.36 L86.11 698.32 L87.23 698.27 L88.40 698.22 L89.60 698.17 L90.80 698.13 L92.07 698.08 L93.38 698.03 L94.73 697.98 L96.08 697.93 L97.45 697.88 L98.80 697.83 L100.14 697.77 L101.49 697.72 L102.85 697.66 L104.20 697.60 L105.55 697.54 L106.90 697.48 L108.23 697.41 L109.56 697.34 L110.89 697.26 L112.22 697.19 L113.56 697.11 L114.60 696.40 L117.03 696.25 L119.47 696.10 L121.90 695.96 L124.33 695.81 L126.77 695.66 L129.20 695.50 L131.63 695.34 L134.07 695.19 L136.50 695.03 L138.93 694.87 L141.37 694.69 L143.80 694.50 L146.25 694.29 L148.73 694.07 L151.20 693.84 L153.66 693.60 L156.06 693.35 L158.40 693.10 L160.44 692.87 L162.43 692.65 L164.39 692.42 L166.31 692.17 L168.22 691.90 L170.10 691.60 L171.85 691.30 L173.58 690.99 L175.28 690.67 L176.97 690.30 L178.64 689.88 L180.30 689.40 L181.96 688.85 L183.61 688.24 L185.25 687.59 L186.86 686.88 L188.45 686.11 L190.00 685.30 L191.52 684.43 L193.02 683.51 L194.49 682.54 L195.93 681.52 L197.33 680.44 L198.70 679.30 L200.09 678.07 L201.44 676.80 L202.77 675.47 L204.04 674.07 L205.26 672.58 L206.40 671.00 L207.60 669.04 L208.72 666.91 L209.76 664.67 L210.73 662.39 L211.64 660.14 L212.50 658.00 L213.20 656.23 L213.84 654.53 L214.43 652.85 L214.99 651.16 L215.51 649.42 L216.00 647.60 L216.51 645.44 L216.95 643.22 L217.36 640.94 L217.74 638.60 L218.11 636.22 L218.50 633.80 L218.95 631.03 L219.38 628.18 L219.81 625.27 L220.24 622.34 L220.67 619.41 L221.10 616.50 L221.53 613.62 L221.97 610.73 L222.40 607.85 L222.83 604.97 L223.27 602.08 L223.70 599.20 L224.14 596.32 L224.59 593.43 L225.03 590.55 L225.47 587.67 L225.90 584.79 L226.30 581.90 L226.68 578.98 L227.05 576.02 L227.41 573.06 L227.75 570.14 L228.08 567.31 L228.40 564.60 L228.65 562.42 L228.87 560.29 L229.09 558.22 L229.31 556.22 L229.54 554.31 L229.80 552.50 L229.96 551.05 L230.06 549.54 L230.17 548.08 L230.35 546.79 L230.67 545.79 L231.20 545.20 L231.93 545.04 L232.89 545.15 L233.95 545.50 L235.03 546.05 L236.01 546.77 L236.80 547.60 L237.66 549.49 L238.14 552.06 L238.35 555.07 L238.43 558.32 L238.50 561.57 L238.70 564.60 L238.99 567.47 L239.27 570.36 L239.54 573.24 L239.81 576.13 L240.10 579.02 L240.40 581.90 L240.73 584.78 L241.07 587.67 L241.42 590.55 L241.78 593.43 L242.14 596.32 L242.50 599.20 L242.86 602.08 L243.21 604.97 L243.57 607.85 L243.93 610.74 L244.31 613.62 L244.70 616.50 L245.11 619.38 L245.54 622.27 L245.98 625.15 L246.42 628.03 L246.86 630.92 L247.30 633.80 L247.72 636.71 L248.12 639.64 L248.52 642.58 L248.93 645.48 L249.39 648.33 L249.90 651.10 L250.41 653.53 L250.95 655.90 L251.51 658.23 L252.11 660.51 L252.74 662.77 L253.40 665.00 L254.04 667.11 L254.70 669.20 L255.39 671.27 L256.11 673.29 L256.88 675.24 L257.70 677.10 L258.47 678.67 L259.27 680.17 L260.10 681.62 L260.98 683.03 L261.91 684.38 L262.90 685.70 L263.93 686.97 L265.00 688.21 L266.13 689.40 L267.31 690.54 L268.53 691.61 L269.80 692.60 L271.13 693.48 L272.54 694.25 L273.99 694.95 L275.47 695.62 L276.95 696.30 L278.40 697.00 L279.04 696.63 L279.90 696.85" stroke="#ff8000" stroke-width="1.3" fill="none" stroke-linejoin="round"/>
<path d="M78.00 699.05 L78.32 699.05 L78.63 699.04 L78.94 699.03 L79.26 699.03 L79.61 699.02 L80.00 699.01 L80.58 699.00 L81.21 698.99 L81.89 698.97 L82.60 698.96 L83.34 698.94 L84.10 698.93 L84.72 698.92 L85.37 698.91 L86.02 698.90 L86.70 698.89 L87.39 698.88 L88.10 698.87 L88.93 698.86 L89.80 698.84 L90.68 698.83 L91.58 698.81 L92.49 698.80 L93.40 698.78 L94.28 698.77 L95.18 698.75 L96.08 698.74 L96.98 698.72 L97.89 698.71 L98.80 698.69 L99.69 698.68 L100.59 698.67 L101.48 698.65 L102.39 698.64 L103.29 698.62 L104.20 698.61 L105.09 698.60 L105.99 698.59 L106.89 698.57 L107.80 698.56 L108.70 698.55 L109.60 698.54 L110.48 698.53 L111.36 698.51 L112.24 698.50 L113.13 698.49 L114.01 698.48 L114.90 698.47 L115.79 698.46 L116.69 698.45 L117.59 698.44 L118.50 698.43 L119.40 698.42 L120.30 698.41 L121.20 698.40 L122.10 698.39 L123.00 698.38 L123.90 698.37 L124.80 698.36 L125.70 698.35 L126.60 698.33 L127.49 698.32 L128.38 698.31 L129.28 698.29 L130.18 698.28 L131.10 698.26 L132.07 698.25 L133.04 698.24 L134.02 698.22 L135.02 698.21 L136.05 698.19 L137.10 698.17 L138.39 698.15 L139.74 698.13 L141.12 698.10 L142.51 698.08 L143.88 698.05 L145.20 698.02 L146.35 698.00 L147.48 697.98 L148.59 697.95 L149.69 697.93 L150.79 697.91 L151.90 697.88 L153.02 697.86 L154.14 697.83 L155.25 697.81 L156.37 697.78 L157.49 697.75 L158.60 697.72 L159.72 697.69 L160.84 697.66 L161.96 697.62 L163.08 697.59 L164.19 697.55 L165.30 697.50 L166.42 697.46 L167.54 697.41 L168.65 697.35 L169.77 697.30 L170.88 697.24 L172.00 697.19 L173.11 697.13 L174.23 697.08 L175.35 697.03 L176.47 696.97 L177.59 696.92 L178.70 696.85 L179.82 696.78 L180.95 696.71 L182.06 696.63 L183.18 696.55 L184.29 696.46 L185.40 696.37 L186.55 696.26 L187.70 696.14 L188.85 696.01 L189.99 695.88 L191.11 695.75 L192.20 695.62 L193.11 695.52 L193.98 695.42 L194.84 695.32 L195.71 695.23 L196.59 695.13 L197.50 695.02 L198.57 694.89 L199.67 694.75 L200.79 694.60 L201.92 694.45 L203.06 694.30 L204.20 694.16 L205.32 694.01 L206.45 693.86 L207.58 693.72 L208.72 693.58 L209.86 693.48 L211.00 693.42 L212.12 693.40 L213.26 693.42 L214.41 693.47 L215.54 693.55 L216.64 693.64 L217.70 693.74 L218.65 693.84 L219.56 693.97 L220.44 694.10 L221.32 694.24 L222.20 694.38 L223.10 694.52 L224.11 694.66 L225.14 694.79 L226.19 694.93 L227.21 695.06 L228.19 695.20 L229.10 695.34 L229.85 695.48 L230.54 695.61 L231.19 695.74 L231.82 695.88 L232.45 696.00 L233.10 696.13 L233.80 696.26 L234.50 696.39 L235.20 696.51 L235.89 696.63 L236.56 696.74 L237.20 696.85 L237.79 696.95 L238.35 697.05 L238.90 697.14 L239.44 697.23 L239.97 697.32 L240.50 697.41 L241.07 697.50 L241.62 697.59 L242.16 697.69 L242.71 697.77 L243.28 697.86 L243.90 697.93 L244.63 698.01 L245.43 698.09 L246.25 698.16 L247.07 698.22 L247.86 698.28 L248.60 698.34 L249.20 698.38 L249.76 698.42 L250.31 698.46 L250.84 698.49 L251.37 698.53 L251.90 698.56 L252.49 698.60 L253.10 698.64 L253.69 698.67 L254.27 698.71 L254.81 698.74 L255.30 698.77 L255.70 698.79 L256.05 698.81 L256.37 698.84 L256.67 698.86 L256.98 698.87 L257.30 698.89 L257.63 698.91 L257.96 698.93 L258.28 698.94 L258.61 698.95 L258.95 698.97 L259.30 698.98 L259.75 699.00 L260.25 699.01 L260.75 699.03 L261.24 699.04 L261.66 699.05 L262.00 699.06 L262.13 699.07 L262.24 699.07 L262.33 699.07 L262.42 699.07 L262.51 699.08 L262.60 699.08" stroke="#0000ff" stroke-width="1.3" fill="none" stroke-linejoin="round" stroke-dasharray="5.2 4.6"/>
<path d="M114.30 699.06 L115.08 699.06 L115.85 699.05 L116.62 699.04 L117.39 699.03 L118.18 699.02 L119.00 699.01 L119.85 699.00 L120.72 698.99 L121.60 698.98 L122.50 698.97 L123.40 698.96 L124.30 698.95 L125.17 698.93 L126.04 698.92 L126.91 698.91 L127.80 698.90 L128.72 698.88 L129.70 698.87 L130.87 698.85 L132.14 698.84 L133.44 698.82 L134.74 698.81 L135.98 698.79 L137.10 698.77 L137.83 698.76 L138.51 698.75 L139.15 698.74 L139.78 698.73 L140.42 698.72 L141.10 698.71 L141.85 698.70 L142.61 698.69 L143.38 698.67 L144.17 698.66 L144.98 698.65 L145.80 698.65 L146.68 698.64 L147.59 698.64 L148.52 698.65 L149.45 698.65 L150.35 698.66 L151.20 698.67 L152.04 698.69 L152.85 698.70 L153.62 698.72 L154.37 698.74 L155.13 698.76 L155.90 698.78 L156.80 698.80 L157.70 698.82 L158.60 698.85 L159.50 698.87 L160.40 698.89 L161.30 698.90 L162.18 698.92 L163.06 698.94 L163.94 698.95 L164.82 698.96 L165.70 698.98 L166.60 698.99 L167.68 699.00 L168.88 699.02 L170.08 699.03 L171.19 699.04 L172.10 699.05 L172.70 699.06 L172.84 699.07 L172.93 699.07 L172.98 699.07 L173.02 699.07 L173.05 699.07 L173.10 699.08" stroke="#ff0000" stroke-width="1.3" fill="none" stroke-linejoin="round"/>
<path d="M72.50 699.20 L72.50 698.56 L72.50 698.00 L72.50 697.44 L72.50 696.81 L72.50 696.02 L72.50 695.00 L72.53 686.32 L72.58 672.46 L72.65 655.12 L72.73 636.00 L72.82 616.80 L72.90 599.20 L72.88 582.01 L72.74 564.27 L72.61 546.44 L72.61 528.98 L72.86 512.34 L73.50 497.00 L74.19 485.23 L74.98 472.59 L75.92 460.42 L77.04 450.05 L78.39 442.80 L80.00 440.00 L82.18 443.02 L84.94 451.11 L87.93 462.41 L90.81 475.06 L93.24 487.21 L94.90 497.00 L95.51 502.39 L95.78 507.40 L95.82 512.16 L95.77 516.80 L95.72 521.47 L95.80 526.30 L95.99 531.52 L96.19 536.86 L96.40 542.23 L96.62 547.53 L96.85 552.65 L97.10 557.50 L97.31 561.21 L97.52 564.75 L97.74 568.16 L97.97 571.52 L98.22 574.88 L98.50 578.30 L98.81 581.78 L99.15 585.27 L99.51 588.75 L99.87 592.24 L100.24 595.72 L100.60 599.20 L100.94 602.67 L101.26 606.14 L101.59 609.61 L101.93 613.07 L102.29 616.54 L102.70 620.00 L103.14 623.50 L103.60 627.03 L104.09 630.56 L104.61 634.05 L105.18 637.48 L105.80 640.80 L106.39 643.73 L106.99 646.63 L107.63 649.46 L108.33 652.23 L109.11 654.91 L110.00 657.50 L110.88 659.77 L111.82 661.98 L112.82 664.13 L113.90 666.19 L115.06 668.15 L116.30 670.00 L117.53 671.59 L118.86 673.09 L120.25 674.51 L121.68 675.85 L123.14 677.11 L124.60 678.30 L125.95 679.32 L127.33 680.26 L128.73 681.15 L130.13 681.98 L131.53 682.76 L132.90 683.50 L134.10 684.11 L135.29 684.67 L136.47 685.18 L137.64 685.68 L138.82 686.18 L140.00 686.70 L140.77 687.28 L141.77 687.65 L142.78 688.02 L143.80 688.37 L144.81 688.71 L145.80 689.02 L146.71 689.29 L147.62 689.55 L148.51 689.79 L149.41 690.02 L150.30 690.25 L151.20 690.48 L152.10 690.70 L153.00 690.92 L153.90 691.13 L154.80 691.34 L155.70 691.54 L156.60 691.72 L157.48 691.89 L158.37 692.05 L159.25 692.20 L160.13 692.35 L161.02 692.49 L161.90 692.64 L162.80 692.80 L163.70 692.95 L164.60 693.10 L165.50 693.25 L166.40 693.40 L167.30 693.55 L168.20 693.69 L169.10 693.84 L169.99 693.98 L170.89 694.11 L171.79 694.24 L172.70 694.35 L173.59 694.45 L174.50 694.54 L175.40 694.63 L176.30 694.71 L177.21 694.79 L178.10 694.88 L178.99 694.97 L179.87 695.06 L180.75 695.16 L181.63 695.25 L182.51 695.34 L183.40 695.43 L184.29 695.51 L185.19 695.60 L186.09 695.67 L186.99 695.75 L187.90 695.82 L188.80 695.89 L189.70 695.96 L190.60 696.02 L191.50 696.08 L192.40 696.13 L193.30 696.19 L194.20 696.25 L195.10 696.31 L196.00 696.38 L196.90 696.45 L197.80 696.51 L198.70 696.57 L199.60 696.63 L200.48 696.68 L201.36 696.72 L202.25 696.77 L203.13 696.81 L204.02 696.85 L204.90 696.89 L205.80 696.94 L206.70 696.98 L207.60 697.03 L208.50 697.07 L209.40 697.11 L210.30 697.15 L211.20 697.19 L212.10 697.23 L213.01 697.26 L213.91 697.29 L214.81 697.33 L215.70 697.36 L216.59 697.40 L217.47 697.44 L218.35 697.48 L219.23 697.52 L220.11 697.56 L221.00 697.60 L221.89 697.63 L222.78 697.66 L223.67 697.69 L224.57 697.72 L225.48 697.74 L226.40 697.77 L227.40 697.80 L228.42 697.83 L229.45 697.85 L230.49 697.88 L231.51 697.91 L232.50 697.93 L233.41 697.96 L234.30 697.98 L235.18 698.00 L236.05 698.02 L236.93 698.05 L237.80 698.07 L238.70 698.10 L239.60 698.12 L240.50 698.15 L241.40 698.18 L242.30 698.21 L243.20 698.23 L244.10 698.26 L245.00 698.28 L245.90 698.30 L246.80 698.32 L247.70 698.34 L248.60 698.36 L249.48 698.38 L250.36 698.40 L251.24 698.42 L252.12 698.43 L253.01 698.45 L253.90 698.47 L254.86 698.49 L255.84 698.51 L256.81 698.53 L257.79 698.55 L258.75 698.57 L259.70 698.59 L260.62 698.61 L261.53 698.63 L262.43 698.64 L263.32 698.66 L264.21 698.68 L265.10 698.70 L266.01 698.72 L266.93 698.74 L267.84 698.75 L268.74 698.77 L269.63 698.79 L270.50 698.80 L271.36 698.82 L272.22 698.84 L273.06 698.85 L273.87 698.87 L274.66 698.88 L275.40 698.90 L276.08 698.91 L276.72 698.93 L277.32 698.94 L277.91 698.96 L278.50 698.97 L279.10 698.98" stroke="#800080" stroke-width="1.35" fill="none" stroke-linejoin="round" stroke-dasharray="1.3 4.2"/>
<path d="M72.00 688.61 L72.21 687.91 L72.42 687.17 L72.63 686.37 L72.85 685.53 L73.07 684.63 L73.30 683.67 L73.55 682.66 L73.81 681.58 L74.08 680.44 L74.35 679.21 L74.63 677.89 L74.90 676.44 L75.20 674.68 L75.51 672.72 L75.82 670.57 L76.12 668.25 L76.42 665.80 L76.70 663.27 L76.91 660.93 L77.09 658.39 L77.27 655.75 L77.46 653.09 L77.69 650.56 L78.00 648.30 L78.22 647.00 L78.45 645.78 L78.70 644.67 L78.98 643.68 L79.31 642.83 L79.70 642.15 L80.43 641.54 L81.33 641.41 L82.33 641.64 L83.38 642.08 L84.42 642.62 L85.40 643.12 L86.31 643.64 L87.19 644.32 L88.07 645.07 L88.96 645.83 L89.87 646.54 L90.80 647.13 L91.87 647.60 L92.98 647.94 L94.11 648.23 L95.25 648.53 L96.38 648.92 L97.50 649.45 L98.62 650.16 L99.74 650.97 L100.86 651.86 L101.97 652.78 L103.09 653.69 L104.20 654.56 L105.32 655.43 L106.43 656.31 L107.55 657.19 L108.66 658.04 L109.78 658.85 L110.90 659.61 L112.01 660.28 L113.13 660.90 L114.25 661.49 L115.37 662.07 L116.48 662.66 L117.60 663.27 L118.72 663.90 L119.84 664.52 L120.96 665.15 L122.07 665.79 L123.19 666.45 L124.30 667.14 L125.46 667.89 L126.64 668.66 L127.82 669.44 L128.98 670.22 L130.08 670.99 L131.10 671.72 L131.83 672.29 L132.51 672.85 L133.15 673.40 L133.78 673.94 L134.42 674.46 L135.10 674.97 L135.85 675.48 L136.62 675.98 L137.40 676.46 L138.19 676.92 L138.99 677.38 L139.80 677.83 L140.68 678.28 L141.58 678.71 L142.49 679.13 L143.40 679.56 L144.31 679.99 L145.20 680.45 L146.10 680.96 L146.98 681.48 L147.86 682.01 L148.73 682.53 L149.61 683.03 L150.50 683.49 L151.39 683.93 L152.29 684.36 L153.19 684.76 L154.09 685.15 L155.00 685.53 L155.90 685.89 L156.80 686.24 L157.70 686.57 L158.60 686.88 L159.50 687.19 L160.40 687.50 L161.30 687.79 L162.18 688.08 L163.05 688.36 L163.91 688.63 L164.79 688.89 L165.68 689.16 L166.60 689.42 L167.68 689.72 L168.80 690.02 L169.95 690.32 L171.10 690.60 L172.26 690.88 L173.40 691.15 L174.53 691.40 L175.67 691.64 L176.81 691.87 L177.93 692.10 L179.03 692.32 L180.10 692.53 L181.02 692.71 L181.91 692.89 L182.79 693.06 L183.65 693.23 L184.52 693.39 L185.40 693.55 L186.30 693.69 L187.20 693.83 L188.10 693.96 L189.01 694.09 L189.91 694.22 L190.80 694.35 L191.71 694.50 L192.61 694.64 L193.51 694.78 L194.41 694.92 L195.30 695.06 L196.20 695.19 L197.10 695.31 L198.00 695.44 L198.90 695.56 L199.80 695.67 L200.70 695.79 L201.60 695.89 L202.49 696.00 L203.37 696.10 L204.25 696.19 L205.13 696.28 L206.01 696.37 L206.90 696.46 L207.80 696.55 L208.70 696.63 L209.61 696.71 L210.51 696.79 L211.41 696.87 L212.30 696.94 L213.21 697.03 L214.11 697.11 L215.00 697.19 L215.89 697.27 L216.79 697.34 L217.70 697.41 L218.60 697.47 L219.52 697.52 L220.44 697.58 L221.36 697.63 L222.25 697.68 L223.10 697.72 L223.81 697.76 L224.49 697.80 L225.16 697.83 L225.82 697.86 L226.46 697.90 L227.10 697.93 L227.67 697.95 L228.21 697.97 L228.76 698.00 L229.30 698.02 L229.84 698.04 L230.40 698.07 L231.06 698.10 L231.73 698.13 L232.41 698.16 L233.10 698.20 L233.80 698.23 L234.50 698.26 L235.37 698.31 L236.26 698.35 L237.16 698.40 L238.06 698.44 L238.95 698.48 L239.80 698.51 L240.51 698.54 L241.18 698.56 L241.85 698.59 L242.52 698.61 L243.19 698.63 L243.90 698.65 L244.75 698.68 L245.64 698.71 L246.55 698.73 L247.46 698.75 L248.35 698.78 L249.20 698.80 L249.93 698.81 L250.65 698.83 L251.36 698.84 L252.04 698.85 L252.69 698.87 L253.30 698.88 L253.82 698.89 L254.30 698.90 L254.75 698.91 L255.18 698.93 L255.60 698.94 L256.00 698.95 L256.36 698.96 L256.69 698.96 L257.01 698.97 L257.32 698.98 L257.65 698.99 L258.00 699.00 L258.53 699.01 L259.13 699.02 L259.75 699.03 L260.35 699.05 L260.88 699.05 L261.30 699.06 L261.48 699.07 L261.62 699.07 L261.75 699.07 L261.86 699.07 L261.98 699.08 L262.10 699.08" stroke="#00ff00" stroke-width="1.3" fill="none" stroke-linejoin="round" stroke-dasharray="5 4.6"/>
</g>
<g clip-path="url(#clipf)">
<path d="M435.90 699.10 L435.96 697.01 L436.03 694.90 L436.09 692.79 L436.15 690.71 L436.22 688.67 L436.30 686.70 L436.33 684.99 L436.30 683.24 L436.27 681.53 L436.31 679.92 L436.47 678.49 L436.80 677.30 L437.11 676.71 L437.48 676.24 L437.90 675.83 L438.36 675.44 L438.83 675.05 L439.30 674.60 L439.90 673.97 L440.53 673.31 L441.18 672.63 L441.86 671.94 L442.57 671.26 L443.30 670.60 L444.14 669.91 L445.02 669.22 L445.93 668.55 L446.85 667.88 L447.78 667.23 L448.70 666.60 L449.58 666.00 L450.45 665.41 L451.33 664.83 L452.21 664.27 L453.10 663.72 L454.00 663.20 L454.89 662.71 L455.78 662.24 L456.68 661.79 L457.59 661.35 L458.49 660.92 L459.40 660.50 L460.30 660.09 L461.20 659.70 L462.10 659.32 L463.00 658.94 L463.90 658.57 L464.80 658.20 L465.68 657.84 L466.56 657.48 L467.45 657.13 L468.33 656.78 L469.21 656.44 L470.10 656.10 L470.99 655.76 L471.89 655.43 L472.79 655.10 L473.69 654.78 L474.59 654.48 L475.50 654.20 L476.40 653.95 L477.29 653.73 L478.20 653.52 L479.10 653.32 L480.00 653.12 L480.90 652.90 L481.80 652.67 L482.69 652.45 L483.58 652.22 L484.48 651.99 L485.38 651.75 L486.30 651.50 L487.30 651.23 L488.32 650.95 L489.36 650.66 L490.38 650.37 L491.37 650.09 L492.30 649.80 L493.01 649.57 L493.68 649.34 L494.32 649.12 L494.96 648.89 L495.61 648.65 L496.30 648.40 L497.15 648.09 L498.02 647.76 L498.91 647.41 L499.82 647.07 L500.75 646.73 L501.70 646.40 L502.77 646.05 L503.87 645.71 L505.00 645.37 L506.13 645.04 L507.27 644.71 L508.40 644.40 L509.51 644.10 L510.63 643.81 L511.74 643.53 L512.86 643.25 L513.98 642.97 L515.10 642.70 L516.23 642.43 L517.36 642.16 L518.50 641.90 L519.64 641.64 L520.77 641.37 L521.90 641.10 L523.02 640.82 L524.14 640.53 L525.25 640.23 L526.37 639.94 L527.48 639.66 L528.60 639.40 L529.71 639.17 L530.83 638.95 L531.95 638.75 L533.07 638.55 L534.19 638.33 L535.30 638.10 L536.42 637.84 L537.54 637.57 L538.65 637.28 L539.77 636.99 L540.88 636.69 L542.00 636.40 L543.13 636.11 L544.26 635.81 L545.40 635.50 L546.52 635.20 L547.63 634.90 L548.70 634.60 L549.66 634.33 L550.61 634.05 L551.55 633.77 L552.46 633.50 L553.32 633.24 L554.10 633.00 L554.59 632.84 L555.04 632.69 L555.45 632.55 L555.87 632.41 L556.31 632.26 L556.80 632.10 L557.58 631.86 L558.43 631.60 L559.34 631.33 L560.26 631.05 L561.19 630.78 L562.10 630.50 L563.00 630.22 L563.90 629.94 L564.80 629.66 L565.70 629.38 L566.60 629.09 L567.50 628.80 L568.40 628.50 L569.30 628.20 L570.20 627.89 L571.10 627.59 L572.00 627.29 L572.90 627.00 L573.80 626.72 L574.70 626.45 L575.60 626.19 L576.50 625.93 L577.40 625.67 L578.30 625.40 L579.19 625.14 L580.08 624.87 L580.98 624.61 L581.86 624.35 L582.74 624.08 L583.60 623.80 L584.39 623.53 L585.17 623.25 L585.93 622.96 L586.70 622.68 L587.48 622.39 L588.30 622.10 L589.27 621.77 L590.28 621.42 L591.32 621.07 L592.36 620.73 L593.39 620.40 L594.40 620.10 L595.32 619.85 L596.23 619.62 L597.13 619.41 L598.02 619.19 L598.91 618.96 L599.80 618.70 L600.69 618.39 L601.57 618.05 L602.45 617.69 L603.33 617.34 L604.21 617.00 L605.10 616.70 L605.99 616.44 L606.89 616.21 L607.79 615.99 L608.69 615.79 L609.60 615.59 L610.50 615.40 L611.39 615.21 L612.29 615.02 L613.18 614.84 L614.07 614.68 L614.98 614.53 L615.90 614.40 L616.88 614.28 L617.89 614.17 L618.90 614.09 L619.91 614.02 L620.92 613.99 L621.90 614.00 L622.82 614.04 L623.73 614.11 L624.63 614.21 L625.52 614.34 L626.41 614.50 L627.30 614.70 L628.21 614.96 L629.11 615.27 L630.01 615.62 L630.91 615.99 L631.80 616.35 L632.70 616.70" stroke="#00ffff" stroke-width="1.75" fill="none" stroke-linejoin="round" stroke-dasharray="1.7 3.7"/>
<path d="M435.50 699.10 L435.57 697.03 L435.64 694.96 L435.71 692.89 L435.77 690.82 L435.84 688.76 L435.90 686.70 L435.90 684.58 L435.83 682.36 L435.75 680.13 L435.74 678.03 L435.87 676.15 L436.20 674.60 L436.50 673.89 L436.85 673.29 L437.25 672.77 L437.69 672.29 L438.14 671.81 L438.60 671.30 L439.10 670.73 L439.62 670.17 L440.16 669.61 L440.73 669.06 L441.34 668.49 L442.00 667.90 L442.96 667.08 L444.01 666.22 L445.13 665.33 L446.30 664.46 L447.50 663.60 L448.70 662.80 L449.97 662.02 L451.28 661.28 L452.63 660.57 L453.98 659.87 L455.35 659.19 L456.70 658.50 L458.04 657.82 L459.39 657.15 L460.75 656.48 L462.10 655.82 L463.45 655.16 L464.80 654.50 L466.13 653.83 L467.46 653.15 L468.79 652.47 L470.12 651.79 L471.46 651.13 L472.80 650.50 L474.14 649.89 L475.48 649.30 L476.83 648.72 L478.19 648.16 L479.54 647.62 L480.90 647.10 L482.26 646.61 L483.64 646.13 L485.02 645.67 L486.38 645.23 L487.72 644.81 L489.00 644.40 L490.05 644.08 L491.05 643.77 L492.04 643.49 L493.01 643.20 L493.99 642.91 L495.00 642.60 L496.10 642.25 L497.21 641.89 L498.33 641.52 L499.46 641.15 L500.58 640.78 L501.70 640.40 L502.82 640.02 L503.94 639.64 L505.05 639.26 L506.17 638.88 L507.28 638.49 L508.40 638.10 L509.52 637.71 L510.64 637.33 L511.75 636.94 L512.87 636.55 L513.99 636.14 L515.10 635.70 L516.24 635.23 L517.38 634.74 L518.52 634.23 L519.65 633.70 L520.78 633.16 L521.90 632.60 L523.03 632.00 L524.15 631.37 L525.26 630.72 L526.37 630.06 L527.48 629.42 L528.60 628.80 L529.70 628.22 L530.80 627.65 L531.91 627.09 L533.02 626.54 L534.15 625.98 L535.30 625.40 L536.59 624.76 L537.92 624.11 L539.26 623.46 L540.61 622.79 L541.96 622.10 L543.30 621.40 L544.67 620.66 L546.05 619.91 L547.43 619.15 L548.79 618.36 L550.12 617.55 L551.40 616.70 L552.58 615.85 L553.71 614.96 L554.81 614.05 L555.90 613.13 L556.99 612.21 L558.10 611.30 L559.23 610.42 L560.38 609.56 L561.52 608.70 L562.65 607.83 L563.75 606.94 L564.80 606.00 L565.77 605.04 L566.69 604.05 L567.58 603.03 L568.45 602.00 L569.32 600.95 L570.20 599.90 L571.11 598.82 L572.02 597.73 L572.93 596.63 L573.83 595.52 L574.72 594.37 L575.60 593.20 L576.51 591.90 L577.40 590.56 L578.29 589.19 L579.17 587.81 L580.07 586.44 L581.00 585.10 L582.00 583.73 L583.06 582.29 L584.14 580.86 L585.19 579.52 L586.16 578.34 L587.00 577.40 L587.36 577.01 L587.66 576.66 L587.95 576.36 L588.24 576.10 L588.58 575.88 L589.00 575.70 L589.82 575.49 L590.82 575.34 L591.92 575.30 L593.05 575.38 L594.14 575.60 L595.10 576.00 L596.13 576.82 L597.06 577.97 L597.92 579.35 L598.74 580.86 L599.55 582.37 L600.40 583.80 L601.31 585.21 L602.21 586.64 L603.12 588.09 L604.02 589.55 L604.91 591.02 L605.80 592.50 L606.71 594.04 L607.62 595.58 L608.52 597.14 L609.42 598.72 L610.32 600.30 L611.20 601.90 L612.09 603.56 L612.98 605.25 L613.85 606.95 L614.72 608.65 L615.61 610.34 L616.50 612.00 L617.38 613.58 L618.26 615.14 L619.14 616.68 L620.04 618.23 L620.96 619.80 L621.90 621.40 L622.99 623.23 L624.14 625.12 L625.31 627.04 L626.47 628.94 L627.57 630.77 L628.60 632.50 L629.34 633.77 L630.04 634.97 L630.70 636.13 L631.35 637.28 L632.01 638.46 L632.70 639.70 L633.52 641.19 L634.37 642.74 L635.22 644.32 L636.08 645.92 L636.94 647.52 L637.80 649.10" stroke="#ff8000" stroke-width="1.3" fill="none" stroke-linejoin="round"/>
<path d="M435.90 697.50 L436.22 696.83 L436.53 696.17 L436.84 695.50 L437.16 694.83 L437.51 694.13 L437.90 693.40 L438.48 692.34 L439.11 691.17 L439.79 689.96 L440.50 688.77 L441.24 687.67 L442.00 686.70 L442.62 686.04 L443.27 685.47 L443.92 684.95 L444.60 684.45 L445.29 683.94 L446.00 683.40 L446.83 682.73 L447.70 682.03 L448.58 681.33 L449.48 680.63 L450.39 679.95 L451.30 679.30 L452.18 678.70 L453.08 678.13 L453.98 677.57 L454.88 677.03 L455.79 676.51 L456.70 676.00 L457.59 675.51 L458.49 675.04 L459.38 674.58 L460.29 674.13 L461.19 673.71 L462.10 673.30 L462.99 672.93 L463.89 672.58 L464.79 672.25 L465.70 671.93 L466.60 671.62 L467.50 671.30 L468.38 670.98 L469.26 670.67 L470.14 670.36 L471.03 670.06 L471.91 669.77 L472.80 669.50 L473.69 669.26 L474.59 669.03 L475.49 668.83 L476.40 668.62 L477.30 668.42 L478.20 668.20 L479.10 667.97 L480.00 667.75 L480.90 667.52 L481.80 667.28 L482.70 667.05 L483.60 666.80 L484.50 666.54 L485.39 666.28 L486.28 666.01 L487.18 665.74 L488.08 665.46 L489.00 665.20 L489.97 664.93 L490.94 664.68 L491.92 664.42 L492.92 664.16 L493.95 663.89 L495.00 663.60 L496.29 663.23 L497.64 662.83 L499.02 662.42 L500.41 662.01 L501.78 661.59 L503.10 661.20 L504.25 660.86 L505.38 660.52 L506.49 660.19 L507.59 659.86 L508.69 659.53 L509.80 659.20 L510.92 658.87 L512.04 658.55 L513.15 658.22 L514.27 657.89 L515.39 657.56 L516.50 657.20 L517.62 656.83 L518.74 656.45 L519.86 656.06 L520.98 655.65 L522.09 655.24 L523.20 654.80 L524.32 654.33 L525.44 653.83 L526.55 653.32 L527.67 652.80 L528.78 652.29 L529.90 651.80 L531.01 651.34 L532.13 650.90 L533.25 650.47 L534.37 650.03 L535.49 649.58 L536.60 649.10 L537.72 648.59 L538.85 648.07 L539.96 647.53 L541.08 646.97 L542.19 646.40 L543.30 645.80 L544.45 645.15 L545.60 644.45 L546.75 643.73 L547.89 643.02 L549.01 642.33 L550.10 641.70 L551.01 641.21 L551.88 640.75 L552.74 640.32 L553.61 639.89 L554.49 639.45 L555.40 639.00 L556.47 638.46 L557.57 637.89 L558.69 637.31 L559.82 636.75 L560.96 636.20 L562.10 635.70 L563.22 635.21 L564.35 634.71 L565.48 634.23 L566.62 633.81 L567.76 633.49 L568.90 633.30 L570.02 633.26 L571.16 633.32 L572.31 633.48 L573.44 633.70 L574.54 633.98 L575.60 634.30 L576.55 634.65 L577.46 635.06 L578.34 635.51 L579.22 636.00 L580.10 636.50 L581.00 637.00 L582.01 637.52 L583.04 638.05 L584.09 638.60 L585.11 639.17 L586.09 639.77 L587.00 640.40 L587.75 641.01 L588.44 641.65 L589.09 642.32 L589.72 643.00 L590.35 643.70 L591.00 644.40 L591.70 645.15 L592.40 645.92 L593.10 646.71 L593.79 647.50 L594.46 648.30 L595.10 649.10 L595.69 649.86 L596.25 650.62 L596.80 651.39 L597.34 652.17 L597.87 652.97 L598.40 653.80 L598.97 654.76 L599.52 655.76 L600.06 656.78 L600.61 657.82 L601.18 658.87 L601.80 659.90 L602.53 661.02 L603.33 662.15 L604.15 663.28 L604.97 664.41 L605.76 665.52 L606.50 666.60 L607.10 667.52 L607.66 668.41 L608.21 669.28 L608.74 670.16 L609.27 671.06 L609.80 672.00 L610.39 673.07 L611.00 674.18 L611.59 675.31 L612.17 676.45 L612.71 677.58 L613.20 678.70 L613.60 679.71 L613.95 680.71 L614.27 681.71 L614.57 682.71 L614.88 683.70 L615.20 684.70 L615.53 685.69 L615.86 686.67 L616.18 687.64 L616.51 688.63 L616.85 689.65 L617.20 690.70 L617.65 692.04 L618.15 693.50 L618.65 694.99 L619.14 696.43 L619.56 697.73 L619.90 698.80 L620.03 699.24 L620.14 699.63 L620.23 699.98 L620.32 700.32 L620.41 700.65 L620.50 701.00" stroke="#0000ff" stroke-width="1.3" fill="none" stroke-linejoin="round" stroke-dasharray="5.2 4.6"/>
<path d="M472.20 699.10 L472.98 698.14 L473.75 697.18 L474.52 696.22 L475.29 695.27 L476.08 694.32 L476.90 693.40 L477.75 692.49 L478.62 691.58 L479.50 690.69 L480.40 689.81 L481.30 688.95 L482.20 688.10 L483.07 687.28 L483.94 686.47 L484.81 685.68 L485.70 684.90 L486.62 684.14 L487.60 683.40 L488.77 682.61 L490.04 681.83 L491.34 681.07 L492.64 680.34 L493.88 679.65 L495.00 679.00 L495.73 678.56 L496.41 678.14 L497.05 677.74 L497.68 677.35 L498.32 676.97 L499.00 676.60 L499.75 676.18 L500.51 675.73 L501.28 675.29 L502.07 674.90 L502.88 674.59 L503.70 674.40 L504.58 674.33 L505.49 674.36 L506.42 674.48 L507.35 674.68 L508.25 674.95 L509.10 675.30 L509.94 675.77 L510.75 676.36 L511.52 677.03 L512.27 677.76 L513.03 678.53 L513.80 679.30 L514.70 680.22 L515.60 681.22 L516.50 682.25 L517.40 683.31 L518.30 684.37 L519.20 685.40 L520.08 686.39 L520.96 687.38 L521.84 688.36 L522.72 689.35 L523.60 690.36 L524.50 691.40 L525.58 692.64 L526.78 693.98 L527.98 695.34 L529.09 696.66 L530.00 697.83 L530.60 698.80 L530.74 699.13 L530.83 699.43 L530.88 699.70 L530.92 699.97 L530.95 700.23 L531.00 700.50" stroke="#ff0000" stroke-width="1.3" fill="none" stroke-linejoin="round"/>
<path d="M433.60 695.50 L433.63 694.05 L433.67 692.63 L433.71 691.22 L433.74 689.77 L433.77 688.27 L433.80 686.70 L433.83 684.63 L433.85 682.44 L433.86 680.18 L433.87 677.87 L433.89 675.57 L433.90 673.30 L433.92 671.07 L433.93 668.84 L433.94 666.60 L433.96 664.37 L433.98 662.14 L434.00 659.90 L434.03 657.64 L434.06 655.36 L434.10 653.08 L434.14 650.82 L434.17 648.58 L434.20 646.40 L434.22 644.39 L434.22 642.35 L434.23 640.34 L434.24 638.41 L434.26 636.61 L434.30 635.00 L434.34 634.07 L434.39 633.23 L434.45 632.45 L434.51 631.69 L434.56 630.92 L434.60 630.10 L434.63 629.13 L434.66 628.13 L434.67 627.12 L434.68 626.10 L434.69 625.09 L434.70 624.10 L434.70 623.18 L434.70 622.28 L434.70 621.38 L434.70 620.49 L434.70 619.60 L434.70 618.70 L434.71 617.80 L434.73 616.90 L434.75 616.00 L434.77 615.10 L434.79 614.20 L434.80 613.30 L434.80 612.41 L434.80 611.53 L434.79 610.65 L434.79 609.77 L434.79 608.89 L434.80 608.00 L434.82 607.10 L434.86 606.20 L434.90 605.30 L434.94 604.40 L434.98 603.50 L435.00 602.60 L435.01 601.70 L435.01 600.80 L435.00 599.90 L434.99 599.00 L434.99 598.10 L435.00 597.20 L435.02 596.31 L435.06 595.43 L435.10 594.55 L435.14 593.67 L435.18 592.79 L435.20 591.90 L435.21 591.00 L435.21 590.10 L435.20 589.20 L435.19 588.30 L435.19 587.40 L435.20 586.50 L435.22 585.60 L435.26 584.70 L435.30 583.80 L435.34 582.90 L435.38 582.00 L435.40 581.10 L435.41 580.20 L435.41 579.30 L435.41 578.40 L435.41 577.50 L435.40 576.60 L435.40 575.70 L435.40 574.81 L435.40 573.93 L435.39 573.05 L435.39 572.17 L435.39 571.29 L435.40 570.40 L435.41 569.45 L435.42 568.44 L435.43 567.42 L435.45 566.47 L435.47 565.64 L435.50 565.00 L435.51 564.81 L435.53 564.67 L435.55 564.55 L435.56 564.43 L435.58 564.28 L435.60 564.10 L435.65 563.51 L435.70 562.77 L435.76 561.91 L435.81 561.00 L435.86 560.08 L435.90 559.20 L435.93 558.32 L435.95 557.42 L435.96 556.52 L435.97 555.61 L435.98 554.70 L436.00 553.80 L436.03 552.90 L436.06 552.00 L436.10 551.10 L436.14 550.20 L436.17 549.30 L436.20 548.40 L436.22 547.52 L436.24 546.63 L436.26 545.75 L436.27 544.87 L436.28 543.99 L436.30 543.10 L436.29 542.19 L436.25 541.26 L436.21 540.33 L436.20 539.41 L436.25 538.50 L436.40 537.60 L436.67 536.70 L437.04 535.81 L437.48 534.94 L437.95 534.07 L438.44 533.19 L438.90 532.30 L439.39 531.21 L439.92 529.94 L440.46 528.67 L440.98 527.57 L441.47 526.78 L441.90 526.50 L442.18 526.68 L442.45 527.12 L442.69 527.76 L442.91 528.51 L443.11 529.28 L443.30 530.00 L443.50 530.86 L443.67 531.79 L443.81 532.76 L443.94 533.76 L444.07 534.74 L444.20 535.70 L444.34 536.61 L444.46 537.51 L444.59 538.41 L444.72 539.31 L444.86 540.21 L445.00 541.10 L445.16 541.99 L445.33 542.87 L445.50 543.75 L445.67 544.63 L445.84 545.51 L446.00 546.40 L446.14 547.30 L446.28 548.20 L446.41 549.10 L446.53 550.00 L446.66 550.90 L446.80 551.80 L446.94 552.70 L447.08 553.60 L447.23 554.50 L447.38 555.39 L447.53 556.30 L447.70 557.20 L447.88 558.13 L448.05 559.08 L448.24 560.03 L448.44 560.97 L448.66 561.89 L448.90 562.80 L449.16 563.64 L449.44 564.45 L449.74 565.26 L450.05 566.06 L450.37 566.87 L450.70 567.70 L451.06 568.61 L451.44 569.54 L451.82 570.47 L452.22 571.41 L452.61 572.36 L453.00 573.30 L453.39 574.26 L453.78 575.24 L454.16 576.21 L454.56 577.19 L454.97 578.15 L455.40 579.10 L455.85 580.02 L456.31 580.93 L456.78 581.83 L457.27 582.73 L457.78 583.61 L458.30 584.50 L458.85 585.40 L459.41 586.28 L459.99 587.17 L460.58 588.05 L461.18 588.92 L461.80 589.80 L462.45 590.71 L463.11 591.61 L463.78 592.52 L464.47 593.42 L465.18 594.31 L465.90 595.20 L466.67 596.12 L467.47 597.03 L468.28 597.94 L469.11 598.84 L469.95 599.73 L470.80 600.60 L471.67 601.46 L472.55 602.32 L473.44 603.16 L474.35 603.99 L475.27 604.81 L476.20 605.60 L477.14 606.37 L478.11 607.12 L479.09 607.85 L480.07 608.57 L481.04 609.29 L482.00 610.00 L482.89 610.68 L483.78 611.37 L484.65 612.05 L485.53 612.71 L486.41 613.37 L487.30 614.00 L488.19 614.60 L489.09 615.19 L489.99 615.77 L490.90 616.33 L491.80 616.87 L492.70 617.40 L493.53 617.88 L494.36 618.33 L495.18 618.76 L496.00 619.20 L496.84 619.64 L497.70 620.10 L498.67 620.63 L499.67 621.19 L500.68 621.76 L501.70 622.32 L502.71 622.87 L503.70 623.40 L504.61 623.87 L505.52 624.33 L506.41 624.77 L507.31 625.21 L508.20 625.65 L509.10 626.10 L510.00 626.55 L510.90 627.01 L511.80 627.47 L512.70 627.93 L513.60 628.37 L514.50 628.80 L515.38 629.20 L516.27 629.58 L517.15 629.96 L518.03 630.33 L518.92 630.71 L519.80 631.10 L520.70 631.52 L521.60 631.94 L522.50 632.38 L523.40 632.82 L524.30 633.26 L525.20 633.70 L526.10 634.15 L527.00 634.62 L527.89 635.09 L528.79 635.55 L529.69 635.99 L530.60 636.40 L531.49 636.77 L532.40 637.10 L533.30 637.42 L534.20 637.73 L535.11 638.05 L536.00 638.40 L536.89 638.78 L537.77 639.18 L538.65 639.58 L539.53 639.99 L540.41 640.40 L541.30 640.80 L542.19 641.19 L543.09 641.59 L543.99 641.97 L544.89 642.36 L545.80 642.73 L546.70 643.10 L547.60 643.45 L548.50 643.77 L549.40 644.09 L550.30 644.42 L551.20 644.75 L552.10 645.10 L553.00 645.48 L553.90 645.89 L554.80 646.31 L555.70 646.72 L556.60 647.12 L557.50 647.50 L558.38 647.84 L559.26 648.16 L560.15 648.47 L561.03 648.77 L561.92 649.08 L562.80 649.40 L563.70 649.74 L564.60 650.09 L565.50 650.45 L566.40 650.81 L567.30 651.16 L568.20 651.50 L569.10 651.82 L570.00 652.13 L570.91 652.43 L571.81 652.74 L572.71 653.06 L573.60 653.40 L574.49 653.78 L575.37 654.18 L576.25 654.59 L577.13 655.01 L578.01 655.42 L578.90 655.80 L579.79 656.16 L580.68 656.50 L581.57 656.83 L582.47 657.15 L583.38 657.47 L584.30 657.80 L585.30 658.15 L586.32 658.50 L587.35 658.85 L588.39 659.20 L589.41 659.55 L590.40 659.90 L591.31 660.22 L592.20 660.54 L593.08 660.86 L593.95 661.19 L594.83 661.53 L595.70 661.90 L596.60 662.31 L597.50 662.76 L598.40 663.22 L599.30 663.68 L600.20 664.15 L601.10 664.60 L602.00 665.04 L602.90 665.48 L603.80 665.92 L604.70 666.36 L605.60 666.78 L606.50 667.20 L607.38 667.59 L608.26 667.96 L609.14 668.33 L610.02 668.70 L610.91 669.09 L611.80 669.50 L612.76 669.97 L613.74 670.46 L614.71 670.98 L615.69 671.50 L616.65 672.05 L617.60 672.60 L618.52 673.17 L619.43 673.75 L620.33 674.34 L621.22 674.95 L622.11 675.57 L623.00 676.20 L623.91 676.85 L624.83 677.51 L625.74 678.18 L626.64 678.87 L627.53 679.57 L628.40 680.30 L629.26 681.05 L630.12 681.82 L630.96 682.60 L631.77 683.41 L632.56 684.24 L633.30 685.10 L633.98 685.98 L634.62 686.90 L635.22 687.85 L635.81 688.80 L636.40 689.76 L637.00 690.70" stroke="#800080" stroke-width="1.35" fill="none" stroke-linejoin="round" stroke-dasharray="1.3 4.2"/>
<path d="M429.90 622.70 L430.11 621.58 L430.32 620.47 L430.53 619.35 L430.75 618.23 L430.97 617.11 L431.20 616.00 L431.45 614.89 L431.71 613.79 L431.98 612.69 L432.25 611.58 L432.53 610.45 L432.80 609.30 L433.10 608.00 L433.41 606.65 L433.72 605.28 L434.02 603.91 L434.32 602.58 L434.60 601.30 L434.81 600.19 L434.99 599.07 L435.17 597.97 L435.36 596.93 L435.59 596.00 L435.90 595.20 L436.12 594.76 L436.35 594.35 L436.60 593.99 L436.88 593.68 L437.21 593.41 L437.60 593.20 L438.33 593.01 L439.23 592.98 L440.23 593.04 L441.28 593.18 L442.32 593.35 L443.30 593.50 L444.21 593.67 L445.09 593.88 L445.97 594.12 L446.86 594.37 L447.77 594.60 L448.70 594.80 L449.77 594.96 L450.88 595.08 L452.01 595.18 L453.15 595.28 L454.28 595.41 L455.40 595.60 L456.52 595.85 L457.64 596.15 L458.76 596.47 L459.87 596.81 L460.99 597.16 L462.10 597.50 L463.22 597.84 L464.33 598.20 L465.45 598.56 L466.56 598.92 L467.68 599.27 L468.80 599.60 L469.91 599.90 L471.03 600.18 L472.15 600.46 L473.27 600.73 L474.38 601.00 L475.50 601.30 L476.62 601.61 L477.74 601.92 L478.86 602.24 L479.97 602.58 L481.09 602.93 L482.20 603.30 L483.36 603.71 L484.54 604.15 L485.72 604.60 L486.88 605.07 L487.98 605.54 L489.00 606.00 L489.73 606.36 L490.41 606.73 L491.05 607.10 L491.68 607.47 L492.32 607.84 L493.00 608.20 L493.75 608.58 L494.52 608.95 L495.30 609.31 L496.09 609.67 L496.89 610.04 L497.70 610.40 L498.58 610.78 L499.48 611.14 L500.39 611.51 L501.30 611.88 L502.21 612.28 L503.10 612.70 L504.00 613.18 L504.88 613.68 L505.76 614.22 L506.63 614.75 L507.51 615.29 L508.40 615.80 L509.29 616.30 L510.19 616.79 L511.09 617.27 L511.99 617.75 L512.90 618.23 L513.80 618.70 L514.70 619.16 L515.60 619.61 L516.50 620.06 L517.40 620.51 L518.30 620.95 L519.20 621.40 L520.08 621.85 L520.95 622.29 L521.81 622.73 L522.69 623.18 L523.58 623.63 L524.50 624.10 L525.58 624.65 L526.70 625.21 L527.85 625.78 L529.00 626.36 L530.16 626.93 L531.30 627.50 L532.43 628.05 L533.57 628.61 L534.71 629.16 L535.83 629.71 L536.93 630.26 L538.00 630.80 L538.92 631.29 L539.81 631.78 L540.69 632.27 L541.55 632.75 L542.42 633.23 L543.30 633.70 L544.20 634.16 L545.10 634.60 L546.00 635.03 L546.91 635.47 L547.81 635.92 L548.70 636.40 L549.61 636.92 L550.51 637.46 L551.41 638.01 L552.31 638.57 L553.20 639.14 L554.10 639.70 L555.00 640.26 L555.90 640.83 L556.80 641.40 L557.70 641.97 L558.60 642.54 L559.50 643.10 L560.39 643.65 L561.27 644.20 L562.15 644.75 L563.03 645.30 L563.91 645.85 L564.80 646.40 L565.70 646.96 L566.60 647.51 L567.51 648.07 L568.41 648.63 L569.31 649.20 L570.20 649.80 L571.11 650.44 L572.01 651.11 L572.90 651.80 L573.79 652.49 L574.69 653.16 L575.60 653.80 L576.50 654.40 L577.42 654.99 L578.34 655.56 L579.26 656.12 L580.15 656.66 L581.00 657.20 L581.71 657.65 L582.39 658.10 L583.06 658.54 L583.72 658.97 L584.36 659.39 L585.00 659.80 L585.57 660.16 L586.11 660.49 L586.66 660.82 L587.20 661.16 L587.74 661.51 L588.30 661.90 L588.96 662.38 L589.63 662.89 L590.31 663.42 L591.00 663.98 L591.70 664.58 L592.40 665.20 L593.27 666.02 L594.16 666.92 L595.06 667.86 L595.96 668.81 L596.85 669.73 L597.70 670.60 L598.41 671.30 L599.08 671.96 L599.75 672.60 L600.42 673.24 L601.09 673.90 L601.80 674.60 L602.65 675.46 L603.54 676.37 L604.45 677.30 L605.36 678.23 L606.25 679.14 L607.10 680.00 L607.83 680.70 L608.55 681.36 L609.26 682.01 L609.94 682.66 L610.59 683.32 L611.20 684.00 L611.72 684.66 L612.20 685.33 L612.65 686.02 L613.08 686.71 L613.50 687.41 L613.90 688.10 L614.26 688.75 L614.59 689.39 L614.91 690.03 L615.22 690.69 L615.55 691.37 L615.90 692.10 L616.43 693.16 L617.03 694.34 L617.65 695.56 L618.25 696.77 L618.78 697.87 L619.20 698.80 L619.38 699.23 L619.52 699.62 L619.65 699.97 L619.76 700.31 L619.88 700.65 L620.00 701.00" stroke="#00ff00" stroke-width="1.3" fill="none" stroke-linejoin="round" stroke-dasharray="5 4.6"/>
</g>
<g clip-path="url(#clipg)">
<path d="M78.70 944.97 L78.95 944.96 L79.17 944.95 L79.40 944.94 L79.65 944.94 L79.94 944.93 L80.30 944.92 L80.72 944.91 L81.20 944.91 L81.71 944.90 L82.26 944.90 L82.83 944.89 L83.40 944.88 L84.12 944.88 L84.88 944.87 L85.66 944.85 L86.47 944.84 L87.28 944.83 L88.10 944.82 L88.96 944.81 L89.82 944.80 L90.70 944.78 L91.59 944.77 L92.49 944.76 L93.40 944.74 L94.28 944.73 L95.17 944.72 L96.08 944.71 L96.98 944.70 L97.89 944.69 L98.80 944.68 L99.70 944.67 L100.59 944.66 L101.49 944.64 L102.39 944.63 L103.30 944.62 L104.20 944.61 L105.10 944.60 L106.00 944.59 L106.90 944.58 L107.80 944.56 L108.70 944.55 L109.60 944.54 L110.48 944.53 L111.37 944.52 L112.25 944.51 L113.13 944.50 L114.02 944.49 L114.90 944.48 L115.80 944.47 L116.70 944.45 L117.60 944.44 L118.50 944.43 L119.40 944.41 L120.30 944.40 L121.20 944.39 L122.10 944.37 L122.99 944.36 L123.89 944.34 L124.80 944.33 L125.70 944.31 L126.59 944.30 L127.48 944.29 L128.38 944.28 L129.27 944.26 L130.18 944.25 L131.10 944.24 L132.08 944.23 L133.09 944.21 L134.10 944.20 L135.11 944.18 L136.11 944.17 L137.10 944.16 L138.02 944.14 L138.93 944.13 L139.82 944.12 L140.72 944.10 L141.61 944.09 L142.50 944.07 L143.39 944.06 L144.27 944.04 L145.15 944.02 L146.03 944.00 L146.91 943.99 L147.80 943.97 L148.70 943.95 L149.59 943.93 L150.49 943.92 L151.40 943.90 L152.30 943.88 L153.20 943.86 L154.10 943.85 L155.00 943.83 L155.90 943.81 L156.80 943.79 L157.70 943.77 L158.60 943.76 L159.50 943.74 L160.40 943.72 L161.30 943.70 L162.20 943.68 L163.10 943.67 L164.00 943.65 L164.89 943.63 L165.77 943.61 L166.65 943.59 L167.53 943.57 L168.42 943.55 L169.30 943.53 L170.20 943.51 L171.09 943.48 L171.99 943.46 L172.89 943.43 L173.79 943.41 L174.70 943.39 L175.60 943.37 L176.50 943.36 L177.40 943.35 L178.31 943.34 L179.21 943.33 L180.10 943.31 L180.99 943.29 L181.88 943.26 L182.76 943.24 L183.64 943.21 L184.52 943.18 L185.40 943.15 L186.30 943.12 L187.20 943.09 L188.10 943.05 L189.00 943.02 L189.90 942.99 L190.80 942.95 L191.70 942.92 L192.60 942.88 L193.50 942.84 L194.40 942.81 L195.30 942.77 L196.20 942.74 L197.10 942.70 L198.00 942.67 L198.90 942.64 L199.80 942.61 L200.70 942.57 L201.60 942.54 L202.48 942.50 L203.36 942.46 L204.23 942.42 L205.10 942.38 L205.99 942.34 L206.90 942.30 L207.89 942.26 L208.91 942.22 L209.95 942.18 L210.98 942.14 L212.00 942.09 L213.00 942.05 L213.92 942.00 L214.83 941.95 L215.72 941.90 L216.61 941.85 L217.50 941.80 L218.40 941.75 L219.28 941.70 L220.17 941.66 L221.06 941.62 L221.94 941.58 L222.82 941.54 L223.70 941.49 L224.61 941.42 L225.51 941.35 L226.40 941.28 L227.30 941.20 L228.20 941.12 L229.10 941.04 L230.00 940.96 L230.90 940.88 L231.80 940.80 L232.70 940.72 L233.60 940.63 L234.50 940.55 L235.38 940.47 L236.26 940.40 L237.14 940.32 L238.03 940.24 L238.91 940.16 L239.80 940.09 L240.70 940.01 L241.59 939.93 L242.50 939.86 L243.40 939.78 L244.30 939.70 L245.20 939.62 L246.10 939.53 L246.99 939.44 L247.88 939.35 L248.78 939.25 L249.68 939.15 L250.60 939.06 L251.58 938.97 L252.59 938.88 L253.60 938.79 L254.62 938.71 L255.62 938.61 L256.60 938.50 L257.52 938.39 L258.42 938.25 L259.31 938.11 L260.20 937.97 L261.09 937.84 L262.00 937.73 L262.89 937.64 L263.79 937.56 L264.69 937.50 L265.59 937.45 L266.50 937.41 L267.40 937.38 L268.28 937.37 L269.17 937.37 L270.05 937.39 L270.93 937.42 L271.82 937.45 L272.70 937.49 L273.60 937.52 L274.51 937.55 L275.42 937.58 L276.33 937.63 L277.22 937.70 L278.10 937.80 L279.04 937.94 L279.97 938.10 L280.89 938.28 L281.79 938.48 L282.66 938.68 L283.50 938.89 L284.35 939.12 L285.18 939.35 L285.98 939.59 L286.75 939.83 L287.49 940.06 L288.20 940.27 L288.84 940.45 L289.45 940.63 L290.04 940.80 L290.60 940.97 L291.12 941.13 L291.60 941.29 L292.02 941.45 L292.39 941.59 L292.73 941.74 L293.04 941.88 L293.32 942.01 L293.60 942.15 L293.86 942.28 L294.08 942.42 L294.29 942.54 L294.48 942.67 L294.68 942.78 L294.90 942.89 L295.12 942.98 L295.36 943.07 L295.59 943.16 L295.83 943.24 L296.07 943.31 L296.30 943.39 L296.52 943.45 L296.74 943.52 L296.95 943.58 L297.17 943.64 L297.38 943.70 L297.60 943.76" stroke="#00ffff" stroke-width="1.75" fill="none" stroke-linejoin="round" stroke-dasharray="1.7 3.7"/>
<path d="M77.10 945.00 L77.18 944.99 L77.26 944.98 L77.34 944.97 L77.42 944.96 L77.50 944.95 L77.60 944.94 L77.69 944.92 L77.75 944.91 L77.82 944.89 L77.93 944.88 L78.11 944.86 L78.40 944.84 L78.77 944.83 L79.22 944.82 L79.73 944.80 L80.27 944.79 L80.84 944.77 L81.40 944.76 L82.01 944.74 L82.63 944.72 L83.28 944.70 L83.95 944.68 L84.65 944.66 L85.40 944.63 L86.21 944.61 L87.07 944.59 L87.96 944.57 L88.89 944.55 L89.83 944.52 L90.80 944.50 L91.86 944.48 L92.96 944.45 L94.08 944.43 L95.22 944.40 L96.37 944.37 L97.50 944.35 L98.60 944.32 L99.70 944.29 L100.80 944.26 L101.91 944.24 L103.04 944.21 L104.20 944.18 L105.49 944.14 L106.81 944.10 L108.15 944.07 L109.50 944.03 L110.86 943.99 L112.20 943.95 L113.55 943.90 L114.90 943.85 L116.24 943.80 L117.59 943.75 L118.95 943.70 L120.30 943.65 L121.64 943.59 L122.98 943.54 L124.32 943.48 L125.67 943.43 L127.03 943.37 L128.40 943.31 L129.84 943.24 L131.32 943.18 L132.80 943.11 L134.27 943.03 L135.71 942.96 L137.10 942.89 L138.27 942.83 L139.40 942.76 L140.50 942.70 L141.60 942.64 L142.69 942.57 L143.80 942.50 L144.92 942.43 L146.03 942.36 L147.15 942.29 L148.27 942.21 L149.39 942.13 L150.50 942.05 L151.64 941.96 L152.80 941.87 L153.96 941.78 L155.10 941.68 L156.18 941.58 L157.20 941.49 L157.93 941.41 L158.61 941.34 L159.26 941.27 L159.90 941.20 L160.57 941.12 L161.30 941.04 L162.32 940.92 L163.42 940.79 L164.56 940.65 L165.72 940.50 L166.87 940.34 L168.00 940.18 L169.12 940.00 L170.24 939.82 L171.36 939.62 L172.47 939.41 L173.58 939.20 L174.70 938.98 L175.82 938.75 L176.94 938.52 L178.06 938.28 L179.18 938.03 L180.29 937.77 L181.40 937.49 L182.53 937.18 L183.65 936.85 L184.77 936.50 L185.88 936.13 L186.99 935.74 L188.10 935.33 L189.23 934.88 L190.00 934.80 L191.30 933.90 L192.62 933.01 L193.93 932.12 L195.23 931.22 L196.52 930.28 L197.80 929.30 L199.13 928.24 L200.45 927.16 L201.76 926.04 L203.05 924.87 L204.30 923.63 L205.50 922.30 L206.81 920.69 L208.10 918.97 L209.34 917.15 L210.51 915.28 L211.57 913.39 L212.50 911.50 L213.22 909.72 L213.80 907.89 L214.29 906.04 L214.73 904.20 L215.15 902.38 L215.60 900.60 L216.03 899.03 L216.45 897.50 L216.85 895.99 L217.24 894.48 L217.63 892.92 L218.00 891.30 L218.41 889.35 L218.81 887.33 L219.19 885.26 L219.56 883.16 L219.93 881.03 L220.30 878.90 L220.69 876.63 L221.08 874.33 L221.47 872.00 L221.85 869.66 L222.22 867.29 L222.60 864.90 L222.99 862.35 L223.37 859.76 L223.75 857.15 L224.13 854.53 L224.51 851.91 L224.90 849.30 L225.30 846.71 L225.71 844.13 L226.13 841.55 L226.54 838.97 L226.93 836.38 L227.30 833.80 L227.63 831.20 L227.93 828.56 L228.22 825.93 L228.50 823.32 L228.79 820.77 L229.10 818.30 L229.31 815.97 L229.43 813.43 L229.56 810.93 L229.79 808.73 L230.20 807.07 L230.90 806.20 L231.71 806.14 L232.75 806.48 L233.90 807.14 L235.04 808.04 L236.08 809.09 L236.90 810.20 L237.67 812.16 L238.06 814.63 L238.22 817.42 L238.25 820.38 L238.30 823.33 L238.50 826.10 L238.82 828.70 L239.17 831.28 L239.54 833.86 L239.90 836.44 L240.26 839.02 L240.60 841.60 L240.91 844.20 L241.20 846.80 L241.48 849.40 L241.77 852.00 L242.07 854.60 L242.40 857.20 L242.77 859.79 L243.16 862.37 L243.57 864.95 L243.99 867.53 L244.40 870.11 L244.80 872.70 L245.19 875.31 L245.57 877.93 L245.95 880.55 L246.33 883.16 L246.71 885.75 L247.10 888.30 L247.46 890.68 L247.80 893.03 L248.15 895.36 L248.51 897.67 L248.93 899.99 L249.40 902.30 L249.94 904.68 L250.52 907.10 L251.14 909.51 L251.81 911.88 L252.53 914.16 L253.30 916.30 L254.00 918.01 L254.73 919.64 L255.49 921.21 L256.30 922.72 L257.13 924.18 L258.00 925.60 L258.82 926.87 L259.66 928.10 L260.54 929.29 L261.44 930.44 L262.40 931.54 L263.40 932.60 L264.46 933.61 L265.58 934.57 L266.75 935.49 L267.94 936.37 L269.17 937.20 L270.40 938.00 L271.63 938.75 L272.87 939.47 L274.14 940.15 L275.44 940.78 L276.79 941.37 L278.20 941.90 L279.89 942.41 L281.67 942.83 L283.51 943.19 L285.38 943.52 L287.26 943.84 L289.10 944.20 L289.68 943.32 L290.33 943.41 L290.90 943.50 L291.33 943.57 L291.69 943.65 L292.01 943.71 L292.30 943.78 L292.59 943.84 L292.90 943.91 L293.24 943.97 L293.58 944.03 L293.91 944.08 L294.24 944.14 L294.57 944.19 L294.90 944.25 L295.35 944.33 L295.80 944.40 L296.25 944.48 L296.70 944.55 L297.15 944.61 L297.60 944.67" stroke="#ff8000" stroke-width="1.3" fill="none" stroke-linejoin="round"/>
<path d="M78.70 944.98 L78.93 944.96 L79.10 944.94 L79.28 944.92 L79.51 944.89 L79.83 944.87 L80.30 944.84 L80.71 944.83 L81.18 944.82 L81.70 944.81 L82.25 944.80 L82.82 944.78 L83.40 944.77 L84.11 944.75 L84.85 944.73 L85.63 944.71 L86.43 944.69 L87.26 944.67 L88.10 944.65 L88.93 944.63 L89.78 944.61 L90.65 944.60 L91.54 944.58 L92.46 944.56 L93.40 944.54 L94.47 944.52 L95.59 944.50 L96.74 944.48 L97.90 944.46 L99.06 944.43 L100.20 944.41 L101.32 944.38 L102.43 944.36 L103.54 944.33 L104.66 944.30 L105.77 944.27 L106.90 944.25 L108.01 944.22 L109.12 944.20 L110.24 944.17 L111.36 944.14 L112.48 944.12 L113.60 944.09 L114.71 944.07 L115.80 944.04 L116.90 944.01 L118.01 943.98 L119.14 943.95 L120.30 943.92 L121.60 943.89 L122.92 943.86 L124.27 943.82 L125.64 943.79 L127.02 943.76 L128.40 943.72 L129.84 943.69 L131.32 943.66 L132.81 943.63 L134.28 943.59 L135.72 943.56 L137.10 943.52 L138.28 943.49 L139.41 943.45 L140.52 943.41 L141.61 943.36 L142.70 943.32 L143.80 943.28 L144.92 943.23 L146.04 943.18 L147.15 943.12 L148.27 943.07 L149.38 943.01 L150.50 942.95 L151.62 942.89 L152.73 942.84 L153.85 942.78 L154.96 942.71 L156.08 942.65 L157.20 942.59 L158.33 942.52 L159.47 942.45 L160.60 942.38 L161.73 942.30 L162.87 942.22 L164.00 942.15 L165.13 942.07 L166.28 941.99 L167.43 941.90 L168.56 941.82 L169.65 941.73 L170.70 941.65 L171.53 941.58 L172.33 941.52 L173.11 941.46 L173.87 941.39 L174.63 941.33 L175.40 941.26 L176.18 941.18 L176.95 941.11 L177.71 941.03 L178.49 940.95 L179.28 940.86 L180.10 940.76 L181.16 940.62 L182.27 940.46 L183.40 940.29 L184.54 940.10 L185.68 939.90 L186.80 939.70 L187.93 939.48 L189.05 939.24 L190.00 938.50 L191.29 938.15 L192.56 937.82 L193.83 937.50 L195.12 937.15 L196.44 936.76 L197.80 936.30 L199.52 935.63 L201.31 934.86 L203.14 934.02 L204.99 933.17 L206.82 932.35 L208.60 931.60 L210.21 930.90 L211.81 930.13 L213.40 929.38 L214.96 928.75 L216.50 928.33 L218.00 928.20 L219.34 928.39 L220.65 928.81 L221.93 929.40 L223.19 930.11 L224.45 930.86 L225.70 931.60 L227.03 932.43 L228.34 933.37 L229.65 934.36 L230.94 935.35 L232.22 936.28 L233.50 937.10 L234.60 937.71 L235.69 938.25 L236.77 938.75 L237.84 939.22 L238.92 939.70 L240.00 940.20 L240.34 940.37 L240.90 940.57 L241.47 940.76 L242.05 940.95 L242.63 941.13 L243.20 941.29 L243.76 941.45 L244.32 941.60 L244.89 941.74 L245.45 941.88 L246.02 942.01 L246.60 942.15 L247.25 942.29 L247.89 942.44 L248.55 942.58 L249.21 942.71 L249.90 942.83 L250.60 942.95 L251.35 943.06 L252.12 943.17 L252.91 943.27 L253.71 943.37 L254.51 943.46 L255.30 943.54 L256.09 943.63 L256.88 943.71 L257.68 943.78 L258.47 943.86 L259.24 943.92 L260.00 943.99 L260.69 944.04 L261.36 944.09 L262.03 944.14 L262.69 944.19 L263.34 944.23 L264.00 944.28 L264.69 944.32 L265.38 944.37 L266.06 944.41 L266.74 944.45 L267.42 944.48 L268.10 944.52 L268.76 944.55 L269.41 944.59 L270.06 944.62 L270.72 944.65 L271.39 944.67 L272.10 944.70 L272.85 944.72 L273.63 944.74 L274.44 944.77 L275.25 944.78 L276.04 944.80 L276.80 944.82 L277.49 944.84 L278.16 944.85 L278.82 944.87 L279.47 944.88 L280.13 944.90 L280.80 944.91 L281.62 944.93 L282.52 944.94 L283.42 944.96 L284.27 944.97 L284.98 944.99 L285.50 944.99 L285.66 945.00 L285.77 945.00 L285.86 945.00 L285.94 945.01 L286.01 945.01 L286.10 945.01" stroke="#0000ff" stroke-width="1.3" fill="none" stroke-linejoin="round" stroke-dasharray="5.2 4.6"/>
<path d="M127.70 945.00 L128.48 944.99 L129.25 944.98 L130.02 944.97 L130.79 944.95 L131.59 944.94 L132.40 944.93 L133.16 944.92 L133.95 944.91 L134.75 944.90 L135.54 944.89 L136.33 944.88 L137.10 944.87 L137.78 944.86 L138.43 944.85 L139.07 944.84 L139.72 944.83 L140.39 944.82 L141.10 944.81 L141.83 944.80 L142.59 944.79 L143.37 944.78 L144.16 944.78 L144.98 944.77 L145.80 944.77 L146.67 944.76 L147.57 944.76 L148.49 944.77 L149.41 944.77 L150.32 944.78 L151.20 944.79 L152.25 944.80 L153.30 944.81 L154.33 944.83 L155.33 944.84 L156.29 944.86 L157.20 944.87 L157.95 944.89 L158.66 944.90 L159.34 944.91 L160.00 944.92 L160.65 944.93 L161.30 944.94 L162.02 944.95 L162.78 944.96 L163.52 944.97 L164.21 944.98 L164.82 944.99 L165.30 945.00 L165.48 945.00 L165.62 945.00 L165.75 945.00 L165.86 945.01 L165.98 945.01 L166.10 945.01" stroke="#ff0000" stroke-width="1.3" fill="none" stroke-linejoin="round"/>
<path d="M72.50 938.16 L72.55 937.86 L72.60 937.56 L72.66 937.23 L72.70 945.40 L72.70 944.42 L72.70 943.54 L72.70 942.67 L72.70 941.69 L72.70 940.50 L72.70 939.00 L72.72 929.83 L72.76 916.18 L72.82 899.50 L72.90 881.24 L72.99 862.86 L73.10 845.80 L73.09 828.44 L72.93 810.25 L72.78 791.93 L72.83 774.15 L73.25 757.61 L74.20 743.00 L75.17 733.74 L76.36 724.08 L77.70 714.95 L79.13 707.27 L80.59 701.98 L82.00 700.00 L83.48 702.20 L85.09 708.01 L86.73 716.21 L88.27 725.59 L89.60 734.93 L90.60 743.00 L91.18 749.68 L91.47 756.36 L91.57 763.00 L91.58 769.56 L91.59 776.01 L91.70 782.30 L91.87 787.80 L92.04 793.15 L92.22 798.41 L92.40 803.63 L92.59 808.84 L92.80 814.10 L93.01 819.46 L93.23 824.91 L93.45 830.35 L93.70 835.71 L93.98 840.89 L94.30 845.80 L94.60 849.58 L94.92 853.19 L95.26 856.67 L95.62 860.10 L96.00 863.52 L96.40 867.00 L96.80 870.55 L97.21 874.13 L97.64 877.71 L98.10 881.25 L98.61 884.73 L99.20 888.10 L99.79 891.08 L100.41 894.02 L101.08 896.90 L101.80 899.72 L102.57 902.45 L103.40 905.10 L104.18 907.37 L104.99 909.59 L105.85 911.74 L106.75 913.82 L107.70 915.85 L108.70 917.80 L109.64 919.53 L110.60 921.22 L111.60 922.86 L112.66 924.42 L113.79 925.91 L115.00 927.30 L116.25 928.54 L117.57 929.70 L118.95 930.77 L120.39 931.79 L121.91 932.76 L123.50 933.70 L125.43 934.71 L127.49 935.62 L129.65 936.48 L131.85 937.31 L134.05 938.14 L136.20 939.00 L137.12 938.78 L138.05 938.98 L138.99 939.17 L139.93 939.35 L140.87 939.53 L141.80 939.70 L142.71 939.86 L143.61 940.03 L144.50 940.18 L145.40 940.34 L146.30 940.48 L147.20 940.62 L148.08 940.74 L148.96 940.86 L149.85 940.97 L150.73 941.08 L151.62 941.19 L152.50 941.29 L153.40 941.40 L154.30 941.51 L155.19 941.62 L156.09 941.73 L156.99 941.82 L157.90 941.92 L158.79 942.00 L159.69 942.08 L160.60 942.15 L161.50 942.22 L162.40 942.29 L163.30 942.36 L164.20 942.44 L165.10 942.51 L166.00 942.58 L166.90 942.65 L167.80 942.72 L168.70 942.78 L169.58 942.84 L170.46 942.90 L171.34 942.95 L172.23 943.01 L173.11 943.06 L174.00 943.11 L174.90 943.16 L175.79 943.21 L176.69 943.25 L177.60 943.30 L178.50 943.34 L179.40 943.39 L180.30 943.43 L181.20 943.47 L182.10 943.51 L183.00 943.55 L183.90 943.59 L184.80 943.63 L185.68 943.66 L186.57 943.70 L187.45 943.73 L188.33 943.76 L189.21 943.80 L190.10 943.83 L190.99 943.86 L191.89 943.89 L192.79 943.92 L193.69 943.94 L194.60 943.97 L195.50 944.00 L196.40 944.02 L197.30 944.05 L198.20 944.07 L199.10 944.09 L200.00 944.11 L200.90 944.14 L201.80 944.16 L202.71 944.18 L203.61 944.20 L204.51 944.22 L205.41 944.24 L206.30 944.26 L207.19 944.28 L208.08 944.30 L208.96 944.32 L209.83 944.34 L210.71 944.36 L211.60 944.38 L212.50 944.40 L213.39 944.42 L214.29 944.44 L215.19 944.46 L216.09 944.48 L217.00 944.49 L217.89 944.51 L218.78 944.52 L219.68 944.53 L220.57 944.55 L221.48 944.56 L222.40 944.57 L223.38 944.59 L224.37 944.60 L225.38 944.61 L226.38 944.63 L227.39 944.64 L228.40 944.65 L229.42 944.66 L230.45 944.68 L231.49 944.69 L232.51 944.70 L233.52 944.71 L234.50 944.72 L235.42 944.73 L236.31 944.75 L237.18 944.76 L238.05 944.77 L238.92 944.78 L239.80 944.79 L240.69 944.80 L241.59 944.81 L242.49 944.82 L243.39 944.83 L244.30 944.84 L245.20 944.85 L246.10 944.86 L247.00 944.86 L247.90 944.87 L248.80 944.88 L249.70 944.89 L250.60 944.89 L251.50 944.90 L252.40 944.91 L253.30 944.92 L254.20 944.92 L255.10 944.93 L256.00 944.93 L256.88 944.94 L257.77 944.95 L258.65 944.95 L259.54 944.96 L260.42 944.96 L261.30 944.97 L262.26 944.97 L263.28 944.98 L264.30 944.98 L265.26 944.99 L266.08 944.99 L266.70 945.00 L266.92 945.00 L267.09 945.00 L267.23 945.00 L267.35 945.01 L267.46 945.01 L267.60 945.01" stroke="#800080" stroke-width="1.35" fill="none" stroke-linejoin="round" stroke-dasharray="1.3 4.2"/>
<path d="M72.60 930.51 L72.72 929.75 L72.83 928.94 L72.95 928.09 L73.07 927.19 L73.18 926.25 L73.30 925.26 L73.41 924.22 L73.53 923.12 L73.64 921.97 L73.75 920.75 L73.87 919.47 L74.00 918.12 L74.14 916.69 L74.28 915.17 L74.42 913.57 L74.58 911.89 L74.74 910.12 L74.90 908.26 L75.07 906.32 L75.24 904.29 L75.42 902.15 L75.61 899.90 L75.80 897.53 L76.00 895.04 L76.20 892.36 L76.40 889.48 L76.60 886.44 L76.82 883.31 L77.05 880.16 L77.30 877.09 L77.48 874.64 L77.63 872.10 L77.78 869.58 L77.99 867.20 L78.28 865.10 L78.70 863.44 L79.35 862.23 L80.15 861.63 L81.07 861.50 L82.04 861.67 L83.04 862.00 L84.00 862.31 L85.09 862.79 L86.21 863.56 L87.35 864.51 L88.51 865.54 L89.66 866.55 L90.80 867.45 L91.92 868.22 L93.04 868.95 L94.15 869.68 L95.27 870.40 L96.39 871.14 L97.50 871.93 L98.62 872.74 L99.74 873.57 L100.86 874.42 L101.97 875.28 L103.09 876.17 L104.20 877.09 L105.32 878.04 L106.44 879.01 L107.56 880.00 L108.67 881.01 L109.79 882.02 L110.90 883.03 L112.02 884.06 L113.14 885.10 L114.25 886.15 L115.37 887.19 L116.48 888.22 L117.60 889.23 L118.72 890.21 L119.84 891.14 L120.96 892.07 L122.08 893.01 L123.19 894.00 L124.30 895.04 L125.46 896.24 L126.64 897.53 L127.82 898.84 L128.97 900.10 L130.07 901.26 L131.10 902.25 L131.82 902.88 L132.51 903.42 L133.17 903.92 L133.81 904.40 L134.45 904.90 L135.10 905.46 L135.76 906.10 L136.41 906.76 L137.05 907.44 L137.70 908.12 L138.38 908.79 L139.10 909.42 L140.04 910.14 L141.05 910.83 L142.10 911.49 L143.16 912.16 L144.20 912.85 L145.20 913.57 L146.11 914.33 L146.98 915.11 L147.84 915.90 L148.70 916.68 L149.58 917.43 L150.50 918.12 L151.56 918.81 L152.66 919.46 L153.79 920.08 L154.94 920.68 L156.08 921.29 L157.20 921.91 L158.34 922.57 L159.48 923.24 L160.61 923.90 L161.74 924.55 L162.87 925.19 L164.00 925.80 L165.12 926.39 L166.24 926.97 L167.35 927.53 L168.47 928.08 L169.58 928.60 L170.70 929.11 L171.82 929.60 L172.93 930.07 L174.05 930.52 L175.17 930.96 L176.28 931.38 L177.40 931.80 L178.52 932.20 L179.63 932.60 L180.74 932.99 L181.86 933.35 L182.98 933.71 L184.10 934.03 L185.21 934.33 L186.33 934.61 L187.45 934.87 L188.57 935.12 L189.69 935.38 L190.80 935.64 L191.92 935.91 L193.04 936.19 L194.16 936.46 L195.27 936.73 L196.38 936.99 L197.50 937.24 L198.62 937.47 L199.73 937.71 L200.85 937.93 L201.96 938.15 L203.08 938.36 L204.20 938.57 L205.34 938.77 L206.50 938.97 L207.65 939.16 L208.80 939.35 L209.92 939.53 L211.00 939.70 L211.92 939.84 L212.81 939.98 L213.68 940.11 L214.55 940.23 L215.42 940.35 L216.30 940.47 L217.21 940.57 L218.14 940.68 L219.08 940.77 L220.00 940.87 L220.88 940.96 L221.70 941.05 L222.32 941.14 L222.88 941.22 L223.41 941.30 L223.94 941.38 L224.49 941.46 L225.10 941.54 L225.91 941.63 L226.77 941.71 L227.66 941.80 L228.58 941.88 L229.50 941.97 L230.40 942.05 L231.29 942.13 L232.17 942.21 L233.06 942.28 L233.95 942.36 L234.86 942.43 L235.80 942.50 L236.88 942.58 L237.99 942.65 L239.13 942.72 L240.27 942.80 L241.40 942.87 L242.50 942.95 L243.64 943.04 L244.76 943.14 L245.87 943.24 L246.97 943.33 L248.07 943.42 L249.20 943.50 L250.32 943.57 L251.45 943.63 L252.59 943.69 L253.73 943.75 L254.87 943.81 L256.00 943.86 L257.12 943.92 L258.24 943.97 L259.36 944.02 L260.47 944.07 L261.58 944.11 L262.70 944.16 L263.82 944.20 L264.94 944.24 L266.06 944.28 L267.18 944.31 L268.29 944.35 L269.40 944.38 L270.53 944.42 L271.65 944.45 L272.77 944.49 L273.88 944.52 L274.99 944.55 L276.10 944.58 L277.25 944.61 L278.43 944.64 L279.59 944.67 L280.73 944.69 L281.81 944.72 L282.80 944.74 L283.55 944.76 L284.25 944.78 L284.90 944.80 L285.53 944.81 L286.16 944.83 L286.80 944.84 L287.51 944.86 L288.23 944.88 L288.95 944.89 L289.65 944.91 L290.31 944.92 L290.90 944.93 L291.29 944.94 L291.64 944.94 L291.98 944.95 L292.30 944.96 L292.60 944.96 L292.90 944.97 L293.21 944.97 L293.51 944.98 L293.78 944.99 L294.05 945.00 L294.32 945.00 L294.60 945.01" stroke="#00ff00" stroke-width="1.3" fill="none" stroke-linejoin="round" stroke-dasharray="5 4.6"/>
</g>
<g clip-path="url(#cliph)">
<path d="M436.60 942.10 L436.85 941.42 L437.07 940.72 L437.30 940.02 L437.55 939.34 L437.84 938.69 L438.20 938.10 L438.62 937.59 L439.10 937.13 L439.61 936.71 L440.16 936.29 L440.73 935.87 L441.30 935.40 L442.02 934.78 L442.78 934.12 L443.56 933.44 L444.37 932.76 L445.18 932.07 L446.00 931.40 L446.86 930.70 L447.72 929.99 L448.60 929.28 L449.49 928.58 L450.39 927.92 L451.30 927.30 L452.18 926.76 L453.07 926.25 L453.98 925.78 L454.88 925.32 L455.79 924.86 L456.70 924.40 L457.60 923.94 L458.49 923.48 L459.39 923.02 L460.29 922.57 L461.20 922.13 L462.10 921.70 L463.00 921.28 L463.90 920.87 L464.80 920.46 L465.70 920.06 L466.60 919.68 L467.50 919.30 L468.38 918.95 L469.27 918.62 L470.15 918.29 L471.03 917.97 L471.92 917.64 L472.80 917.30 L473.70 916.93 L474.60 916.55 L475.50 916.16 L476.40 915.77 L477.30 915.38 L478.20 915.00 L479.10 914.62 L480.00 914.25 L480.89 913.87 L481.79 913.50 L482.70 913.14 L483.60 912.80 L484.49 912.48 L485.38 912.17 L486.28 911.87 L487.17 911.58 L488.08 911.29 L489.00 911.00 L489.98 910.69 L490.99 910.39 L492.00 910.09 L493.01 909.80 L494.01 909.50 L495.00 909.20 L495.92 908.92 L496.83 908.64 L497.72 908.36 L498.62 908.08 L499.51 907.80 L500.40 907.50 L501.29 907.19 L502.17 906.88 L503.05 906.56 L503.93 906.23 L504.81 905.91 L505.70 905.60 L506.60 905.29 L507.49 904.99 L508.39 904.69 L509.30 904.39 L510.20 904.09 L511.10 903.80 L512.00 903.51 L512.90 903.22 L513.80 902.94 L514.70 902.66 L515.60 902.38 L516.50 902.10 L517.40 901.83 L518.30 901.56 L519.20 901.29 L520.10 901.03 L521.00 900.77 L521.90 900.50 L522.79 900.24 L523.67 899.97 L524.55 899.71 L525.43 899.45 L526.32 899.18 L527.20 898.90 L528.10 898.60 L528.99 898.28 L529.89 897.96 L530.79 897.64 L531.69 897.35 L532.60 897.10 L533.50 896.91 L534.40 896.77 L535.30 896.65 L536.21 896.53 L537.11 896.39 L538.00 896.20 L538.89 895.95 L539.78 895.67 L540.66 895.37 L541.54 895.05 L542.42 894.72 L543.30 894.40 L544.20 894.08 L545.10 893.75 L546.00 893.41 L546.90 893.07 L547.80 892.74 L548.70 892.40 L549.60 892.06 L550.50 891.72 L551.40 891.38 L552.30 891.05 L553.20 890.72 L554.10 890.40 L555.00 890.10 L555.90 889.82 L556.80 889.55 L557.70 889.27 L558.60 888.99 L559.50 888.70 L560.38 888.39 L561.26 888.07 L562.13 887.75 L563.00 887.43 L563.89 887.11 L564.80 886.80 L565.79 886.49 L566.81 886.19 L567.85 885.91 L568.88 885.61 L569.90 885.32 L570.90 885.00 L571.82 884.68 L572.73 884.34 L573.62 883.99 L574.51 883.65 L575.40 883.32 L576.30 883.00 L577.18 882.72 L578.07 882.47 L578.96 882.23 L579.84 881.98 L580.72 881.71 L581.60 881.40 L582.51 881.03 L583.41 880.63 L584.30 880.20 L585.20 879.76 L586.10 879.32 L587.00 878.90 L587.90 878.49 L588.80 878.08 L589.70 877.68 L590.60 877.28 L591.50 876.88 L592.40 876.50 L593.28 876.13 L594.16 875.77 L595.04 875.42 L595.93 875.08 L596.81 874.74 L597.70 874.40 L598.60 874.07 L599.49 873.76 L600.40 873.45 L601.30 873.14 L602.20 872.83 L603.10 872.50 L604.00 872.16 L604.89 871.80 L605.78 871.44 L606.68 871.09 L607.58 870.74 L608.50 870.40 L609.48 870.07 L610.49 869.77 L611.50 869.47 L612.52 869.17 L613.52 868.85 L614.50 868.50 L615.42 868.12 L616.32 867.69 L617.21 867.25 L618.10 866.82 L618.99 866.43 L619.90 866.10 L620.79 865.84 L621.69 865.62 L622.59 865.44 L623.49 865.29 L624.40 865.18 L625.30 865.10 L626.18 865.07 L627.07 865.08 L627.95 865.13 L628.83 865.21 L629.72 865.30 L630.60 865.40 L631.50 865.49 L632.41 865.57 L633.32 865.67 L634.23 865.81 L635.12 866.01 L636.00 866.30 L636.94 866.71 L637.87 867.21 L638.79 867.79 L639.69 868.42 L640.56 869.10 L641.40 869.80 L642.25 870.60 L643.08 871.47 L643.88 872.38 L644.65 873.33 L645.39 874.27 L646.10 875.20 L646.74 876.04 L647.35 876.87 L647.94 877.71 L648.50 878.56 L649.02 879.42 L649.50 880.30 L649.92 881.17 L650.29 882.05 L650.63 882.94 L650.94 883.85 L651.22 884.77 L651.50 885.70 L651.76 886.69 L651.98 887.71 L652.19 888.75 L652.38 889.78 L652.58 890.80 L652.80 891.80 L653.02 892.71 L653.26 893.60 L653.49 894.48 L653.73 895.36 L653.97 896.23 L654.20 897.10 L654.42 897.94 L654.64 898.78 L654.85 899.61 L655.07 900.44 L655.28 901.27 L655.50 902.10" stroke="#00ffff" stroke-width="1.75" fill="none" stroke-linejoin="round" stroke-dasharray="1.7 3.7"/>
<path d="M435.00 945.10 L435.08 944.16 L435.16 943.22 L435.24 942.28 L435.32 941.33 L435.40 940.38 L435.50 939.40 L435.59 938.30 L435.65 937.15 L435.72 935.98 L435.83 934.83 L436.01 933.73 L436.30 932.70 L436.67 931.84 L437.12 931.04 L437.63 930.28 L438.17 929.53 L438.74 928.78 L439.30 928.00 L439.91 927.10 L440.53 926.18 L441.18 925.26 L441.85 924.34 L442.55 923.45 L443.30 922.60 L444.11 921.77 L444.97 920.98 L445.86 920.21 L446.79 919.46 L447.73 918.73 L448.70 918.00 L449.76 917.23 L450.86 916.48 L451.98 915.75 L453.12 915.02 L454.27 914.31 L455.40 913.60 L456.50 912.91 L457.60 912.24 L458.70 911.58 L459.81 910.93 L460.94 910.27 L462.10 909.60 L463.39 908.87 L464.71 908.15 L466.05 907.42 L467.40 906.69 L468.76 905.95 L470.10 905.20 L471.45 904.43 L472.80 903.64 L474.14 902.84 L475.49 902.05 L476.85 901.27 L478.20 900.50 L479.54 899.76 L480.88 899.04 L482.22 898.33 L483.57 897.62 L484.93 896.91 L486.30 896.20 L487.74 895.46 L489.22 894.71 L490.70 893.96 L492.17 893.22 L493.61 892.50 L495.00 891.80 L496.17 891.21 L497.30 890.63 L498.40 890.07 L499.50 889.52 L500.59 888.96 L501.70 888.40 L502.82 887.84 L503.93 887.27 L505.05 886.71 L506.17 886.15 L507.29 885.58 L508.40 885.00 L509.54 884.40 L510.70 883.79 L511.86 883.18 L513.00 882.57 L514.08 881.97 L515.10 881.40 L515.83 880.97 L516.51 880.57 L517.16 880.17 L517.80 879.77 L518.47 879.35 L519.20 878.90 L520.22 878.28 L521.32 877.63 L522.46 876.94 L523.62 876.24 L524.77 875.52 L525.90 874.80 L527.02 874.05 L528.14 873.27 L529.26 872.48 L530.37 871.69 L531.48 870.89 L532.60 870.10 L533.72 869.32 L534.84 868.55 L535.96 867.78 L537.08 867.01 L538.19 866.22 L539.30 865.40 L540.43 864.54 L541.55 863.66 L542.67 862.77 L543.78 861.86 L544.89 860.93 L546.00 860.00 L547.13 859.03 L548.25 858.05 L549.37 857.06 L550.48 856.05 L551.59 855.03 L552.70 854.00 L553.85 852.92 L555.02 851.82 L556.18 850.71 L557.33 849.59 L558.44 848.45 L559.50 847.30 L560.45 846.19 L561.35 845.08 L562.22 843.95 L563.08 842.81 L563.93 841.66 L564.80 840.50 L565.71 839.32 L566.62 838.14 L567.53 836.95 L568.43 835.74 L569.33 834.49 L570.20 833.20 L571.13 831.72 L572.05 830.17 L572.95 828.58 L573.84 826.98 L574.72 825.37 L575.60 823.80 L576.45 822.27 L577.30 820.72 L578.14 819.17 L578.97 817.66 L579.79 816.19 L580.60 814.80 L581.26 813.71 L581.90 812.66 L582.54 811.66 L583.18 810.68 L583.83 809.69 L584.50 808.70 L585.18 807.60 L585.85 806.40 L586.53 805.20 L587.25 804.11 L588.03 803.21 L588.90 802.60 L589.78 802.31 L590.77 802.18 L591.80 802.20 L592.82 802.36 L593.78 802.63 L594.60 803.00 L595.26 803.49 L595.82 804.13 L596.31 804.87 L596.77 805.69 L597.22 806.55 L597.70 807.40 L598.31 808.47 L598.93 809.64 L599.55 810.86 L600.14 812.09 L600.69 813.29 L601.20 814.40 L601.55 815.22 L601.86 815.99 L602.14 816.73 L602.43 817.48 L602.74 818.26 L603.10 819.10 L603.67 820.32 L604.31 821.62 L604.99 822.97 L605.70 824.36 L606.41 825.74 L607.10 827.10 L607.78 828.45 L608.46 829.80 L609.15 831.15 L609.84 832.50 L610.52 833.85 L611.20 835.20 L611.86 836.54 L612.52 837.87 L613.17 839.21 L613.83 840.54 L614.50 841.87 L615.20 843.20 L615.95 844.56 L616.72 845.91 L617.51 847.26 L618.31 848.61 L619.11 849.95 L619.90 851.30 L620.68 852.65 L621.45 854.00 L622.23 855.36 L623.01 856.70 L623.80 858.01 L624.60 859.30 L625.37 860.48 L626.16 861.64 L626.96 862.77 L627.76 863.89 L628.54 865.00 L629.30 866.10 L630.00 867.11 L630.68 868.11 L631.36 869.09 L632.03 870.08 L632.67 871.08 L633.30 872.10 L633.90 873.16 L634.46 874.24 L635.01 875.33 L635.55 876.43 L636.11 877.52 L636.70 878.60 L637.34 879.68 L638.00 880.74 L638.67 881.80 L639.35 882.86 L640.03 883.92 L640.70 885.00 L641.37 886.12 L642.04 887.25 L642.70 888.39 L643.36 889.53 L644.03 890.67 L644.70 891.80 L645.40 892.92 L646.13 894.04 L646.87 895.16 L647.58 896.27 L648.23 897.39 L648.80 898.50 L649.23 899.50 L649.59 900.49 L649.91 901.48 L650.20 902.47 L650.49 903.48 L650.80 904.50 L651.14 905.57 L651.48 906.62 L651.81 907.68 L652.14 908.79 L652.47 909.95 L652.80 911.20 L653.25 913.09 L653.70 915.16 L654.15 917.34 L654.60 919.58 L655.05 921.82 L655.50 924.00" stroke="#ff8000" stroke-width="1.3" fill="none" stroke-linejoin="round"/>
<path d="M436.60 943.50 L436.83 941.63 L437.00 939.68 L437.18 937.73 L437.41 935.87 L437.73 934.16 L438.20 932.70 L438.61 931.88 L439.08 931.18 L439.60 930.56 L440.15 929.97 L440.72 929.36 L441.30 928.70 L442.01 927.83 L442.75 926.90 L443.53 925.96 L444.33 925.03 L445.16 924.13 L446.00 923.30 L446.83 922.56 L447.68 921.87 L448.55 921.21 L449.44 920.57 L450.36 919.93 L451.30 919.30 L452.37 918.61 L453.49 917.94 L454.64 917.28 L455.80 916.63 L456.96 915.97 L458.10 915.30 L459.22 914.61 L460.33 913.91 L461.44 913.21 L462.56 912.52 L463.67 911.84 L464.80 911.20 L465.91 910.61 L467.02 910.04 L468.14 909.50 L469.26 908.96 L470.38 908.43 L471.50 907.90 L472.61 907.37 L473.70 906.85 L474.80 906.33 L475.91 905.82 L477.04 905.31 L478.20 904.80 L479.50 904.25 L480.82 903.70 L482.17 903.16 L483.54 902.63 L484.92 902.10 L486.30 901.60 L487.74 901.11 L489.22 900.65 L490.71 900.21 L492.18 899.76 L493.62 899.29 L495.00 898.80 L496.18 898.33 L497.31 897.85 L498.42 897.35 L499.51 896.84 L500.60 896.33 L501.70 895.80 L502.82 895.25 L503.94 894.69 L505.05 894.12 L506.17 893.54 L507.28 892.97 L508.40 892.40 L509.52 891.85 L510.63 891.30 L511.75 890.75 L512.86 890.20 L513.98 889.65 L515.10 889.10 L516.23 888.54 L517.37 887.97 L518.50 887.40 L519.63 886.83 L520.77 886.26 L521.90 885.70 L523.03 885.14 L524.18 884.57 L525.33 884.01 L526.46 883.45 L527.55 882.91 L528.60 882.40 L529.43 882.00 L530.23 881.61 L531.01 881.24 L531.77 880.87 L532.53 880.49 L533.30 880.10 L534.08 879.69 L534.85 879.29 L535.61 878.88 L536.39 878.46 L537.18 878.00 L538.00 877.50 L539.06 876.82 L540.17 876.08 L541.30 875.29 L542.44 874.47 L543.58 873.63 L544.70 872.80 L545.83 871.94 L546.95 871.06 L548.07 870.17 L549.18 869.26 L550.29 868.33 L551.40 867.40 L552.53 866.43 L553.65 865.44 L554.76 864.44 L555.87 863.42 L556.99 862.41 L558.10 861.40 L559.22 860.37 L560.35 859.31 L561.48 858.26 L562.60 857.22 L563.71 856.23 L564.80 855.30 L565.72 854.55 L566.61 853.83 L567.50 853.13 L568.39 852.48 L569.28 851.87 L570.20 851.30 L571.09 850.77 L572.00 850.24 L572.92 849.75 L573.84 849.33 L574.74 849.04 L575.60 848.90 L576.30 848.92 L576.98 849.05 L577.65 849.27 L578.31 849.55 L578.96 849.86 L579.60 850.20 L580.30 850.61 L580.98 851.09 L581.66 851.62 L582.32 852.17 L582.97 852.74 L583.60 853.30 L584.20 853.83 L584.78 854.36 L585.36 854.90 L585.91 855.47 L586.46 856.06 L587.00 856.70 L587.61 857.50 L588.21 858.37 L588.80 859.29 L589.37 860.22 L589.91 861.13 L590.40 862.00 L590.78 862.70 L591.11 863.39 L591.42 864.06 L591.73 864.73 L592.05 865.41 L592.40 866.10 L592.82 866.87 L593.26 867.67 L593.71 868.46 L594.17 869.26 L594.64 870.04 L595.10 870.80 L595.53 871.48 L595.95 872.14 L596.38 872.78 L596.81 873.43 L597.25 874.10 L597.70 874.80 L598.24 875.66 L598.80 876.57 L599.37 877.50 L599.95 878.44 L600.53 879.38 L601.10 880.30 L601.66 881.20 L602.22 882.08 L602.79 882.96 L603.35 883.86 L603.92 884.76 L604.50 885.70 L605.15 886.77 L605.79 887.88 L606.45 889.01 L607.11 890.15 L607.80 891.28 L608.50 892.40 L609.25 893.53 L610.02 894.64 L610.81 895.76 L611.61 896.87 L612.41 897.98 L613.20 899.10 L613.99 900.23 L614.78 901.38 L615.58 902.52 L616.37 903.66 L617.14 904.79 L617.90 905.90 L618.59 906.91 L619.26 907.91 L619.93 908.90 L620.59 909.88 L621.24 910.88 L621.90 911.90 L622.59 912.99 L623.28 914.10 L623.96 915.22 L624.64 916.35 L625.32 917.48 L626.00 918.60 L626.66 919.72 L627.31 920.85 L627.96 921.98 L628.62 923.11 L629.29 924.22 L630.00 925.30 L630.75 926.35 L631.53 927.37 L632.34 928.38 L633.15 929.38 L633.94 930.38 L634.70 931.40 L635.39 932.39 L636.06 933.37 L636.72 934.35 L637.37 935.35 L638.03 936.36 L638.70 937.40 L639.52 938.64 L640.42 939.99 L641.32 941.36 L642.17 942.68 L642.88 943.85 L643.40 944.80 L643.56 945.14 L643.67 945.44 L643.76 945.71 L643.84 945.97 L643.91 946.23 L644.00 946.50" stroke="#0000ff" stroke-width="1.3" fill="none" stroke-linejoin="round" stroke-dasharray="5.2 4.6"/>
<path d="M485.60 945.10 L486.38 944.03 L487.15 942.94 L487.92 941.86 L488.69 940.79 L489.49 939.76 L490.30 938.80 L491.06 937.99 L491.85 937.23 L492.65 936.50 L493.44 935.79 L494.23 935.10 L495.00 934.40 L495.68 933.75 L496.33 933.09 L496.97 932.44 L497.62 931.82 L498.29 931.23 L499.00 930.70 L499.73 930.20 L500.49 929.72 L501.27 929.27 L502.06 928.88 L502.88 928.58 L503.70 928.40 L504.57 928.33 L505.47 928.37 L506.39 928.50 L507.31 928.71 L508.22 929.02 L509.10 929.40 L510.15 930.02 L511.20 930.83 L512.23 931.77 L513.23 932.77 L514.19 933.76 L515.10 934.70 L515.85 935.47 L516.56 936.24 L517.24 937.01 L517.90 937.78 L518.55 938.58 L519.20 939.40 L519.92 940.35 L520.68 941.38 L521.42 942.44 L522.11 943.45 L522.72 944.36 L523.20 945.10 L523.38 945.38 L523.52 945.63 L523.65 945.85 L523.76 946.07 L523.88 946.28 L524.00 946.50" stroke="#ff0000" stroke-width="1.3" fill="none" stroke-linejoin="round"/>
<path d="M430.40 867.40 L430.45 866.50 L430.50 865.60 L430.56 864.70 L430.61 863.80 L430.66 862.90 L430.70 862.00 L430.74 861.11 L430.77 860.23 L430.80 859.35 L430.83 858.47 L430.86 857.59 L430.90 856.70 L430.94 855.80 L430.99 854.90 L431.04 854.00 L431.10 853.10 L431.15 852.20 L431.20 851.30 L431.25 850.40 L431.30 849.50 L431.34 848.60 L431.39 847.70 L431.44 846.80 L431.50 845.90 L431.56 845.00 L431.63 844.10 L431.69 843.20 L431.76 842.30 L431.83 841.40 L431.90 840.50 L431.97 839.61 L432.04 838.73 L432.11 837.85 L432.18 836.97 L432.24 836.09 L432.30 835.20 L432.34 834.30 L432.38 833.40 L432.41 832.50 L432.43 831.60 L432.46 830.70 L432.50 829.80 L432.54 828.90 L432.59 828.00 L432.64 827.11 L432.69 826.21 L432.74 825.31 L432.80 824.40 L432.86 823.47 L432.93 822.54 L432.99 821.61 L433.06 820.68 L433.13 819.74 L433.20 818.80 L433.27 817.84 L433.35 816.86 L433.43 815.89 L433.50 814.92 L433.56 813.95 L433.60 813.00 L433.61 812.10 L433.61 811.22 L433.59 810.33 L433.57 809.46 L433.57 808.58 L433.60 807.70 L433.67 806.82 L433.77 805.93 L433.89 805.05 L434.01 804.17 L434.12 803.29 L434.20 802.40 L434.26 801.50 L434.29 800.60 L434.32 799.70 L434.34 798.80 L434.37 797.90 L434.40 797.00 L434.44 796.10 L434.49 795.20 L434.54 794.30 L434.60 793.40 L434.65 792.50 L434.70 791.60 L434.75 790.70 L434.80 789.80 L434.86 788.90 L434.91 788.00 L434.96 787.10 L435.00 786.20 L435.04 785.32 L435.07 784.44 L435.10 783.56 L435.13 782.68 L435.16 781.79 L435.20 780.90 L435.24 779.96 L435.29 779.01 L435.34 778.05 L435.40 777.09 L435.45 776.14 L435.50 775.20 L435.55 774.31 L435.59 773.43 L435.64 772.55 L435.69 771.67 L435.74 770.79 L435.80 769.90 L435.85 768.96 L435.87 768.00 L435.91 767.04 L435.97 766.08 L436.09 765.13 L436.30 764.20 L436.62 763.27 L437.03 762.36 L437.50 761.46 L438.00 760.58 L438.51 759.69 L439.00 758.80 L439.48 757.79 L439.99 756.63 L440.51 755.48 L441.01 754.47 L441.48 753.77 L441.90 753.50 L442.17 753.63 L442.43 753.96 L442.68 754.44 L442.91 755.01 L443.12 755.62 L443.30 756.20 L443.50 757.01 L443.64 757.91 L443.74 758.87 L443.82 759.86 L443.90 760.85 L444.00 761.80 L444.10 762.71 L444.20 763.61 L444.30 764.51 L444.40 765.41 L444.49 766.30 L444.60 767.20 L444.71 768.09 L444.83 768.97 L444.94 769.85 L445.06 770.73 L445.18 771.61 L445.30 772.50 L445.42 773.40 L445.54 774.30 L445.66 775.20 L445.77 776.10 L445.89 777.00 L446.00 777.90 L446.10 778.80 L446.20 779.70 L446.30 780.60 L446.40 781.50 L446.50 782.40 L446.60 783.30 L446.71 784.20 L446.82 785.10 L446.93 786.00 L447.04 786.89 L447.17 787.80 L447.30 788.70 L447.45 789.63 L447.61 790.56 L447.78 791.50 L447.95 792.44 L448.13 793.37 L448.30 794.30 L448.46 795.21 L448.61 796.11 L448.77 797.01 L448.93 797.91 L449.10 798.81 L449.30 799.70 L449.52 800.59 L449.76 801.47 L450.01 802.35 L450.27 803.23 L450.53 804.11 L450.80 805.00 L451.08 805.91 L451.36 806.83 L451.65 807.75 L451.94 808.67 L452.22 809.59 L452.50 810.50 L452.75 811.37 L452.98 812.24 L453.21 813.11 L453.44 813.98 L453.70 814.84 L454.00 815.70 L454.37 816.60 L454.78 817.50 L455.21 818.39 L455.66 819.29 L456.09 820.19 L456.50 821.10 L456.88 822.04 L457.23 823.00 L457.57 823.96 L457.92 824.92 L458.29 825.87 L458.70 826.80 L459.15 827.72 L459.63 828.63 L460.13 829.52 L460.65 830.42 L461.18 831.31 L461.70 832.20 L462.23 833.11 L462.76 834.01 L463.31 834.91 L463.86 835.81 L464.42 836.71 L465.00 837.60 L465.60 838.51 L466.22 839.41 L466.85 840.31 L467.49 841.20 L468.14 842.10 L468.80 843.00 L469.49 843.94 L470.19 844.88 L470.90 845.82 L471.62 846.75 L472.35 847.68 L473.10 848.60 L473.87 849.52 L474.64 850.44 L475.43 851.36 L476.24 852.26 L477.06 853.14 L477.90 854.00 L478.77 854.82 L479.66 855.61 L480.57 856.37 L481.48 857.14 L482.40 857.91 L483.30 858.70 L484.21 859.53 L485.11 860.38 L486.00 861.24 L486.90 862.10 L487.80 862.96 L488.70 863.80 L489.59 864.63 L490.48 865.47 L491.38 866.30 L492.27 867.12 L493.18 867.93 L494.10 868.70 L495.02 869.42 L495.95 870.12 L496.89 870.79 L497.83 871.46 L498.77 872.13 L499.70 872.80 L500.61 873.47 L501.51 874.15 L502.40 874.83 L503.30 875.50 L504.20 876.16 L505.10 876.80 L505.98 877.40 L506.86 877.99 L507.75 878.56 L508.63 879.13 L509.52 879.71 L510.40 880.30 L511.30 880.93 L512.20 881.57 L513.09 882.22 L513.99 882.86 L514.89 883.49 L515.80 884.10 L516.69 884.66 L517.59 885.19 L518.50 885.72 L519.40 886.23 L520.30 886.76 L521.20 887.30 L522.10 887.87 L523.00 888.46 L523.90 889.05 L524.80 889.64 L525.70 890.23 L526.60 890.80 L527.48 891.35 L528.36 891.89 L529.24 892.42 L530.13 892.95 L531.01 893.48 L531.90 894.00 L532.80 894.52 L533.69 895.04 L534.59 895.56 L535.50 896.07 L536.40 896.58 L537.30 897.10 L538.20 897.62 L539.10 898.14 L540.00 898.65 L540.90 899.17 L541.80 899.69 L542.70 900.20 L543.58 900.71 L544.47 901.21 L545.35 901.71 L546.23 902.21 L547.11 902.71 L548.00 903.20 L548.89 903.69 L549.79 904.18 L550.69 904.67 L551.59 905.15 L552.50 905.63 L553.40 906.10 L554.30 906.56 L555.20 907.01 L556.10 907.46 L557.00 907.91 L557.90 908.35 L558.80 908.80 L559.70 909.25 L560.61 909.69 L561.51 910.13 L562.41 910.57 L563.31 911.03 L564.20 911.50 L565.09 911.99 L565.98 912.51 L566.86 913.03 L567.73 913.55 L568.61 914.08 L569.50 914.60 L570.40 915.12 L571.29 915.65 L572.19 916.17 L573.09 916.69 L573.99 917.20 L574.90 917.70 L575.79 918.17 L576.68 918.62 L577.58 919.07 L578.47 919.51 L579.38 919.95 L580.30 920.40 L581.28 920.88 L582.27 921.36 L583.28 921.84 L584.28 922.33 L585.29 922.81 L586.30 923.30 L587.32 923.79 L588.35 924.27 L589.39 924.76 L590.41 925.25 L591.42 925.76 L592.40 926.30 L593.32 926.85 L594.21 927.43 L595.08 928.03 L595.95 928.63 L596.82 929.23 L597.70 929.80 L598.59 930.35 L599.49 930.89 L600.39 931.42 L601.29 931.95 L602.20 932.47 L603.10 933.00 L604.00 933.52 L604.90 934.04 L605.80 934.56 L606.70 935.07 L607.60 935.58 L608.50 936.10 L609.40 936.62 L610.30 937.15 L611.20 937.67 L612.10 938.19 L613.00 938.70 L613.90 939.20 L614.78 939.66 L615.67 940.11 L616.55 940.54 L617.44 940.98 L618.32 941.43 L619.20 941.90 L620.16 942.42 L621.18 942.96 L622.20 943.51 L623.16 944.06 L623.98 944.60 L624.60 945.10 L624.82 945.34 L624.99 945.58 L625.13 945.81 L625.25 946.04 L625.36 946.27 L625.50 946.50" stroke="#800080" stroke-width="1.35" fill="none" stroke-linejoin="round" stroke-dasharray="1.3 4.2"/>
<path d="M430.50 851.30 L430.62 850.18 L430.73 849.07 L430.85 847.95 L430.97 846.83 L431.08 845.72 L431.20 844.60 L431.31 843.48 L431.43 842.37 L431.54 841.25 L431.65 840.14 L431.77 839.02 L431.90 837.90 L432.04 836.77 L432.18 835.63 L432.32 834.50 L432.48 833.36 L432.64 832.23 L432.80 831.10 L432.97 829.98 L433.14 828.86 L433.32 827.74 L433.51 826.63 L433.70 825.51 L433.90 824.40 L434.10 823.26 L434.30 822.10 L434.50 820.94 L434.72 819.80 L434.95 818.71 L435.20 817.70 L435.38 816.93 L435.53 816.15 L435.68 815.41 L435.89 814.73 L436.18 814.15 L436.60 813.70 L437.25 813.38 L438.05 813.22 L438.97 813.19 L439.94 813.23 L440.94 813.32 L441.90 813.40 L442.99 813.53 L444.11 813.73 L445.25 813.99 L446.41 814.27 L447.56 814.55 L448.70 814.80 L449.82 815.02 L450.94 815.23 L452.05 815.44 L453.17 815.65 L454.29 815.87 L455.40 816.10 L456.52 816.35 L457.64 816.60 L458.76 816.86 L459.87 817.13 L460.99 817.41 L462.10 817.70 L463.22 818.01 L464.34 818.33 L465.46 818.66 L466.57 819.00 L467.69 819.35 L468.80 819.70 L469.92 820.07 L471.04 820.44 L472.15 820.83 L473.27 821.22 L474.38 821.61 L475.50 822.00 L476.62 822.38 L477.74 822.76 L478.86 823.14 L479.98 823.53 L481.09 823.95 L482.20 824.40 L483.36 824.93 L484.54 825.51 L485.72 826.12 L486.87 826.73 L487.97 827.30 L489.00 827.80 L489.72 828.12 L490.41 828.40 L491.07 828.66 L491.71 828.92 L492.35 829.20 L493.00 829.50 L493.66 829.85 L494.31 830.23 L494.95 830.62 L495.60 831.02 L496.28 831.41 L497.00 831.80 L497.94 832.24 L498.95 832.68 L500.00 833.10 L501.06 833.54 L502.10 834.00 L503.10 834.50 L504.01 835.03 L504.88 835.59 L505.74 836.17 L506.60 836.76 L507.48 837.34 L508.40 837.90 L509.46 838.47 L510.56 839.01 L511.69 839.54 L512.84 840.07 L513.98 840.62 L515.10 841.20 L516.24 841.83 L517.38 842.48 L518.51 843.15 L519.64 843.84 L520.77 844.52 L521.90 845.20 L523.02 845.88 L524.14 846.56 L525.25 847.25 L526.37 847.94 L527.48 848.62 L528.60 849.30 L529.72 849.97 L530.83 850.64 L531.95 851.31 L533.07 851.97 L534.18 852.63 L535.30 853.30 L536.42 853.97 L537.53 854.65 L538.64 855.33 L539.76 856.01 L540.88 856.66 L542.00 857.30 L543.11 857.89 L544.23 858.45 L545.35 859.00 L546.47 859.55 L547.59 860.11 L548.70 860.70 L549.82 861.34 L550.94 861.99 L552.06 862.67 L553.17 863.35 L554.28 864.03 L555.40 864.70 L556.52 865.37 L557.63 866.03 L558.75 866.70 L559.86 867.36 L560.98 868.03 L562.10 868.70 L563.24 869.38 L564.40 870.08 L565.55 870.77 L566.70 871.46 L567.82 872.14 L568.90 872.80 L569.82 873.37 L570.71 873.94 L571.58 874.49 L572.45 875.04 L573.32 875.58 L574.20 876.10 L575.11 876.60 L576.04 877.08 L576.98 877.55 L577.90 878.02 L578.78 878.50 L579.60 879.00 L580.22 879.44 L580.78 879.88 L581.31 880.33 L581.84 880.79 L582.39 881.24 L583.00 881.70 L583.81 882.25 L584.67 882.79 L585.56 883.34 L586.48 883.89 L587.40 884.45 L588.30 885.00 L589.19 885.56 L590.07 886.12 L590.96 886.68 L591.85 887.25 L592.76 887.82 L593.70 888.40 L594.78 889.03 L595.89 889.66 L597.03 890.28 L598.17 890.94 L599.30 891.64 L600.40 892.40 L601.54 893.32 L602.66 894.32 L603.77 895.38 L604.87 896.45 L605.97 897.50 L607.10 898.50 L608.22 899.42 L609.35 900.31 L610.49 901.18 L611.63 902.05 L612.77 902.92 L613.90 903.80 L615.02 904.69 L616.14 905.59 L617.26 906.49 L618.37 907.40 L619.48 908.30 L620.60 909.20 L621.72 910.09 L622.84 910.98 L623.96 911.87 L625.08 912.77 L626.19 913.67 L627.30 914.60 L628.43 915.57 L629.55 916.54 L630.67 917.54 L631.78 918.54 L632.89 919.56 L634.00 920.60 L635.15 921.69 L636.33 922.80 L637.49 923.94 L638.63 925.07 L639.71 926.20 L640.70 927.30 L641.45 928.21 L642.15 929.10 L642.80 929.99 L643.43 930.88 L644.06 931.78 L644.70 932.70 L645.41 933.71 L646.13 934.77 L646.85 935.83 L647.55 936.88 L648.21 937.88 L648.80 938.80 L649.19 939.40 L649.54 939.95 L649.88 940.47 L650.20 940.99 L650.50 941.52 L650.80 942.10 L651.11 942.79 L651.41 943.51 L651.68 944.25 L651.95 945.00 L652.22 945.76 L652.50 946.50" stroke="#00ff00" stroke-width="1.3" fill="none" stroke-linejoin="round" stroke-dasharray="5 4.6"/>
</g>
<path d="M66.88 207.20v-4.4M66.88 5.50v4.4M87.97 207.20v-2.4M87.97 5.50v2.4M109.05 207.20v-4.4M109.05 5.50v4.4M130.14 207.20v-2.4M130.14 5.50v2.4M151.22 207.20v-4.4M151.22 5.50v4.4M172.31 207.20v-2.4M172.31 5.50v2.4M193.39 207.20v-4.4M193.39 5.50v4.4M214.48 207.20v-2.4M214.48 5.50v2.4M235.56 207.20v-4.4M235.56 5.50v4.4M256.65 207.20v-2.4M256.65 5.50v2.4M277.73 207.20v-4.4M277.73 5.50v4.4M298.82 207.20v-2.4M298.82 5.50v2.4M45.80 187.03h2.4M319.90 187.03h-2.4M45.80 166.86h4.4M319.90 166.86h-4.4M45.80 146.69h2.4M319.90 146.69h-2.4M45.80 126.52h4.4M319.90 126.52h-4.4M45.80 106.35h2.4M319.90 106.35h-2.4M45.80 86.18h4.4M319.90 86.18h-4.4M45.80 66.01h2.4M319.90 66.01h-2.4M45.80 45.84h4.4M319.90 45.84h-4.4M45.80 25.67h2.4M319.90 25.67h-2.4" stroke="#222" stroke-width="1.05" fill="none"/>
<rect x="45.80" y="5.50" width="274.10" height="201.70" stroke="#1a1a1a" stroke-width="1.3" fill="none"/>
<text x="66.88" y="219.00" text-anchor="middle" class="tl">1.0</text>
<text x="109.05" y="219.00" text-anchor="middle" class="tl">1.2</text>
<text x="151.22" y="219.00" text-anchor="middle" class="tl">1.4</text>
<text x="193.39" y="219.00" text-anchor="middle" class="tl">1.6</text>
<text x="235.56" y="219.00" text-anchor="middle" class="tl">1.8</text>
<text x="277.73" y="219.00" text-anchor="middle" class="tl">2.0</text>
<text x="319.90" y="219.00" text-anchor="middle" class="tl">2.2</text>
<text x="41.80" y="210.00" text-anchor="end" class="tl">0</text>
<text x="41.80" y="169.66" text-anchor="end" class="tl">20</text>
<text x="41.80" y="129.32" text-anchor="end" class="tl">40</text>
<text x="41.80" y="88.98" text-anchor="end" class="tl">60</text>
<text x="41.80" y="48.64" text-anchor="end" class="tl">80</text>
<text x="41.80" y="8.30" text-anchor="end" class="tl">100</text>
<text x="154.20" y="241.90" class="xl"><tspan font-family='"Liberation Serif", serif'>ω</tspan> (GeV)</text>
<text transform="translate(12.90,111.25) rotate(-90)" text-anchor="middle" class="yl">dB/d<tspan font-family='"Liberation Serif", serif'>ω (10</tspan><tspan font-family='"Liberation Serif", serif' font-size="8" dy="-4.5">−5</tspan><tspan dy="4.5">GeV</tspan><tspan font-size="8" dy="-4.5">-1</tspan><tspan font-family='"Liberation Serif", serif' dy="4.5">)</tspan></text>
<rect x="219.5" y="10.5" width="95.10" height="23.00" stroke="#3a3a3a" stroke-width="1" fill="#fff"/>
<text x="222.70" y="26.90" font-family='"Liberation Serif", serif' font-weight="bold" font-size="15">(a)</text>
<text x="247.49" y="26.90" class="tt">B<tspan font-size="7.5" dy="4.3">s</tspan></text>
<path d="M259.49 24.00H268.89" stroke="#000" stroke-width="0.7" fill="none"/>
<path d="M266.09 21.00L269.49 24.00L266.09 27.00" stroke="#111" stroke-width="1.0" fill="none"/>
<text x="271.09" y="26.90" class="tt">J/<tspan font-family='"Liberation Serif", serif' font-size="11.8">Ψ</tspan><tspan font-family='"Liberation Serif", serif' font-size="11.8">K</tspan><tspan font-size="7" dy="-6.8" fill="#555" stroke="none">+</tspan><tspan font-family='"Liberation Serif", serif' font-size="11.8" dy="6.8">K</tspan><tspan font-size="7" dy="-6.8" fill="#555" stroke="none">−</tspan></text>
<rect x="250.2" y="36.4" width="62.30000000000001" height="117.69999999999999" stroke="#6a6a6a" stroke-width="1.1" fill="#fff"/>
<line x1="251.39999999999998" y1="43.60" x2="274.59999999999997" y2="43.60" stroke="#00ff00" stroke-width="1.4" stroke-dasharray="4.6 4.4"/>
<text x="276.90" y="47.00" class="lg">f<tspan font-size="6" dy="3.9">0</tspan><tspan dy="-3.9">(980)</tspan></text>
<line x1="251.39999999999998" y1="59.40" x2="274.59999999999997" y2="59.40" stroke="#800080" stroke-width="1.4" stroke-dasharray="1.3 4.1"/>
<text x="276.90" y="62.80" class="lg"><tspan font-family='"Liberation Serif", serif'>ϕ</tspan>(1020)</text>
<line x1="251.39999999999998" y1="71.70" x2="274.59999999999997" y2="71.70" stroke="#ff0000" stroke-width="1.4"/>
<text x="276.90" y="75.10" class="lg">f<tspan font-size="6" dy="3.9">2</tspan><tspan dy="-3.9">(1270)</tspan></text>
<line x1="251.39999999999998" y1="87.10" x2="274.59999999999997" y2="87.10" stroke="#0000ff" stroke-width="1.4" stroke-dasharray="4.6 4.4"/>
<text x="276.90" y="90.50" class="lg">f<tspan font-size="6" dy="3.9">0</tspan><tspan dy="-3.9">(1370)</tspan></text>
<line x1="251.39999999999998" y1="102.30" x2="274.59999999999997" y2="102.30" stroke="#ff8000" stroke-width="1.4"/>
<text x="276.90" y="105.70" class="lg">f<tspan font-size="6" dy="3.9">2</tspan><tspan dy="-3.9">(1525)</tspan></text>
<line x1="251.39999999999998" y1="117.50" x2="274.59999999999997" y2="117.50" stroke="#00ffff" stroke-width="1.9" stroke-dasharray="1.9 3.5"/>
<text x="276.90" y="120.90" class="lg"><tspan font-family='"Liberation Serif", serif'>ϕ</tspan>(1680)</text>
<line x1="251.39999999999998" y1="130.00" x2="274.59999999999997" y2="130.00" stroke="#8c1010" stroke-width="1.4"/>
<text x="276.90" y="133.40" class="lg">f<tspan font-size="6" dy="3.9">2</tspan><tspan dy="-3.9">(1750)</tspan></text>
<line x1="251.39999999999998" y1="145.60" x2="274.59999999999997" y2="145.60" stroke="#000000" stroke-width="1.4"/>
<text x="276.90" y="149.00" class="lg">f<tspan font-size="6" dy="3.9">2</tspan><tspan dy="-3.9">(1950)</tspan></text>
<path d="M424.78 207.20v-4.4M424.78 5.50v4.4M445.87 207.20v-2.4M445.87 5.50v2.4M466.95 207.20v-4.4M466.95 5.50v4.4M488.04 207.20v-2.4M488.04 5.50v2.4M509.12 207.20v-4.4M509.12 5.50v4.4M530.21 207.20v-2.4M530.21 5.50v2.4M551.29 207.20v-4.4M551.29 5.50v4.4M572.38 207.20v-2.4M572.38 5.50v2.4M593.46 207.20v-4.4M593.46 5.50v4.4M614.55 207.20v-2.4M614.55 5.50v2.4M635.63 207.20v-4.4M635.63 5.50v4.4M656.72 207.20v-2.4M656.72 5.50v2.4M403.70 195.06h2.4M677.80 195.06h-2.4M403.70 187.95h2.4M677.80 187.95h-2.4M403.70 182.91h2.4M677.80 182.91h-2.4M403.70 179.00h2.4M677.80 179.00h-2.4M403.70 175.81h2.4M677.80 175.81h-2.4M403.70 173.11h2.4M677.80 173.11h-2.4M403.70 170.77h2.4M677.80 170.77h-2.4M403.70 168.71h2.4M677.80 168.71h-2.4M403.70 166.86h4.4M677.80 166.86h-4.4M403.70 154.72h2.4M677.80 154.72h-2.4M403.70 147.61h2.4M677.80 147.61h-2.4M403.70 142.57h2.4M677.80 142.57h-2.4M403.70 138.66h2.4M677.80 138.66h-2.4M403.70 135.47h2.4M677.80 135.47h-2.4M403.70 132.77h2.4M677.80 132.77h-2.4M403.70 130.43h2.4M677.80 130.43h-2.4M403.70 128.37h2.4M677.80 128.37h-2.4M403.70 126.52h4.4M677.80 126.52h-4.4M403.70 114.38h2.4M677.80 114.38h-2.4M403.70 107.27h2.4M677.80 107.27h-2.4M403.70 102.23h2.4M677.80 102.23h-2.4M403.70 98.32h2.4M677.80 98.32h-2.4M403.70 95.13h2.4M677.80 95.13h-2.4M403.70 92.43h2.4M677.80 92.43h-2.4M403.70 90.09h2.4M677.80 90.09h-2.4M403.70 88.03h2.4M677.80 88.03h-2.4M403.70 86.18h4.4M677.80 86.18h-4.4M403.70 74.04h2.4M677.80 74.04h-2.4M403.70 66.93h2.4M677.80 66.93h-2.4M403.70 61.89h2.4M677.80 61.89h-2.4M403.70 57.98h2.4M677.80 57.98h-2.4M403.70 54.79h2.4M677.80 54.79h-2.4M403.70 52.09h2.4M677.80 52.09h-2.4M403.70 49.75h2.4M677.80 49.75h-2.4M403.70 47.69h2.4M677.80 47.69h-2.4M403.70 45.84h4.4M677.80 45.84h-4.4M403.70 33.70h2.4M677.80 33.70h-2.4M403.70 26.59h2.4M677.80 26.59h-2.4M403.70 21.55h2.4M677.80 21.55h-2.4M403.70 17.64h2.4M677.80 17.64h-2.4M403.70 14.45h2.4M677.80 14.45h-2.4M403.70 11.75h2.4M677.80 11.75h-2.4M403.70 9.41h2.4M677.80 9.41h-2.4M403.70 7.35h2.4M677.80 7.35h-2.4" stroke="#222" stroke-width="1.05" fill="none"/>
<rect x="403.70" y="5.50" width="274.10" height="201.70" stroke="#1a1a1a" stroke-width="1.3" fill="none"/>
<text x="424.78" y="219.00" text-anchor="middle" class="tl">1.0</text>
<text x="466.95" y="219.00" text-anchor="middle" class="tl">1.2</text>
<text x="509.12" y="219.00" text-anchor="middle" class="tl">1.4</text>
<text x="551.29" y="219.00" text-anchor="middle" class="tl">1.6</text>
<text x="593.46" y="219.00" text-anchor="middle" class="tl">1.8</text>
<text x="635.63" y="219.00" text-anchor="middle" class="tl">2.0</text>
<text x="677.80" y="219.00" text-anchor="middle" class="tl">2.2</text>
<text x="399.70" y="210.00" text-anchor="end" class="tl">0.01</text>
<text x="399.70" y="169.66" text-anchor="end" class="tl">0.1</text>
<text x="399.70" y="129.32" text-anchor="end" class="tl">1</text>
<text x="399.70" y="88.98" text-anchor="end" class="tl">10</text>
<text x="399.70" y="48.64" text-anchor="end" class="tl">100</text>
<text x="399.70" y="8.30" text-anchor="end" class="tl">1000</text>
<text x="512.10" y="241.90" class="xl"><tspan font-family='"Liberation Serif", serif'>ω</tspan> (GeV)</text>
<text transform="translate(364.20,111.25) rotate(-90)" text-anchor="middle" class="yl">dB/d<tspan font-family='"Liberation Serif", serif'>ω (10</tspan><tspan font-family='"Liberation Serif", serif' font-size="8" dy="-4.5">−5</tspan><tspan dy="4.5">GeV</tspan><tspan font-size="8" dy="-4.5">-1</tspan><tspan font-family='"Liberation Serif", serif' dy="4.5">)</tspan></text>
<rect x="576.4" y="9.5" width="95.70" height="22.90" stroke="#3a3a3a" stroke-width="1" fill="#fff"/>
<text x="579.60" y="25.90" font-family='"Liberation Serif", serif' font-weight="bold" font-size="15">(b)</text>
<text x="605.23" y="25.90" class="tt">B<tspan font-size="7.5" dy="4.3">s</tspan></text>
<path d="M617.23 23.00H626.63" stroke="#000" stroke-width="0.7" fill="none"/>
<path d="M623.83 20.00L627.23 23.00L623.83 26.00" stroke="#111" stroke-width="1.0" fill="none"/>
<text x="628.83" y="25.90" class="tt">J/<tspan font-family='"Liberation Serif", serif' font-size="11.8">Ψ</tspan><tspan font-family='"Liberation Serif", serif' font-size="11.8">K</tspan><tspan font-size="7" dy="-6.8" fill="#555" stroke="none">+</tspan><tspan font-family='"Liberation Serif", serif' font-size="11.8" dy="6.8">K</tspan><tspan font-size="7" dy="-6.8" fill="#555" stroke="none">−</tspan></text>
<path d="M66.88 453.20v-4.4M66.88 251.50v4.4M87.97 453.20v-2.4M87.97 251.50v2.4M109.05 453.20v-4.4M109.05 251.50v4.4M130.14 453.20v-2.4M130.14 251.50v2.4M151.22 453.20v-4.4M151.22 251.50v4.4M172.31 453.20v-2.4M172.31 251.50v2.4M193.39 453.20v-4.4M193.39 251.50v4.4M214.48 453.20v-2.4M214.48 251.50v2.4M235.56 453.20v-4.4M235.56 251.50v4.4M256.65 453.20v-2.4M256.65 251.50v2.4M277.73 453.20v-4.4M277.73 251.50v4.4M298.82 453.20v-2.4M298.82 251.50v2.4M45.80 419.58h2.4M319.90 419.58h-2.4M45.80 385.97h4.4M319.90 385.97h-4.4M45.80 352.35h2.4M319.90 352.35h-2.4M45.80 318.73h4.4M319.90 318.73h-4.4M45.80 285.12h2.4M319.90 285.12h-2.4" stroke="#222" stroke-width="1.05" fill="none"/>
<rect x="45.80" y="251.50" width="274.10" height="201.70" stroke="#1a1a1a" stroke-width="1.3" fill="none"/>
<text x="66.88" y="465.00" text-anchor="middle" class="tl">1.0</text>
<text x="109.05" y="465.00" text-anchor="middle" class="tl">1.2</text>
<text x="151.22" y="465.00" text-anchor="middle" class="tl">1.4</text>
<text x="193.39" y="465.00" text-anchor="middle" class="tl">1.6</text>
<text x="235.56" y="465.00" text-anchor="middle" class="tl">1.8</text>
<text x="277.73" y="465.00" text-anchor="middle" class="tl">2.0</text>
<text x="319.90" y="465.00" text-anchor="middle" class="tl">2.2</text>
<text x="41.80" y="456.00" text-anchor="end" class="tl">0</text>
<text x="41.80" y="388.77" text-anchor="end" class="tl">20</text>
<text x="41.80" y="321.53" text-anchor="end" class="tl">40</text>
<text x="41.80" y="254.30" text-anchor="end" class="tl">60</text>
<text x="154.20" y="487.90" class="xl"><tspan font-family='"Liberation Serif", serif'>ω</tspan> (GeV)</text>
<text transform="translate(18.50,357.25) rotate(-90)" text-anchor="middle" class="yl">dB/d<tspan font-family='"Liberation Serif", serif'>ω (10</tspan><tspan font-family='"Liberation Serif", serif' font-size="8" dy="-4.5">−5</tspan><tspan dy="4.5">GeV</tspan><tspan font-size="8" dy="-4.5">-1</tspan><tspan font-family='"Liberation Serif", serif' dy="4.5">)</tspan></text>
<rect x="229.3" y="256.2" width="85.50" height="22.20" stroke="#3a3a3a" stroke-width="1" fill="#fff"/>
<text x="232.50" y="272.60" font-family='"Liberation Serif", serif' font-weight="bold" font-size="15">(c)</text>
<text x="256.45" y="272.60" class="tt">B<tspan font-size="7.5" dy="4.3">s</tspan></text>
<path d="M268.45 269.70H277.85" stroke="#000" stroke-width="0.7" fill="none"/>
<path d="M275.05 266.70L278.45 269.70L275.05 272.70" stroke="#111" stroke-width="1.0" fill="none"/>
<text x="280.05" y="272.60" class="tt"><tspan font-family='"Liberation Serif", serif' font-size="11.8">η</tspan><tspan font-size="7.5" dy="4.3">c</tspan><tspan dy="-4.3" font-size="2"> </tspan><tspan font-family='"Liberation Serif", serif' font-size="11.8">K</tspan><tspan font-size="7" dy="-6.8" fill="#555" stroke="none">+</tspan><tspan font-family='"Liberation Serif", serif' font-size="11.8" dy="6.8">K</tspan><tspan font-size="7" dy="-6.8" fill="#555" stroke="none">−</tspan></text>
<rect x="252.5" y="282.5" width="61.30000000000001" height="116.19999999999999" stroke="#6a6a6a" stroke-width="1.1" fill="#fff"/>
<line x1="253.7" y1="288.50" x2="276.9" y2="288.50" stroke="#00ff00" stroke-width="1.4" stroke-dasharray="4.6 4.4"/>
<text x="279.20" y="291.90" class="lg">f<tspan font-size="6" dy="3.9">0</tspan><tspan dy="-3.9">(980)</tspan></text>
<line x1="253.7" y1="304.00" x2="276.9" y2="304.00" stroke="#800080" stroke-width="1.4" stroke-dasharray="1.3 4.1"/>
<text x="279.20" y="307.40" class="lg"><tspan font-family='"Liberation Serif", serif'>ϕ</tspan>(1020)</text>
<line x1="253.7" y1="316.20" x2="276.9" y2="316.20" stroke="#ff0000" stroke-width="1.4"/>
<text x="279.20" y="319.60" class="lg">f<tspan font-size="6" dy="3.9">2</tspan><tspan dy="-3.9">(1270)</tspan></text>
<line x1="253.7" y1="331.60" x2="276.9" y2="331.60" stroke="#0000ff" stroke-width="1.4" stroke-dasharray="4.6 4.4"/>
<text x="279.20" y="335.00" class="lg">f<tspan font-size="6" dy="3.9">0</tspan><tspan dy="-3.9">(1370)</tspan></text>
<line x1="253.7" y1="347.20" x2="276.9" y2="347.20" stroke="#ff8000" stroke-width="1.4"/>
<text x="279.20" y="350.60" class="lg">f<tspan font-size="6" dy="3.9">2</tspan><tspan dy="-3.9">(1525)</tspan></text>
<line x1="253.7" y1="362.20" x2="276.9" y2="362.20" stroke="#00ffff" stroke-width="1.9" stroke-dasharray="1.9 3.5"/>
<text x="279.20" y="365.60" class="lg"><tspan font-family='"Liberation Serif", serif'>ϕ</tspan>(1680)</text>
<line x1="253.7" y1="374.80" x2="276.9" y2="374.80" stroke="#8c1010" stroke-width="1.4"/>
<text x="279.20" y="378.20" class="lg">f<tspan font-size="6" dy="3.9">2</tspan><tspan dy="-3.9">(1750)</tspan></text>
<line x1="253.7" y1="390.10" x2="276.9" y2="390.10" stroke="#000000" stroke-width="1.4"/>
<text x="279.20" y="393.50" class="lg">f<tspan font-size="6" dy="3.9">2</tspan><tspan dy="-3.9">(1950)</tspan></text>
<path d="M424.78 453.20v-4.4M424.78 251.50v4.4M445.87 453.20v-2.4M445.87 251.50v2.4M466.95 453.20v-4.4M466.95 251.50v4.4M488.04 453.20v-2.4M488.04 251.50v2.4M509.12 453.20v-4.4M509.12 251.50v4.4M530.21 453.20v-2.4M530.21 251.50v2.4M551.29 453.20v-4.4M551.29 251.50v4.4M572.38 453.20v-2.4M572.38 251.50v2.4M593.46 453.20v-4.4M593.46 251.50v4.4M614.55 453.20v-2.4M614.55 251.50v2.4M635.63 453.20v-4.4M635.63 251.50v4.4M656.72 453.20v-2.4M656.72 251.50v2.4M403.70 441.06h2.4M677.80 441.06h-2.4M403.70 433.95h2.4M677.80 433.95h-2.4M403.70 428.91h2.4M677.80 428.91h-2.4M403.70 425.00h2.4M677.80 425.00h-2.4M403.70 421.81h2.4M677.80 421.81h-2.4M403.70 419.11h2.4M677.80 419.11h-2.4M403.70 416.77h2.4M677.80 416.77h-2.4M403.70 414.71h2.4M677.80 414.71h-2.4M403.70 412.86h4.4M677.80 412.86h-4.4M403.70 400.72h2.4M677.80 400.72h-2.4M403.70 393.61h2.4M677.80 393.61h-2.4M403.70 388.57h2.4M677.80 388.57h-2.4M403.70 384.66h2.4M677.80 384.66h-2.4M403.70 381.47h2.4M677.80 381.47h-2.4M403.70 378.77h2.4M677.80 378.77h-2.4M403.70 376.43h2.4M677.80 376.43h-2.4M403.70 374.37h2.4M677.80 374.37h-2.4M403.70 372.52h4.4M677.80 372.52h-4.4M403.70 360.38h2.4M677.80 360.38h-2.4M403.70 353.27h2.4M677.80 353.27h-2.4M403.70 348.23h2.4M677.80 348.23h-2.4M403.70 344.32h2.4M677.80 344.32h-2.4M403.70 341.13h2.4M677.80 341.13h-2.4M403.70 338.43h2.4M677.80 338.43h-2.4M403.70 336.09h2.4M677.80 336.09h-2.4M403.70 334.03h2.4M677.80 334.03h-2.4M403.70 332.18h4.4M677.80 332.18h-4.4M403.70 320.04h2.4M677.80 320.04h-2.4M403.70 312.93h2.4M677.80 312.93h-2.4M403.70 307.89h2.4M677.80 307.89h-2.4M403.70 303.98h2.4M677.80 303.98h-2.4M403.70 300.79h2.4M677.80 300.79h-2.4M403.70 298.09h2.4M677.80 298.09h-2.4M403.70 295.75h2.4M677.80 295.75h-2.4M403.70 293.69h2.4M677.80 293.69h-2.4M403.70 291.84h4.4M677.80 291.84h-4.4M403.70 279.70h2.4M677.80 279.70h-2.4M403.70 272.59h2.4M677.80 272.59h-2.4M403.70 267.55h2.4M677.80 267.55h-2.4M403.70 263.64h2.4M677.80 263.64h-2.4M403.70 260.45h2.4M677.80 260.45h-2.4M403.70 257.75h2.4M677.80 257.75h-2.4M403.70 255.41h2.4M677.80 255.41h-2.4M403.70 253.35h2.4M677.80 253.35h-2.4" stroke="#222" stroke-width="1.05" fill="none"/>
<rect x="403.70" y="251.50" width="274.10" height="201.70" stroke="#1a1a1a" stroke-width="1.3" fill="none"/>
<text x="424.78" y="465.00" text-anchor="middle" class="tl">1.0</text>
<text x="466.95" y="465.00" text-anchor="middle" class="tl">1.2</text>
<text x="509.12" y="465.00" text-anchor="middle" class="tl">1.4</text>
<text x="551.29" y="465.00" text-anchor="middle" class="tl">1.6</text>
<text x="593.46" y="465.00" text-anchor="middle" class="tl">1.8</text>
<text x="635.63" y="465.00" text-anchor="middle" class="tl">2.0</text>
<text x="677.80" y="465.00" text-anchor="middle" class="tl">2.2</text>
<text x="399.70" y="456.00" text-anchor="end" class="tl">0.01</text>
<text x="399.70" y="415.66" text-anchor="end" class="tl">0.1</text>
<text x="399.70" y="375.32" text-anchor="end" class="tl">1</text>
<text x="399.70" y="334.98" text-anchor="end" class="tl">10</text>
<text x="399.70" y="294.64" text-anchor="end" class="tl">100</text>
<text x="399.70" y="254.30" text-anchor="end" class="tl">1000</text>
<text x="512.10" y="487.90" class="xl"><tspan font-family='"Liberation Serif", serif'>ω</tspan> (GeV)</text>
<text transform="translate(364.20,357.25) rotate(-90)" text-anchor="middle" class="yl">dB/d<tspan font-family='"Liberation Serif", serif'>ω (10</tspan><tspan font-family='"Liberation Serif", serif' font-size="8" dy="-4.5">−5</tspan><tspan dy="4.5">GeV</tspan><tspan font-size="8" dy="-4.5">-1</tspan><tspan font-family='"Liberation Serif", serif' dy="4.5">)</tspan></text>
<rect x="587.4" y="255.5" width="86.10" height="23.10" stroke="#3a3a3a" stroke-width="1" fill="#fff"/>
<text x="590.60" y="271.90" font-family='"Liberation Serif", serif' font-weight="bold" font-size="15">(d)</text>
<text x="616.23" y="271.90" class="tt">B<tspan font-size="7.5" dy="4.3">s</tspan></text>
<path d="M628.23 269.00H637.63" stroke="#000" stroke-width="0.7" fill="none"/>
<path d="M634.83 266.00L638.23 269.00L634.83 272.00" stroke="#111" stroke-width="1.0" fill="none"/>
<text x="639.83" y="271.90" class="tt"><tspan font-family='"Liberation Serif", serif' font-size="11.8">η</tspan><tspan font-size="7.5" dy="4.3">c</tspan><tspan dy="-4.3" font-size="2"> </tspan><tspan font-family='"Liberation Serif", serif' font-size="11.8">K</tspan><tspan font-size="7" dy="-6.8" fill="#555" stroke="none">+</tspan><tspan font-family='"Liberation Serif", serif' font-size="11.8" dy="6.8">K</tspan><tspan font-size="7" dy="-6.8" fill="#555" stroke="none">−</tspan></text>
<path d="M76.26 699.20v-4.4M76.26 497.50v4.4M106.71 699.20v-2.4M106.71 497.50v2.4M137.17 699.20v-4.4M137.17 497.50v4.4M167.62 699.20v-2.4M167.62 497.50v2.4M198.08 699.20v-4.4M198.08 497.50v4.4M228.53 699.20v-2.4M228.53 497.50v2.4M258.99 699.20v-4.4M258.99 497.50v4.4M289.44 699.20v-2.4M289.44 497.50v2.4M45.80 665.58h2.4M319.90 665.58h-2.4M45.80 631.97h4.4M319.90 631.97h-4.4M45.80 598.35h2.4M319.90 598.35h-2.4M45.80 564.73h4.4M319.90 564.73h-4.4M45.80 531.12h2.4M319.90 531.12h-2.4" stroke="#222" stroke-width="1.05" fill="none"/>
<rect x="45.80" y="497.50" width="274.10" height="201.70" stroke="#1a1a1a" stroke-width="1.3" fill="none"/>
<text x="76.26" y="711.00" text-anchor="middle" class="tl">1.0</text>
<text x="137.17" y="711.00" text-anchor="middle" class="tl">1.2</text>
<text x="198.08" y="711.00" text-anchor="middle" class="tl">1.4</text>
<text x="258.99" y="711.00" text-anchor="middle" class="tl">1.6</text>
<text x="319.90" y="711.00" text-anchor="middle" class="tl">1.8</text>
<text x="41.80" y="702.00" text-anchor="end" class="tl">0</text>
<text x="41.80" y="634.77" text-anchor="end" class="tl">5</text>
<text x="41.80" y="567.53" text-anchor="end" class="tl">10</text>
<text x="41.80" y="500.30" text-anchor="end" class="tl">15</text>
<text x="154.20" y="733.90" class="xl"><tspan font-family='"Liberation Serif", serif'>ω</tspan> (GeV)</text>
<text transform="translate(18.20,603.25) rotate(-90)" text-anchor="middle" class="yl">dB/d<tspan font-family='"Liberation Serif", serif'>ω (10</tspan><tspan font-family='"Liberation Serif", serif' font-size="8" dy="-4.5">−5</tspan><tspan dy="4.5">GeV</tspan><tspan font-size="8" dy="-4.5">-1</tspan><tspan font-family='"Liberation Serif", serif' dy="4.5">)</tspan></text>
<rect x="207.3" y="501.4" width="110.00" height="22.40" stroke="#3a3a3a" stroke-width="1" fill="#fff"/>
<text x="210.50" y="517.80" font-family='"Liberation Serif", serif' font-weight="bold" font-size="15">(e)</text>
<text x="234.45" y="517.80" class="tt">B<tspan font-size="7.5" dy="4.3">s</tspan></text>
<path d="M246.45 514.90H255.85" stroke="#000" stroke-width="0.7" fill="none"/>
<path d="M253.05 511.90L256.45 514.90L253.05 517.90" stroke="#111" stroke-width="1.0" fill="none"/>
<text x="258.05" y="517.80" class="tt"><tspan font-family='"Liberation Serif", serif' font-size="11.8">Ψ</tspan>(2S)<tspan font-family='"Liberation Serif", serif' font-size="10">K</tspan><tspan font-size="7" dy="-6.8" fill="#555" stroke="none">+</tspan><tspan font-family='"Liberation Serif", serif' font-size="10" dy="6.8">K</tspan><tspan font-size="7" dy="-6.8" fill="#555" stroke="none">−</tspan></text>
<rect x="252.9" y="526.4" width="61.70000000000002" height="85.89999999999998" stroke="#6a6a6a" stroke-width="1.1" fill="#fff"/>
<line x1="254.1" y1="532.80" x2="277.3" y2="532.80" stroke="#00ff00" stroke-width="1.4" stroke-dasharray="4.6 4.4"/>
<text x="279.60" y="536.20" class="lg">f<tspan font-size="6" dy="3.9">0</tspan><tspan dy="-3.9">(980)</tspan></text>
<line x1="254.1" y1="548.50" x2="277.3" y2="548.50" stroke="#800080" stroke-width="1.4" stroke-dasharray="1.3 4.1"/>
<text x="279.60" y="551.90" class="lg"><tspan font-family='"Liberation Serif", serif'>ϕ</tspan>(1020)</text>
<line x1="254.1" y1="560.10" x2="277.3" y2="560.10" stroke="#ff0000" stroke-width="1.4"/>
<text x="279.60" y="563.50" class="lg">f<tspan font-size="6" dy="3.9">2</tspan><tspan dy="-3.9">(1270)</tspan></text>
<line x1="254.1" y1="575.70" x2="277.3" y2="575.70" stroke="#0000ff" stroke-width="1.4" stroke-dasharray="4.6 4.4"/>
<text x="279.60" y="579.10" class="lg">f<tspan font-size="6" dy="3.9">0</tspan><tspan dy="-3.9">(1370)</tspan></text>
<line x1="254.1" y1="591.20" x2="277.3" y2="591.20" stroke="#ff8000" stroke-width="1.4"/>
<text x="279.60" y="594.60" class="lg">f<tspan font-size="6" dy="3.9">2</tspan><tspan dy="-3.9">(1525)</tspan></text>
<line x1="254.1" y1="606.30" x2="277.3" y2="606.30" stroke="#00ffff" stroke-width="1.9" stroke-dasharray="1.9 3.5"/>
<text x="279.60" y="609.70" class="lg"><tspan font-family='"Liberation Serif", serif'>ϕ</tspan>(1680)</text>
<path d="M434.16 699.20v-4.4M434.16 497.50v4.4M464.61 699.20v-2.4M464.61 497.50v2.4M495.07 699.20v-4.4M495.07 497.50v4.4M525.52 699.20v-2.4M525.52 497.50v2.4M555.98 699.20v-4.4M555.98 497.50v4.4M586.43 699.20v-2.4M586.43 497.50v2.4M616.89 699.20v-4.4M616.89 497.50v4.4M647.34 699.20v-2.4M647.34 497.50v2.4M403.70 687.06h2.4M677.80 687.06h-2.4M403.70 679.95h2.4M677.80 679.95h-2.4M403.70 674.91h2.4M677.80 674.91h-2.4M403.70 671.00h2.4M677.80 671.00h-2.4M403.70 667.81h2.4M677.80 667.81h-2.4M403.70 665.11h2.4M677.80 665.11h-2.4M403.70 662.77h2.4M677.80 662.77h-2.4M403.70 660.71h2.4M677.80 660.71h-2.4M403.70 658.86h4.4M677.80 658.86h-4.4M403.70 646.72h2.4M677.80 646.72h-2.4M403.70 639.61h2.4M677.80 639.61h-2.4M403.70 634.57h2.4M677.80 634.57h-2.4M403.70 630.66h2.4M677.80 630.66h-2.4M403.70 627.47h2.4M677.80 627.47h-2.4M403.70 624.77h2.4M677.80 624.77h-2.4M403.70 622.43h2.4M677.80 622.43h-2.4M403.70 620.37h2.4M677.80 620.37h-2.4M403.70 618.52h4.4M677.80 618.52h-4.4M403.70 606.38h2.4M677.80 606.38h-2.4M403.70 599.27h2.4M677.80 599.27h-2.4M403.70 594.23h2.4M677.80 594.23h-2.4M403.70 590.32h2.4M677.80 590.32h-2.4M403.70 587.13h2.4M677.80 587.13h-2.4M403.70 584.43h2.4M677.80 584.43h-2.4M403.70 582.09h2.4M677.80 582.09h-2.4M403.70 580.03h2.4M677.80 580.03h-2.4M403.70 578.18h4.4M677.80 578.18h-4.4M403.70 566.04h2.4M677.80 566.04h-2.4M403.70 558.93h2.4M677.80 558.93h-2.4M403.70 553.89h2.4M677.80 553.89h-2.4M403.70 549.98h2.4M677.80 549.98h-2.4M403.70 546.79h2.4M677.80 546.79h-2.4M403.70 544.09h2.4M677.80 544.09h-2.4M403.70 541.75h2.4M677.80 541.75h-2.4M403.70 539.69h2.4M677.80 539.69h-2.4M403.70 537.84h4.4M677.80 537.84h-4.4M403.70 525.70h2.4M677.80 525.70h-2.4M403.70 518.59h2.4M677.80 518.59h-2.4M403.70 513.55h2.4M677.80 513.55h-2.4M403.70 509.64h2.4M677.80 509.64h-2.4M403.70 506.45h2.4M677.80 506.45h-2.4M403.70 503.75h2.4M677.80 503.75h-2.4M403.70 501.41h2.4M677.80 501.41h-2.4M403.70 499.35h2.4M677.80 499.35h-2.4" stroke="#222" stroke-width="1.05" fill="none"/>
<rect x="403.70" y="497.50" width="274.10" height="201.70" stroke="#1a1a1a" stroke-width="1.3" fill="none"/>
<text x="434.16" y="711.00" text-anchor="middle" class="tl">1.0</text>
<text x="495.07" y="711.00" text-anchor="middle" class="tl">1.2</text>
<text x="555.98" y="711.00" text-anchor="middle" class="tl">1.4</text>
<text x="616.89" y="711.00" text-anchor="middle" class="tl">1.6</text>
<text x="677.80" y="711.00" text-anchor="middle" class="tl">1.8</text>
<text x="399.70" y="702.00" text-anchor="end" class="tl">0.01</text>
<text x="399.70" y="661.66" text-anchor="end" class="tl">0.1</text>
<text x="399.70" y="621.32" text-anchor="end" class="tl">1</text>
<text x="399.70" y="580.98" text-anchor="end" class="tl">10</text>
<text x="399.70" y="540.64" text-anchor="end" class="tl">100</text>
<text x="399.70" y="500.30" text-anchor="end" class="tl">1000</text>
<text x="512.10" y="733.90" class="xl"><tspan font-family='"Liberation Serif", serif'>ω</tspan> (GeV)</text>
<text transform="translate(364.20,603.25) rotate(-90)" text-anchor="middle" class="yl">dB/d<tspan font-family='"Liberation Serif", serif'>ω (10</tspan><tspan font-family='"Liberation Serif", serif' font-size="8" dy="-4.5">−5</tspan><tspan dy="4.5">GeV</tspan><tspan font-size="8" dy="-4.5">-1</tspan><tspan font-family='"Liberation Serif", serif' dy="4.5">)</tspan></text>
<rect x="565.5" y="501.4" width="106.20" height="22.40" stroke="#3a3a3a" stroke-width="1" fill="#fff"/>
<text x="568.70" y="517.80" font-family='"Liberation Serif", serif' font-weight="bold" font-size="15">(f)</text>
<text x="590.99" y="517.80" class="tt">B<tspan font-size="7.5" dy="4.3">s</tspan></text>
<path d="M602.99 514.90H612.39" stroke="#000" stroke-width="0.7" fill="none"/>
<path d="M609.59 511.90L612.99 514.90L609.59 517.90" stroke="#111" stroke-width="1.0" fill="none"/>
<text x="614.59" y="517.80" class="tt"><tspan font-family='"Liberation Serif", serif' font-size="11.8">Ψ</tspan>(2S)<tspan font-family='"Liberation Serif", serif' font-size="10">K</tspan><tspan font-size="7" dy="-6.8" fill="#555" stroke="none">+</tspan><tspan font-family='"Liberation Serif", serif' font-size="10" dy="6.8">K</tspan><tspan font-size="7" dy="-6.8" fill="#555" stroke="none">−</tspan></text>
<path d="M76.26 945.20v-4.4M76.26 743.50v4.4M106.71 945.20v-2.4M106.71 743.50v2.4M137.17 945.20v-4.4M137.17 743.50v4.4M167.62 945.20v-2.4M167.62 743.50v2.4M198.08 945.20v-4.4M198.08 743.50v4.4M228.53 945.20v-2.4M228.53 743.50v2.4M258.99 945.20v-4.4M258.99 743.50v4.4M289.44 945.20v-2.4M289.44 743.50v2.4M45.80 894.78h2.4M319.90 894.78h-2.4M45.80 844.35h4.4M319.90 844.35h-4.4M45.80 793.92h2.4M319.90 793.92h-2.4" stroke="#222" stroke-width="1.05" fill="none"/>
<rect x="45.80" y="743.50" width="274.10" height="201.70" stroke="#1a1a1a" stroke-width="1.3" fill="none"/>
<text x="76.26" y="957.00" text-anchor="middle" class="tl">1.0</text>
<text x="137.17" y="957.00" text-anchor="middle" class="tl">1.2</text>
<text x="198.08" y="957.00" text-anchor="middle" class="tl">1.4</text>
<text x="258.99" y="957.00" text-anchor="middle" class="tl">1.6</text>
<text x="319.90" y="957.00" text-anchor="middle" class="tl">1.8</text>
<text x="41.80" y="948.00" text-anchor="end" class="tl">0</text>
<text x="41.80" y="847.15" text-anchor="end" class="tl">5</text>
<text x="41.80" y="746.30" text-anchor="end" class="tl">10</text>
<text x="154.20" y="979.90" class="xl"><tspan font-family='"Liberation Serif", serif'>ω</tspan> (GeV)</text>
<text transform="translate(18.20,849.25) rotate(-90)" text-anchor="middle" class="yl">dB/d<tspan font-family='"Liberation Serif", serif'>ω (10</tspan><tspan font-family='"Liberation Serif", serif' font-size="8" dy="-4.5">−5</tspan><tspan dy="4.5">GeV</tspan><tspan font-size="8" dy="-4.5">-1</tspan><tspan font-family='"Liberation Serif", serif' dy="4.5">)</tspan></text>
<rect x="207.7" y="748.8" width="109.10" height="22.60" stroke="#3a3a3a" stroke-width="1" fill="#fff"/>
<text x="210.90" y="765.20" font-family='"Liberation Serif", serif' font-weight="bold" font-size="15">(g)</text>
<text x="235.69" y="765.20" class="tt">B<tspan font-size="7.5" dy="4.3">s</tspan></text>
<path d="M247.69 762.30H257.09" stroke="#000" stroke-width="0.7" fill="none"/>
<path d="M254.29 759.30L257.69 762.30L254.29 765.30" stroke="#111" stroke-width="1.0" fill="none"/>
<text x="259.29" y="765.20" class="tt"><tspan font-family='"Liberation Serif", serif' font-size="11.8">η</tspan><tspan font-size="7.5" dy="4.3">c</tspan><tspan font-family='"Liberation Serif", serif' font-size="12.2" dy="-4.3">(2</tspan>S<tspan font-family='"Liberation Serif", serif' font-size="12.2">)</tspan><tspan font-family='"Liberation Serif", serif' font-size="11.8">K</tspan><tspan font-size="7" dy="-6.8" fill="#555" stroke="none">+</tspan><tspan font-family='"Liberation Serif", serif' font-size="11.8" dy="6.8">K</tspan><tspan font-size="7" dy="-6.8" fill="#555" stroke="none">−</tspan></text>
<rect x="253.5" y="774.7" width="62.0" height="86.29999999999995" stroke="#6a6a6a" stroke-width="1.1" fill="#fff"/>
<line x1="254.7" y1="781.60" x2="277.9" y2="781.60" stroke="#00ff00" stroke-width="1.4" stroke-dasharray="4.6 4.4"/>
<text x="280.20" y="785.00" class="lg">f<tspan font-size="6" dy="3.9">0</tspan><tspan dy="-3.9">(980)</tspan></text>
<line x1="254.7" y1="797.10" x2="277.9" y2="797.10" stroke="#800080" stroke-width="1.4" stroke-dasharray="1.3 4.1"/>
<text x="280.20" y="800.50" class="lg"><tspan font-family='"Liberation Serif", serif'>ϕ</tspan>(1020)</text>
<line x1="254.7" y1="809.00" x2="277.9" y2="809.00" stroke="#ff0000" stroke-width="1.4"/>
<text x="280.20" y="812.40" class="lg">f<tspan font-size="6" dy="3.9">2</tspan><tspan dy="-3.9">(1270)</tspan></text>
<line x1="254.7" y1="824.30" x2="277.9" y2="824.30" stroke="#0000ff" stroke-width="1.4" stroke-dasharray="4.6 4.4"/>
<text x="280.20" y="827.70" class="lg">f<tspan font-size="6" dy="3.9">0</tspan><tspan dy="-3.9">(1370)</tspan></text>
<line x1="254.7" y1="839.60" x2="277.9" y2="839.60" stroke="#ff8000" stroke-width="1.4"/>
<text x="280.20" y="843.00" class="lg">f<tspan font-size="6" dy="3.9">2</tspan><tspan dy="-3.9">(1525)</tspan></text>
<line x1="254.7" y1="855.30" x2="277.9" y2="855.30" stroke="#00ffff" stroke-width="1.9" stroke-dasharray="1.9 3.5"/>
<text x="280.20" y="858.70" class="lg"><tspan font-family='"Liberation Serif", serif'>ϕ</tspan>(1680)</text>
<path d="M434.16 945.20v-4.4M434.16 743.50v4.4M464.61 945.20v-2.4M464.61 743.50v2.4M495.07 945.20v-4.4M495.07 743.50v4.4M525.52 945.20v-2.4M525.52 743.50v2.4M555.98 945.20v-4.4M555.98 743.50v4.4M586.43 945.20v-2.4M586.43 743.50v2.4M616.89 945.20v-4.4M616.89 743.50v4.4M647.34 945.20v-2.4M647.34 743.50v2.4M403.70 930.02h2.4M677.80 930.02h-2.4M403.70 921.14h2.4M677.80 921.14h-2.4M403.70 914.84h2.4M677.80 914.84h-2.4M403.70 909.95h2.4M677.80 909.95h-2.4M403.70 905.96h2.4M677.80 905.96h-2.4M403.70 902.59h2.4M677.80 902.59h-2.4M403.70 899.66h2.4M677.80 899.66h-2.4M403.70 897.08h2.4M677.80 897.08h-2.4M403.70 894.78h4.4M677.80 894.78h-4.4M403.70 879.60h2.4M677.80 879.60h-2.4M403.70 870.72h2.4M677.80 870.72h-2.4M403.70 864.42h2.4M677.80 864.42h-2.4M403.70 859.53h2.4M677.80 859.53h-2.4M403.70 855.54h2.4M677.80 855.54h-2.4M403.70 852.16h2.4M677.80 852.16h-2.4M403.70 849.24h2.4M677.80 849.24h-2.4M403.70 846.66h2.4M677.80 846.66h-2.4M403.70 844.35h4.4M677.80 844.35h-4.4M403.70 829.17h2.4M677.80 829.17h-2.4M403.70 820.29h2.4M677.80 820.29h-2.4M403.70 813.99h2.4M677.80 813.99h-2.4M403.70 809.10h2.4M677.80 809.10h-2.4M403.70 805.11h2.4M677.80 805.11h-2.4M403.70 801.74h2.4M677.80 801.74h-2.4M403.70 798.81h2.4M677.80 798.81h-2.4M403.70 796.23h2.4M677.80 796.23h-2.4M403.70 793.92h4.4M677.80 793.92h-4.4M403.70 778.75h2.4M677.80 778.75h-2.4M403.70 769.87h2.4M677.80 769.87h-2.4M403.70 763.57h2.4M677.80 763.57h-2.4M403.70 758.68h2.4M677.80 758.68h-2.4M403.70 754.69h2.4M677.80 754.69h-2.4M403.70 751.31h2.4M677.80 751.31h-2.4M403.70 748.39h2.4M677.80 748.39h-2.4M403.70 745.81h2.4M677.80 745.81h-2.4" stroke="#222" stroke-width="1.05" fill="none"/>
<rect x="403.70" y="743.50" width="274.10" height="201.70" stroke="#1a1a1a" stroke-width="1.3" fill="none"/>
<text x="434.16" y="957.00" text-anchor="middle" class="tl">1.0</text>
<text x="495.07" y="957.00" text-anchor="middle" class="tl">1.2</text>
<text x="555.98" y="957.00" text-anchor="middle" class="tl">1.4</text>
<text x="616.89" y="957.00" text-anchor="middle" class="tl">1.6</text>
<text x="677.80" y="957.00" text-anchor="middle" class="tl">1.8</text>
<text x="399.70" y="948.00" text-anchor="end" class="tl">0.01</text>
<text x="399.70" y="897.58" text-anchor="end" class="tl">0.1</text>
<text x="399.70" y="847.15" text-anchor="end" class="tl">1</text>
<text x="399.70" y="796.72" text-anchor="end" class="tl">10</text>
<text x="399.70" y="746.30" text-anchor="end" class="tl">100</text>
<text x="512.10" y="979.90" class="xl"><tspan font-family='"Liberation Serif", serif'>ω</tspan> (GeV)</text>
<text transform="translate(367.50,849.25) rotate(-90)" text-anchor="middle" class="yl">dB/d<tspan font-family='"Liberation Serif", serif'>ω (10</tspan><tspan font-family='"Liberation Serif", serif' font-size="8" dy="-4.5">−5</tspan><tspan dy="4.5">GeV</tspan><tspan font-size="8" dy="-4.5">-1</tspan><tspan font-family='"Liberation Serif", serif' dy="4.5">)</tspan></text>
<rect x="564.0" y="748.8" width="109.10" height="22.60" stroke="#3a3a3a" stroke-width="1" fill="#fff"/>
<text x="567.20" y="765.20" font-family='"Liberation Serif", serif' font-weight="bold" font-size="15">(h)</text>
<text x="592.83" y="765.20" class="tt">B<tspan font-size="7.5" dy="4.3">s</tspan></text>
<path d="M604.83 762.30H614.23" stroke="#000" stroke-width="0.7" fill="none"/>
<path d="M611.43 759.30L614.83 762.30L611.43 765.30" stroke="#111" stroke-width="1.0" fill="none"/>
<text x="616.43" y="765.20" class="tt"><tspan font-family='"Liberation Serif", serif' font-size="11.8">η</tspan><tspan font-size="7.5" dy="4.3">c</tspan><tspan font-family='"Liberation Serif", serif' font-size="12.2" dy="-4.3">(2</tspan>S<tspan font-family='"Liberation Serif", serif' font-size="12.2">)</tspan><tspan font-family='"Liberation Serif", serif' font-size="11.8">K</tspan><tspan font-size="7" dy="-6.8" fill="#555" stroke="none">+</tspan><tspan font-family='"Liberation Serif", serif' font-size="11.8" dy="6.8">K</tspan><tspan font-size="7" dy="-6.8" fill="#555" stroke="none">−</tspan></text>
<defs><clipPath id="clipa"><rect x="46.45" y="6.15" width="272.80" height="200.40"/></clipPath><clipPath id="clipb"><rect x="404.35" y="6.15" width="272.80" height="200.40"/></clipPath><clipPath id="clipc"><rect x="46.45" y="252.15" width="272.80" height="200.40"/></clipPath><clipPath id="clipd"><rect x="404.35" y="252.15" width="272.80" height="200.40"/></clipPath><clipPath id="clipe"><rect x="46.45" y="498.15" width="272.80" height="200.40"/></clipPath><clipPath id="clipf"><rect x="404.35" y="498.15" width="272.80" height="200.40"/></clipPath><clipPath id="clipg"><rect x="46.45" y="744.15" width="272.80" height="200.40"/></clipPath><clipPath id="cliph"><rect x="404.35" y="744.15" width="272.80" height="200.40"/></clipPath></defs>
</svg></body></html>
